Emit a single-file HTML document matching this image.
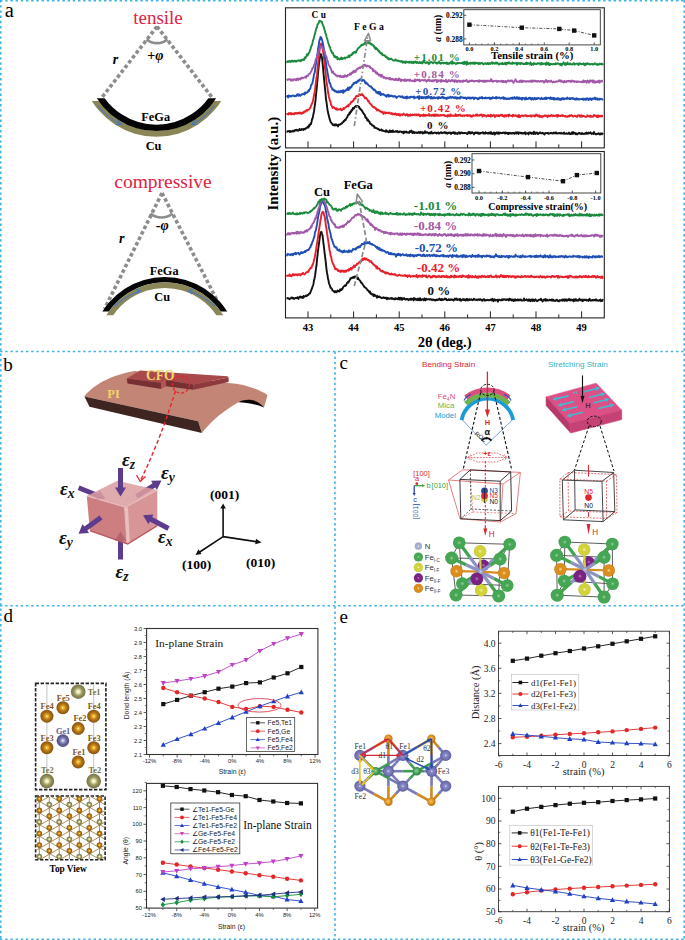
<!DOCTYPE html>
<html><head><meta charset="utf-8"><style>
html,body{margin:0;padding:0;background:#fff;}
svg{display:block;}
</style></head><body>
<svg width="685" height="940" viewBox="0 0 685 940">
<rect width="685" height="940" fill="#fff"/>
<line x1='0.8' y1='0' x2='0.8' y2='940' stroke='#3db4e6' stroke-width='1.6' stroke-dasharray='2.4 2.8'/>
<line x1='684.2' y1='0' x2='684.2' y2='940' stroke='#3db4e6' stroke-width='1.6' stroke-dasharray='2.4 2.8'/>
<line x1='0' y1='0.8' x2='685' y2='0.8' stroke='#3db4e6' stroke-width='1.6' stroke-dasharray='2.4 2.8'/>
<line x1='0' y1='939.2' x2='685' y2='939.2' stroke='#3db4e6' stroke-width='1.6' stroke-dasharray='2.4 2.8'/>
<line x1='0' y1='351.5' x2='685' y2='351.5' stroke='#3db4e6' stroke-width='1.6' stroke-dasharray='2.4 2.8'/>
<line x1='0' y1='605.8' x2='685' y2='605.8' stroke='#3db4e6' stroke-width='1.6' stroke-dasharray='2.4 2.8'/>
<line x1='335' y1='351.5' x2='335' y2='940' stroke='#3db4e6' stroke-width='1.6' stroke-dasharray='2.4 2.8'/>
<rect x='285.5' y='7.8' width='318.79999999999995' height='140.1' fill='none' stroke='#222' stroke-width='1.1'/>
<rect x='285.5' y='151.5' width='318.79999999999995' height='166.39999999999998' fill='none' stroke='#222' stroke-width='1.1'/>
<line x1='308.0' y1='147.9' x2='308.0' y2='141.4' stroke='#222' stroke-width='1'/>
<line x1='330.8' y1='147.9' x2='330.8' y2='144.4' stroke='#222' stroke-width='1'/>
<line x1='353.6' y1='147.9' x2='353.6' y2='141.4' stroke='#222' stroke-width='1'/>
<line x1='376.4' y1='147.9' x2='376.4' y2='144.4' stroke='#222' stroke-width='1'/>
<line x1='399.2' y1='147.9' x2='399.2' y2='141.4' stroke='#222' stroke-width='1'/>
<line x1='422.0' y1='147.9' x2='422.0' y2='144.4' stroke='#222' stroke-width='1'/>
<line x1='444.8' y1='147.9' x2='444.8' y2='141.4' stroke='#222' stroke-width='1'/>
<line x1='467.6' y1='147.9' x2='467.6' y2='144.4' stroke='#222' stroke-width='1'/>
<line x1='490.4' y1='147.9' x2='490.4' y2='141.4' stroke='#222' stroke-width='1'/>
<line x1='513.2' y1='147.9' x2='513.2' y2='144.4' stroke='#222' stroke-width='1'/>
<line x1='536.0' y1='147.9' x2='536.0' y2='141.4' stroke='#222' stroke-width='1'/>
<line x1='558.8' y1='147.9' x2='558.8' y2='144.4' stroke='#222' stroke-width='1'/>
<line x1='581.6' y1='147.9' x2='581.6' y2='141.4' stroke='#222' stroke-width='1'/>
<line x1='308.0' y1='317.9' x2='308.0' y2='311.4' stroke='#222' stroke-width='1'/>
<line x1='330.8' y1='317.9' x2='330.8' y2='314.4' stroke='#222' stroke-width='1'/>
<line x1='353.6' y1='317.9' x2='353.6' y2='311.4' stroke='#222' stroke-width='1'/>
<line x1='376.4' y1='317.9' x2='376.4' y2='314.4' stroke='#222' stroke-width='1'/>
<line x1='399.2' y1='317.9' x2='399.2' y2='311.4' stroke='#222' stroke-width='1'/>
<line x1='422.0' y1='317.9' x2='422.0' y2='314.4' stroke='#222' stroke-width='1'/>
<line x1='444.8' y1='317.9' x2='444.8' y2='311.4' stroke='#222' stroke-width='1'/>
<line x1='467.6' y1='317.9' x2='467.6' y2='314.4' stroke='#222' stroke-width='1'/>
<line x1='490.4' y1='317.9' x2='490.4' y2='311.4' stroke='#222' stroke-width='1'/>
<line x1='513.2' y1='317.9' x2='513.2' y2='314.4' stroke='#222' stroke-width='1'/>
<line x1='536.0' y1='317.9' x2='536.0' y2='311.4' stroke='#222' stroke-width='1'/>
<line x1='558.8' y1='317.9' x2='558.8' y2='314.4' stroke='#222' stroke-width='1'/>
<line x1='581.6' y1='317.9' x2='581.6' y2='311.4' stroke='#222' stroke-width='1'/>
<text x='308.0' y='330.5' font-family='Liberation Serif' font-size='10.5' fill='#000' font-weight='bold' text-anchor='middle' >43</text>
<text x='353.6' y='330.5' font-family='Liberation Serif' font-size='10.5' fill='#000' font-weight='bold' text-anchor='middle' >44</text>
<text x='399.2' y='330.5' font-family='Liberation Serif' font-size='10.5' fill='#000' font-weight='bold' text-anchor='middle' >45</text>
<text x='444.8' y='330.5' font-family='Liberation Serif' font-size='10.5' fill='#000' font-weight='bold' text-anchor='middle' >46</text>
<text x='490.4' y='330.5' font-family='Liberation Serif' font-size='10.5' fill='#000' font-weight='bold' text-anchor='middle' >47</text>
<text x='536.0' y='330.5' font-family='Liberation Serif' font-size='10.5' fill='#000' font-weight='bold' text-anchor='middle' >48</text>
<text x='581.6' y='330.5' font-family='Liberation Serif' font-size='10.5' fill='#000' font-weight='bold' text-anchor='middle' >49</text>
<text x='444.7' y='347.2' font-family='Liberation Serif' font-size='14.6' fill='#000' font-weight='bold' text-anchor='middle' >2θ (deg.)</text>
<text transform='translate(278.4,163.7) rotate(-90)' font-family='Liberation Serif' font-size='15' font-weight='bold' text-anchor='middle'>Intensity (a.u.)</text>
<polyline points='286.5,131.6 287.0,131.8 287.5,131.4 288.0,131.0 288.5,131.3 289.0,130.9 289.5,131.5 290.0,132.1 290.5,131.1 291.0,131.0 291.5,131.6 292.0,131.5 292.5,131.3 293.0,130.7 293.5,131.1 294.0,131.5 294.5,130.3 295.0,130.7 295.5,129.9 296.0,130.2 296.5,129.8 297.0,130.6 297.5,130.0 298.0,130.7 298.5,130.6 299.0,130.3 299.5,129.0 300.0,130.0 300.5,130.1 301.0,130.1 301.5,129.1 302.0,129.5 302.5,129.1 303.0,129.1 303.5,130.0 304.0,128.8 304.5,129.0 305.0,129.3 305.5,128.3 306.0,128.3 306.5,128.2 307.0,127.8 307.5,126.8 308.0,127.1 308.5,127.4 309.0,125.2 309.5,126.0 310.0,124.8 310.5,123.5 311.0,124.0 311.5,122.0 312.0,119.5 312.5,118.4 313.0,116.6 313.5,113.7 314.0,111.4 314.5,107.7 315.0,104.4 315.5,100.6 316.0,94.9 316.5,90.4 317.0,84.8 317.5,79.6 318.0,73.4 318.5,68.4 319.0,63.7 319.5,60.1 320.0,57.2 320.5,54.1 321.0,54.2 321.5,56.4 322.0,57.7 322.5,62.4 323.0,67.3 323.5,73.3 324.0,78.4 324.5,83.3 325.0,88.5 325.5,93.5 326.0,99.1 326.5,102.2 327.0,106.0 327.5,109.7 328.0,112.2 328.5,114.6 329.0,116.2 329.5,118.6 330.0,119.8 330.5,121.8 331.0,122.5 331.5,122.9 332.0,123.9 332.5,123.9 333.0,125.0 333.5,124.8 334.0,125.3 334.5,124.5 335.0,125.5 335.5,124.5 336.0,124.3 336.5,125.2 337.0,124.9 337.5,125.4 338.0,126.4 338.5,124.6 339.0,124.5 339.5,124.8 340.0,124.7 340.5,124.0 341.0,123.7 341.5,123.9 342.0,123.4 342.5,122.1 343.0,122.2 343.5,121.8 344.0,120.7 344.5,120.9 345.0,119.7 345.5,120.1 346.0,119.0 346.5,118.3 347.0,117.3 347.5,116.8 348.0,115.0 348.5,114.8 349.0,114.8 349.5,112.7 350.0,113.6 350.5,111.4 351.0,112.0 351.5,110.3 352.0,110.5 352.5,109.5 353.0,107.9 353.5,108.8 354.0,108.4 354.5,107.1 355.0,106.6 355.5,106.4 356.0,105.8 356.5,106.8 357.0,105.9 357.5,106.3 358.0,106.1 358.5,106.5 359.0,106.6 359.5,108.4 360.0,108.2 360.5,109.5 361.0,109.6 361.5,109.9 362.0,110.9 362.5,111.6 363.0,112.7 363.5,113.3 364.0,114.2 364.5,114.4 365.0,115.5 365.5,117.7 366.0,117.2 366.5,117.7 367.0,119.3 367.5,120.6 368.0,119.7 368.5,121.1 369.0,121.5 369.5,121.5 370.0,123.5 370.5,123.6 371.0,124.2 371.5,124.2 372.0,125.4 372.5,125.3 373.0,125.9 373.5,125.8 374.0,126.1 374.5,127.9 375.0,127.2 375.5,127.9 376.0,128.0 376.5,128.1 377.0,128.3 377.5,129.1 378.0,128.8 378.5,129.1 379.0,129.4 379.5,130.2 380.0,130.1 380.5,130.1 381.0,129.7 381.5,129.4 382.0,130.8 382.5,130.9 383.0,130.4 383.5,130.8 384.0,131.1 384.5,131.2 385.0,131.3 385.5,130.6 386.0,131.8 386.5,130.3 387.0,131.5 387.5,131.4 388.0,131.7 388.5,132.3 389.0,132.1 389.5,130.7 390.0,130.5 390.5,131.9 391.0,130.9 391.5,131.5 392.0,132.0 392.5,130.7 393.0,130.5 393.5,131.8 394.0,131.7 394.5,131.6 395.0,131.8 395.5,131.3 396.0,131.0 396.5,131.7 397.0,131.3 397.5,131.0 398.0,132.2 398.5,131.9 399.0,132.2 399.5,131.4 400.0,131.6 400.5,131.5 401.0,131.6 401.5,132.2 402.0,131.7 402.5,132.3 403.0,132.3 403.5,133.3 404.0,131.4 404.5,132.7 405.0,132.2 405.5,132.2 406.0,131.4 406.5,132.0 407.0,132.7 407.5,132.2 408.0,132.3 408.5,132.2 409.0,133.0 409.5,132.3 410.0,131.1 410.5,132.0 411.0,131.3 411.5,130.6 412.0,132.1 412.5,133.1 413.0,132.5 413.5,131.8 414.0,131.9 414.5,133.1 415.0,132.6 415.5,132.5 416.0,132.5 416.5,132.5 417.0,133.0 417.5,132.8 418.0,132.7 418.5,132.0 419.0,132.8 419.5,132.2 420.0,133.2 420.5,131.9 421.0,132.5 421.5,132.6 422.0,131.9 422.5,133.6 423.0,133.4 423.5,132.4 424.0,133.1 424.5,132.9 425.0,131.2 425.5,132.8 426.0,132.6 426.5,132.7 427.0,132.1 427.5,132.5 428.0,132.6 428.5,133.4 429.0,132.9 429.5,132.7 430.0,133.6 430.5,132.4 431.0,132.5 431.5,131.7 432.0,133.6 432.5,133.3 433.0,133.3 433.5,133.1 434.0,132.8 434.5,132.9 435.0,132.6 435.5,132.7 436.0,132.8 436.5,133.6 437.0,133.1 437.5,132.8 438.0,132.5 438.5,132.5 439.0,133.7 439.5,133.1 440.0,132.9 440.5,132.6 441.0,132.2 441.5,132.8 442.0,133.3 442.5,132.6 443.0,132.7 443.5,132.7 444.0,132.9 444.5,132.0 445.0,132.7 445.5,132.4 446.0,133.4 446.5,132.5 447.0,133.2 447.5,133.7 448.0,132.7 448.5,132.6 449.0,133.0 449.5,132.9 450.0,132.4 450.5,133.2 451.0,134.0 451.5,132.8 452.0,132.8 452.5,132.4 453.0,133.1 453.5,132.3 454.0,132.3 454.5,133.7 455.0,132.5 455.5,133.6 456.0,133.8 456.5,133.1 457.0,133.3 457.5,134.0 458.0,132.9 458.5,132.7 459.0,132.2 459.5,133.0 460.0,133.8 460.5,133.5 461.0,132.5 461.5,132.5 462.0,132.7 462.5,133.2 463.0,132.9 463.5,133.1 464.0,133.2 464.5,132.9 465.0,133.0 465.5,133.1 466.0,133.0 466.5,133.3 467.0,134.1 467.5,133.4 468.0,133.1 468.5,132.1 469.0,133.3 469.5,132.0 470.0,132.3 470.5,133.5 471.0,133.4 471.5,133.0 472.0,132.1 472.5,132.9 473.0,132.7 473.5,133.4 474.0,134.3 474.5,133.2 475.0,132.6 475.5,132.4 476.0,133.1 476.5,133.0 477.0,132.5 477.5,133.2 478.0,132.5 478.5,133.7 479.0,133.7 479.5,133.7 480.0,132.8 480.5,133.4 481.0,133.0 481.5,132.9 482.0,132.9 482.5,132.4 483.0,132.3 483.5,133.6 484.0,133.0 484.5,133.2 485.0,133.7 485.5,132.2 486.0,132.7 486.5,133.2 487.0,133.4 487.5,132.9 488.0,133.7 488.5,133.3 489.0,132.5 489.5,132.6 490.0,133.6 490.5,133.4 491.0,132.1 491.5,133.9 492.0,133.5 492.5,133.9 493.0,133.0 493.5,133.0 494.0,132.5 494.5,134.6 495.0,133.1 495.5,134.0 496.0,132.8 496.5,133.3 497.0,132.3 497.5,133.0 498.0,133.7 498.5,132.5 499.0,133.8 499.5,133.4 500.0,132.6 500.5,132.9 501.0,132.9 501.5,133.2 502.0,132.9 502.5,132.8 503.0,133.0 503.5,132.6 504.0,132.5 504.5,133.2 505.0,133.7 505.5,132.4 506.0,133.2 506.5,132.9 507.0,132.7 507.5,133.7 508.0,132.9 508.5,134.1 509.0,132.8 509.5,133.4 510.0,133.1 510.5,132.8 511.0,133.6 511.5,133.2 512.0,133.6 512.5,133.2 513.0,132.7 513.5,133.2 514.0,133.3 514.5,133.8 515.0,132.8 515.5,133.2 516.0,132.3 516.5,133.6 517.0,132.7 517.5,132.3 518.0,133.2 518.5,133.9 519.0,132.4 519.5,132.7 520.0,132.9 520.5,132.7 521.0,133.5 521.5,132.8 522.0,132.9 522.5,133.6 523.0,132.9 523.5,133.5 524.0,132.8 524.5,132.6 525.0,132.3 525.5,134.3 526.0,133.1 526.5,133.4 527.0,133.3 527.5,133.4 528.0,133.3 528.5,134.4 529.0,132.7 529.5,132.5 530.0,132.8 530.5,132.6 531.0,133.7 531.5,133.8 532.0,132.8 532.5,132.6 533.0,133.1 533.5,134.1 534.0,131.8 534.5,133.6 535.0,132.7 535.5,133.9 536.0,132.7 536.5,133.2 537.0,132.5 537.5,132.8 538.0,134.1 538.5,133.8 539.0,133.1 539.5,132.9 540.0,132.3 540.5,133.1 541.0,133.3 541.5,133.3 542.0,133.3 542.5,132.7 543.0,133.3 543.5,133.3 544.0,134.1 544.5,134.4 545.0,133.3 545.5,132.9 546.0,133.3 546.5,133.0 547.0,133.0 547.5,133.3 548.0,132.8 548.5,133.7 549.0,133.3 549.5,133.5 550.0,133.3 550.5,133.0 551.0,132.9 551.5,133.3 552.0,133.1 552.5,133.5 553.0,133.4 553.5,132.6 554.0,133.4 554.5,132.7 555.0,133.1 555.5,133.2 556.0,132.3 556.5,133.5 557.0,133.5 557.5,133.3 558.0,133.2 558.5,133.2 559.0,132.9 559.5,133.3 560.0,133.1 560.5,133.5 561.0,132.8 561.5,133.6 562.0,133.5 562.5,133.4 563.0,133.2 563.5,133.7 564.0,132.5 564.5,133.7 565.0,133.6 565.5,133.6 566.0,133.7 566.5,133.1 567.0,133.3 567.5,133.8 568.0,133.7 568.5,133.6 569.0,132.6 569.5,133.7 570.0,134.1 570.5,134.0 571.0,133.6 571.5,132.6 572.0,134.0 572.5,133.4 573.0,132.1 573.5,133.7 574.0,132.6 574.5,132.8 575.0,133.1 575.5,134.2 576.0,133.3 576.5,133.6 577.0,134.4 577.5,134.4 578.0,133.4 578.5,133.3 579.0,132.8 579.5,133.1 580.0,133.7 580.5,133.7 581.0,133.5 581.5,134.0 582.0,133.1 582.5,133.5 583.0,133.9 583.5,133.8 584.0,134.1 584.5,133.7 585.0,133.3 585.5,133.7 586.0,133.0 586.5,132.6 587.0,133.8 587.5,133.5 588.0,133.7 588.5,132.6 589.0,133.3 589.5,133.2 590.0,133.0 590.5,132.3 591.0,133.3 591.5,134.0 592.0,133.7 592.5,133.2 593.0,133.5 593.5,133.9 594.0,132.0 594.5,133.5 595.0,133.8 595.5,133.9 596.0,134.5 596.5,134.2 597.0,133.7 597.5,133.7 598.0,134.0 598.5,133.2 599.0,133.5 599.5,134.0 600.0,134.6 600.5,133.5 601.0,133.5 601.5,133.7 602.0,134.3 602.5,133.5 603.0,134.4' fill='none' stroke='#111111' stroke-width='1.9' stroke-linejoin='round'/>
<polyline points='286.5,113.5 287.0,113.9 287.5,113.9 288.0,114.4 288.5,114.5 289.0,113.1 289.5,113.4 290.0,114.1 290.5,113.5 291.0,113.0 291.5,114.4 292.0,114.0 292.5,114.0 293.0,113.4 293.5,114.2 294.0,113.5 294.5,114.2 295.0,113.0 295.5,113.0 296.0,113.5 296.5,113.0 297.0,113.7 297.5,113.4 298.0,112.7 298.5,113.2 299.0,112.8 299.5,113.5 300.0,112.5 300.5,112.6 301.0,113.4 301.5,113.8 302.0,113.6 302.5,112.4 303.0,112.4 303.5,113.0 304.0,111.9 304.5,111.3 305.0,111.7 305.5,111.7 306.0,110.8 306.5,110.1 307.0,110.0 307.5,110.8 308.0,109.7 308.5,109.6 309.0,109.4 309.5,109.0 310.0,107.9 310.5,107.5 311.0,105.8 311.5,105.0 312.0,103.3 312.5,102.9 313.0,100.4 313.5,97.9 314.0,95.6 314.5,92.9 315.0,90.2 315.5,85.3 316.0,81.7 316.5,77.8 317.0,74.9 317.5,69.3 318.0,64.0 318.5,59.7 319.0,55.9 319.5,50.6 320.0,47.1 320.5,45.5 321.0,43.8 321.5,43.7 322.0,44.2 322.5,47.7 323.0,50.8 323.5,54.1 324.0,58.5 324.5,61.7 325.0,67.9 325.5,72.2 326.0,77.0 326.5,81.4 327.0,84.8 327.5,87.7 328.0,92.0 328.5,94.3 329.0,97.0 329.5,99.0 330.0,101.0 330.5,101.5 331.0,104.8 331.5,105.3 332.0,106.7 332.5,107.9 333.0,107.4 333.5,106.9 334.0,107.8 334.5,108.0 335.0,108.6 335.5,109.2 336.0,108.2 336.5,109.6 337.0,108.7 337.5,109.7 338.0,109.6 338.5,109.5 339.0,109.6 339.5,109.3 340.0,109.2 340.5,108.5 341.0,109.3 341.5,110.2 342.0,110.2 342.5,109.6 343.0,109.1 343.5,108.1 344.0,109.1 344.5,108.0 345.0,107.7 345.5,107.3 346.0,107.1 346.5,106.5 347.0,106.3 347.5,105.4 348.0,105.4 348.5,106.4 349.0,104.6 349.5,104.1 350.0,104.0 350.5,103.6 351.0,102.0 351.5,102.0 352.0,102.1 352.5,101.2 353.0,100.5 353.5,100.7 354.0,98.9 354.5,98.8 355.0,97.9 355.5,98.5 356.0,96.1 356.5,96.3 357.0,96.0 357.5,96.2 358.0,95.9 358.5,96.0 359.0,94.1 359.5,95.3 360.0,94.6 360.5,94.4 361.0,95.1 361.5,94.4 362.0,94.0 362.5,95.2 363.0,94.9 363.5,95.7 364.0,96.7 364.5,97.1 365.0,98.3 365.5,97.9 366.0,97.7 366.5,98.7 367.0,99.2 367.5,99.7 368.0,101.2 368.5,101.2 369.0,101.1 369.5,103.1 370.0,103.3 370.5,104.1 371.0,104.5 371.5,105.3 372.0,105.5 372.5,106.7 373.0,106.7 373.5,107.2 374.0,107.6 374.5,107.1 375.0,108.2 375.5,108.5 376.0,109.1 376.5,108.6 377.0,110.6 377.5,110.1 378.0,109.6 378.5,109.6 379.0,110.7 379.5,111.0 380.0,110.9 380.5,111.6 381.0,111.4 381.5,112.2 382.0,111.7 382.5,112.2 383.0,112.9 383.5,113.9 384.0,112.1 384.5,112.5 385.0,112.4 385.5,113.4 386.0,112.5 386.5,112.9 387.0,113.3 387.5,112.8 388.0,112.9 388.5,113.2 389.0,112.4 389.5,112.8 390.0,113.5 390.5,113.8 391.0,113.7 391.5,112.9 392.0,113.6 392.5,114.4 393.0,114.3 393.5,114.0 394.0,113.6 394.5,114.5 395.0,113.8 395.5,113.5 396.0,113.8 396.5,115.0 397.0,114.4 397.5,114.9 398.0,114.1 398.5,114.9 399.0,114.0 399.5,114.3 400.0,115.8 400.5,114.9 401.0,114.2 401.5,114.5 402.0,114.7 402.5,115.2 403.0,114.3 403.5,113.6 404.0,114.4 404.5,114.6 405.0,114.7 405.5,115.4 406.0,114.8 406.5,115.1 407.0,114.1 407.5,115.2 408.0,115.9 408.5,115.2 409.0,114.9 409.5,114.9 410.0,115.8 410.5,114.3 411.0,114.8 411.5,115.1 412.0,115.3 412.5,114.6 413.0,115.0 413.5,114.7 414.0,115.0 414.5,114.8 415.0,114.3 415.5,114.9 416.0,115.4 416.5,114.4 417.0,114.8 417.5,115.3 418.0,114.4 418.5,115.1 419.0,114.4 419.5,115.6 420.0,116.3 420.5,116.1 421.0,114.9 421.5,115.5 422.0,115.1 422.5,115.1 423.0,115.9 423.5,114.4 424.0,115.7 424.5,115.1 425.0,115.9 425.5,115.2 426.0,114.8 426.5,115.3 427.0,115.5 427.5,115.2 428.0,115.4 428.5,114.9 429.0,114.0 429.5,115.7 430.0,115.6 430.5,115.3 431.0,115.2 431.5,115.8 432.0,115.0 432.5,114.8 433.0,115.1 433.5,115.9 434.0,114.5 434.5,115.9 435.0,114.9 435.5,114.6 436.0,115.9 436.5,115.2 437.0,114.5 437.5,115.1 438.0,115.8 438.5,115.9 439.0,115.1 439.5,115.5 440.0,115.7 440.5,114.9 441.0,115.5 441.5,115.3 442.0,115.0 442.5,115.1 443.0,115.4 443.5,115.3 444.0,115.0 444.5,115.1 445.0,116.0 445.5,115.5 446.0,115.8 446.5,116.0 447.0,115.7 447.5,116.6 448.0,114.9 448.5,115.8 449.0,115.2 449.5,116.4 450.0,116.3 450.5,114.3 451.0,114.9 451.5,115.8 452.0,115.8 452.5,115.8 453.0,115.4 453.5,115.7 454.0,115.8 454.5,115.4 455.0,116.0 455.5,114.2 456.0,115.8 456.5,114.9 457.0,116.0 457.5,115.3 458.0,115.0 458.5,115.7 459.0,115.0 459.5,115.0 460.0,114.6 460.5,115.5 461.0,115.7 461.5,116.0 462.0,115.4 462.5,116.1 463.0,115.5 463.5,115.4 464.0,115.8 464.5,116.1 465.0,115.3 465.5,115.4 466.0,115.4 466.5,115.6 467.0,115.0 467.5,116.1 468.0,115.3 468.5,115.8 469.0,115.1 469.5,115.7 470.0,115.8 470.5,115.3 471.0,116.7 471.5,115.8 472.0,116.5 472.5,116.1 473.0,115.2 473.5,115.3 474.0,115.8 474.5,115.6 475.0,115.6 475.5,115.4 476.0,114.6 476.5,115.5 477.0,114.4 477.5,115.8 478.0,115.2 478.5,115.2 479.0,115.5 479.5,115.7 480.0,114.8 480.5,114.6 481.0,115.0 481.5,114.5 482.0,115.1 482.5,116.5 483.0,115.0 483.5,116.0 484.0,114.9 484.5,115.8 485.0,115.5 485.5,115.6 486.0,115.9 486.5,116.6 487.0,115.7 487.5,115.7 488.0,115.1 488.5,116.0 489.0,115.5 489.5,116.1 490.0,115.6 490.5,116.6 491.0,114.6 491.5,115.5 492.0,116.2 492.5,115.5 493.0,115.2 493.5,115.5 494.0,114.9 494.5,115.7 495.0,117.0 495.5,116.3 496.0,115.1 496.5,115.2 497.0,115.5 497.5,116.2 498.0,115.2 498.5,115.3 499.0,116.2 499.5,116.2 500.0,115.5 500.5,115.1 501.0,114.9 501.5,115.3 502.0,114.5 502.5,116.1 503.0,115.4 503.5,116.0 504.0,116.8 504.5,116.4 505.0,115.1 505.5,116.2 506.0,116.4 506.5,115.3 507.0,115.2 507.5,115.7 508.0,114.9 508.5,116.6 509.0,114.4 509.5,115.1 510.0,115.6 510.5,115.6 511.0,115.9 511.5,115.9 512.0,115.7 512.5,116.4 513.0,114.6 513.5,115.8 514.0,115.4 514.5,115.9 515.0,115.9 515.5,115.3 516.0,115.4 516.5,116.2 517.0,116.0 517.5,115.4 518.0,116.9 518.5,117.1 519.0,115.0 519.5,116.0 520.0,117.2 520.5,116.2 521.0,115.9 521.5,115.7 522.0,115.5 522.5,115.7 523.0,115.5 523.5,116.2 524.0,115.6 524.5,115.6 525.0,115.2 525.5,115.8 526.0,115.3 526.5,115.7 527.0,116.4 527.5,116.0 528.0,116.1 528.5,116.0 529.0,115.9 529.5,115.8 530.0,115.7 530.5,116.3 531.0,115.3 531.5,116.6 532.0,115.9 532.5,115.5 533.0,115.6 533.5,115.5 534.0,116.0 534.5,115.5 535.0,116.5 535.5,115.4 536.0,114.6 536.5,115.5 537.0,114.8 537.5,115.9 538.0,116.5 538.5,116.2 539.0,115.2 539.5,115.5 540.0,116.9 540.5,116.1 541.0,115.9 541.5,116.5 542.0,117.3 542.5,116.6 543.0,116.0 543.5,116.1 544.0,116.3 544.5,115.6 545.0,115.3 545.5,116.0 546.0,115.4 546.5,115.9 547.0,116.0 547.5,117.2 548.0,115.5 548.5,115.9 549.0,115.8 549.5,116.2 550.0,116.5 550.5,115.7 551.0,115.5 551.5,115.0 552.0,115.4 552.5,116.2 553.0,116.0 553.5,115.4 554.0,115.8 554.5,116.0 555.0,116.2 555.5,115.6 556.0,115.8 556.5,115.0 557.0,115.3 557.5,116.9 558.0,114.8 558.5,115.8 559.0,116.1 559.5,115.8 560.0,115.5 560.5,116.0 561.0,116.0 561.5,115.9 562.0,115.0 562.5,115.9 563.0,115.5 563.5,115.7 564.0,116.1 564.5,116.4 565.0,116.5 565.5,115.7 566.0,116.5 566.5,116.7 567.0,116.6 567.5,116.8 568.0,115.9 568.5,115.9 569.0,116.5 569.5,115.3 570.0,116.1 570.5,115.7 571.0,115.8 571.5,115.1 572.0,115.5 572.5,116.0 573.0,116.5 573.5,116.6 574.0,116.0 574.5,115.9 575.0,115.6 575.5,116.3 576.0,115.9 576.5,116.4 577.0,117.0 577.5,116.0 578.0,115.2 578.5,115.6 579.0,115.3 579.5,115.4 580.0,116.8 580.5,116.2 581.0,115.2 581.5,116.4 582.0,116.8 582.5,115.9 583.0,115.7 583.5,115.9 584.0,116.2 584.5,116.4 585.0,116.7 585.5,116.8 586.0,116.7 586.5,116.8 587.0,116.5 587.5,115.3 588.0,116.0 588.5,116.3 589.0,115.9 589.5,116.6 590.0,115.9 590.5,115.6 591.0,116.9 591.5,116.5 592.0,116.2 592.5,116.6 593.0,116.7 593.5,116.3 594.0,114.8 594.5,115.8 595.0,115.9 595.5,115.6 596.0,116.2 596.5,116.8 597.0,115.9 597.5,115.5 598.0,117.3 598.5,115.9 599.0,115.5 599.5,116.3 600.0,116.4 600.5,115.8 601.0,116.6 601.5,115.9 602.0,115.7 602.5,116.3 603.0,116.6' fill='none' stroke='#e8202a' stroke-width='1.9' stroke-linejoin='round'/>
<polyline points='286.5,95.7 287.0,96.2 287.5,95.9 288.0,97.5 288.5,95.5 289.0,96.7 289.5,95.9 290.0,95.8 290.5,96.2 291.0,96.3 291.5,96.5 292.0,95.9 292.5,95.4 293.0,95.4 293.5,95.9 294.0,95.9 294.5,96.3 295.0,95.7 295.5,96.0 296.0,96.2 296.5,95.4 297.0,94.4 297.5,94.6 298.0,94.3 298.5,95.9 299.0,94.5 299.5,95.6 300.0,95.1 300.5,95.7 301.0,95.2 301.5,94.5 302.0,94.3 302.5,94.3 303.0,94.3 303.5,93.7 304.0,93.8 304.5,94.5 305.0,92.5 305.5,93.4 306.0,92.5 306.5,92.8 307.0,92.8 307.5,91.9 308.0,91.9 308.5,90.1 309.0,90.9 309.5,89.3 310.0,89.1 310.5,87.8 311.0,85.1 311.5,84.8 312.0,83.8 312.5,82.8 313.0,80.1 313.5,77.8 314.0,74.4 314.5,73.3 315.0,70.6 315.5,66.4 316.0,63.0 316.5,58.7 317.0,56.6 317.5,54.0 318.0,49.5 318.5,46.6 319.0,43.3 319.5,40.0 320.0,39.5 320.5,37.0 321.0,37.3 321.5,38.2 322.0,39.8 322.5,41.6 323.0,44.2 323.5,46.6 324.0,49.6 324.5,53.8 325.0,56.9 325.5,60.0 326.0,63.4 326.5,67.1 327.0,69.4 327.5,72.5 328.0,74.9 328.5,78.2 329.0,80.4 329.5,83.2 330.0,82.9 330.5,84.7 331.0,86.8 331.5,87.2 332.0,88.1 332.5,89.9 333.0,89.4 333.5,89.5 334.0,89.9 334.5,91.1 335.0,91.4 335.5,90.7 336.0,91.1 336.5,92.1 337.0,92.2 337.5,91.6 338.0,92.4 338.5,92.4 339.0,91.1 339.5,91.9 340.0,92.3 340.5,91.7 341.0,90.7 341.5,91.7 342.0,92.1 342.5,92.5 343.0,90.2 343.5,92.7 344.0,90.5 344.5,91.4 345.0,91.3 345.5,91.0 346.0,90.2 346.5,89.2 347.0,89.9 347.5,88.9 348.0,87.6 348.5,90.1 349.0,88.6 349.5,88.8 350.0,86.9 350.5,87.8 351.0,87.5 351.5,87.0 352.0,85.7 352.5,84.6 353.0,84.7 353.5,83.2 354.0,83.0 354.5,83.5 355.0,82.5 355.5,82.5 356.0,82.1 356.5,82.9 357.0,82.1 357.5,81.1 358.0,81.4 358.5,80.1 359.0,80.1 359.5,80.6 360.0,79.3 360.5,79.8 361.0,79.2 361.5,80.0 362.0,81.0 362.5,79.8 363.0,80.6 363.5,80.2 364.0,80.3 364.5,80.6 365.0,82.5 365.5,83.4 366.0,82.8 366.5,82.6 367.0,83.8 367.5,83.7 368.0,84.9 368.5,85.1 369.0,85.6 369.5,86.2 370.0,86.1 370.5,86.6 371.0,86.4 371.5,87.6 372.0,87.5 372.5,88.6 373.0,88.6 373.5,89.6 374.0,90.2 374.5,89.6 375.0,90.3 375.5,90.5 376.0,91.8 376.5,92.7 377.0,92.5 377.5,92.1 378.0,93.4 378.5,92.0 379.0,93.9 379.5,93.0 380.0,92.0 380.5,95.2 381.0,94.8 381.5,93.6 382.0,94.4 382.5,94.4 383.0,94.7 383.5,94.0 384.0,94.6 384.5,95.3 385.0,95.3 385.5,95.9 386.0,95.4 386.5,96.8 387.0,95.2 387.5,95.8 388.0,94.7 388.5,95.1 389.0,96.6 389.5,95.4 390.0,96.3 390.5,96.0 391.0,95.5 391.5,96.0 392.0,95.9 392.5,96.0 393.0,96.7 393.5,96.7 394.0,96.1 394.5,95.9 395.0,96.6 395.5,96.4 396.0,97.1 396.5,98.0 397.0,97.1 397.5,96.6 398.0,96.6 398.5,96.2 399.0,96.2 399.5,96.2 400.0,96.5 400.5,96.5 401.0,97.2 401.5,96.6 402.0,96.7 402.5,96.2 403.0,97.8 403.5,97.2 404.0,97.9 404.5,97.4 405.0,97.8 405.5,96.9 406.0,97.4 406.5,98.5 407.0,96.4 407.5,97.7 408.0,98.0 408.5,97.3 409.0,97.5 409.5,97.8 410.0,96.8 410.5,97.4 411.0,96.7 411.5,96.8 412.0,96.8 412.5,97.1 413.0,97.3 413.5,97.5 414.0,96.4 414.5,98.4 415.0,97.9 415.5,97.7 416.0,97.1 416.5,97.3 417.0,97.6 417.5,97.6 418.0,96.4 418.5,97.8 419.0,99.0 419.5,96.3 420.0,97.9 420.5,97.6 421.0,97.3 421.5,98.2 422.0,96.8 422.5,97.5 423.0,98.3 423.5,97.3 424.0,97.2 424.5,97.5 425.0,97.2 425.5,98.4 426.0,97.0 426.5,98.0 427.0,96.8 427.5,97.9 428.0,97.5 428.5,96.1 429.0,97.5 429.5,96.9 430.0,97.3 430.5,98.4 431.0,96.9 431.5,97.0 432.0,98.4 432.5,97.7 433.0,98.5 433.5,97.8 434.0,97.1 434.5,97.6 435.0,98.3 435.5,98.2 436.0,97.6 436.5,97.7 437.0,97.6 437.5,97.3 438.0,98.8 438.5,97.7 439.0,97.0 439.5,97.4 440.0,98.1 440.5,98.1 441.0,97.6 441.5,97.3 442.0,97.7 442.5,96.8 443.0,97.0 443.5,98.2 444.0,97.5 444.5,98.0 445.0,98.4 445.5,98.1 446.0,97.8 446.5,99.0 447.0,98.2 447.5,97.6 448.0,98.2 448.5,98.0 449.0,97.3 449.5,97.8 450.0,97.7 450.5,96.7 451.0,97.7 451.5,97.7 452.0,97.6 452.5,96.9 453.0,97.6 453.5,97.8 454.0,97.9 454.5,97.2 455.0,98.2 455.5,97.2 456.0,97.7 456.5,98.6 457.0,97.5 457.5,97.6 458.0,98.5 458.5,97.7 459.0,97.7 459.5,98.0 460.0,98.5 460.5,96.7 461.0,97.5 461.5,97.4 462.0,97.3 462.5,97.5 463.0,97.5 463.5,98.1 464.0,97.4 464.5,98.0 465.0,98.2 465.5,97.6 466.0,98.0 466.5,98.9 467.0,98.2 467.5,97.6 468.0,98.0 468.5,97.5 469.0,98.1 469.5,98.5 470.0,97.5 470.5,97.9 471.0,98.6 471.5,97.7 472.0,98.1 472.5,97.5 473.0,97.6 473.5,97.7 474.0,99.2 474.5,97.8 475.0,97.8 475.5,97.7 476.0,98.0 476.5,98.4 477.0,98.2 477.5,99.2 478.0,98.2 478.5,98.9 479.0,98.2 479.5,98.4 480.0,97.3 480.5,98.0 481.0,98.1 481.5,98.0 482.0,96.9 482.5,98.6 483.0,97.9 483.5,97.9 484.0,98.0 484.5,98.0 485.0,98.4 485.5,97.4 486.0,97.6 486.5,98.3 487.0,98.2 487.5,97.9 488.0,97.8 488.5,97.7 489.0,98.1 489.5,98.8 490.0,97.6 490.5,99.0 491.0,98.6 491.5,97.9 492.0,98.6 492.5,97.4 493.0,97.2 493.5,97.5 494.0,98.0 494.5,98.0 495.0,97.9 495.5,98.3 496.0,97.0 496.5,98.5 497.0,97.4 497.5,97.9 498.0,98.0 498.5,97.6 499.0,97.5 499.5,97.7 500.0,98.2 500.5,98.6 501.0,98.6 501.5,97.7 502.0,97.8 502.5,97.8 503.0,98.5 503.5,97.2 504.0,99.0 504.5,98.0 505.0,97.9 505.5,98.5 506.0,98.9 506.5,98.5 507.0,98.9 507.5,98.4 508.0,99.0 508.5,99.0 509.0,98.3 509.5,99.1 510.0,98.4 510.5,98.4 511.0,97.8 511.5,98.2 512.0,98.8 512.5,97.6 513.0,98.7 513.5,98.5 514.0,98.5 514.5,97.1 515.0,98.3 515.5,98.7 516.0,97.9 516.5,98.4 517.0,97.1 517.5,98.7 518.0,98.0 518.5,98.9 519.0,97.4 519.5,98.8 520.0,98.3 520.5,98.8 521.0,97.9 521.5,98.1 522.0,99.6 522.5,98.0 523.0,98.0 523.5,98.3 524.0,97.9 524.5,99.1 525.0,99.4 525.5,98.1 526.0,97.5 526.5,99.1 527.0,99.1 527.5,98.9 528.0,99.1 528.5,98.0 529.0,98.4 529.5,97.7 530.0,97.7 530.5,99.0 531.0,98.1 531.5,99.7 532.0,98.5 532.5,98.1 533.0,98.9 533.5,99.5 534.0,98.8 534.5,97.8 535.0,98.7 535.5,99.3 536.0,98.2 536.5,98.1 537.0,99.1 537.5,98.6 538.0,97.9 538.5,98.3 539.0,98.1 539.5,98.7 540.0,98.6 540.5,99.2 541.0,98.9 541.5,97.7 542.0,98.8 542.5,99.1 543.0,98.8 543.5,99.1 544.0,98.3 544.5,98.0 545.0,99.1 545.5,98.0 546.0,97.4 546.5,99.1 547.0,98.2 547.5,98.4 548.0,97.8 548.5,97.9 549.0,98.0 549.5,98.4 550.0,98.8 550.5,97.3 551.0,99.0 551.5,98.0 552.0,98.0 552.5,99.0 553.0,98.6 553.5,97.8 554.0,99.7 554.5,98.2 555.0,98.8 555.5,98.8 556.0,99.4 556.5,98.4 557.0,99.2 557.5,98.3 558.0,99.3 558.5,98.2 559.0,98.5 559.5,99.7 560.0,98.9 560.5,98.7 561.0,99.9 561.5,98.9 562.0,98.2 562.5,99.1 563.0,98.0 563.5,99.3 564.0,99.4 564.5,98.4 565.0,98.4 565.5,98.8 566.0,98.7 566.5,98.2 567.0,99.0 567.5,97.6 568.0,98.5 568.5,98.5 569.0,98.6 569.5,98.9 570.0,98.1 570.5,99.1 571.0,98.7 571.5,98.4 572.0,98.0 572.5,98.1 573.0,99.0 573.5,98.2 574.0,98.8 574.5,99.4 575.0,99.3 575.5,99.6 576.0,98.6 576.5,98.2 577.0,99.4 577.5,99.0 578.0,99.4 578.5,98.8 579.0,99.5 579.5,99.3 580.0,99.2 580.5,99.1 581.0,99.0 581.5,98.9 582.0,98.9 582.5,99.4 583.0,98.5 583.5,99.8 584.0,98.8 584.5,99.4 585.0,98.8 585.5,98.7 586.0,100.0 586.5,98.7 587.0,98.2 587.5,98.5 588.0,98.7 588.5,100.1 589.0,99.0 589.5,99.4 590.0,98.3 590.5,99.1 591.0,99.3 591.5,99.9 592.0,98.5 592.5,99.2 593.0,99.1 593.5,98.3 594.0,98.9 594.5,98.8 595.0,97.6 595.5,99.2 596.0,99.2 596.5,98.7 597.0,98.2 597.5,99.7 598.0,99.1 598.5,99.5 599.0,99.7 599.5,98.7 600.0,99.4 600.5,98.8 601.0,98.9 601.5,98.9 602.0,99.0 602.5,99.6 603.0,99.0' fill='none' stroke='#1f4fb5' stroke-width='1.9' stroke-linejoin='round'/>
<polyline points='286.5,79.7 287.0,79.6 287.5,79.9 288.0,79.2 288.5,79.4 289.0,79.6 289.5,79.3 290.0,79.5 290.5,79.2 291.0,80.7 291.5,80.3 292.0,79.7 292.5,79.4 293.0,80.6 293.5,79.6 294.0,79.3 294.5,79.5 295.0,79.5 295.5,80.0 296.0,79.2 296.5,80.3 297.0,78.6 297.5,79.4 298.0,78.5 298.5,79.9 299.0,78.7 299.5,78.8 300.0,79.2 300.5,79.4 301.0,78.0 301.5,78.3 302.0,77.6 302.5,78.3 303.0,78.1 303.5,77.8 304.0,77.5 304.5,77.4 305.0,77.0 305.5,77.5 306.0,77.8 306.5,75.6 307.0,76.3 307.5,75.7 308.0,75.8 308.5,74.5 309.0,74.4 309.5,73.4 310.0,73.6 310.5,72.6 311.0,71.6 311.5,71.0 312.0,69.7 312.5,67.9 313.0,68.0 313.5,66.6 314.0,65.0 314.5,64.2 315.0,62.9 315.5,60.2 316.0,58.8 316.5,58.5 317.0,56.9 317.5,54.2 318.0,52.4 318.5,51.3 319.0,50.1 319.5,48.4 320.0,48.4 320.5,47.0 321.0,46.6 321.5,47.6 322.0,46.8 322.5,47.6 323.0,48.6 323.5,49.6 324.0,50.1 324.5,51.5 325.0,52.4 325.5,55.3 326.0,56.2 326.5,56.8 327.0,59.0 327.5,60.9 328.0,62.2 328.5,64.4 329.0,65.4 329.5,65.7 330.0,67.1 330.5,67.6 331.0,69.4 331.5,70.3 332.0,72.6 332.5,71.9 333.0,71.4 333.5,72.8 334.0,73.8 334.5,73.6 335.0,74.2 335.5,74.9 336.0,75.6 336.5,75.6 337.0,75.4 337.5,76.5 338.0,75.9 338.5,76.1 339.0,75.7 339.5,76.1 340.0,76.9 340.5,75.7 341.0,76.6 341.5,77.0 342.0,76.4 342.5,76.7 343.0,75.9 343.5,77.2 344.0,77.0 344.5,76.4 345.0,75.2 345.5,75.5 346.0,76.5 346.5,76.7 347.0,75.8 347.5,76.1 348.0,74.9 348.5,74.9 349.0,74.8 349.5,74.8 350.0,73.5 350.5,74.6 351.0,74.5 351.5,72.9 352.0,72.4 352.5,73.1 353.0,72.2 353.5,70.9 354.0,72.3 354.5,71.6 355.0,70.8 355.5,71.9 356.0,70.4 356.5,69.5 357.0,69.6 357.5,68.6 358.0,68.4 358.5,68.6 359.0,67.7 359.5,67.4 360.0,68.2 360.5,67.5 361.0,67.1 361.5,66.7 362.0,66.4 362.5,66.7 363.0,65.7 363.5,66.6 364.0,65.0 364.5,65.3 365.0,64.7 365.5,65.3 366.0,65.8 366.5,66.5 367.0,65.5 367.5,66.0 368.0,66.1 368.5,66.1 369.0,66.2 369.5,67.2 370.0,66.6 370.5,68.0 371.0,68.3 371.5,68.3 372.0,68.5 372.5,68.8 373.0,71.0 373.5,69.6 374.0,71.6 374.5,71.5 375.0,71.4 375.5,71.3 376.0,72.9 376.5,73.7 377.0,72.6 377.5,73.3 378.0,74.4 378.5,74.4 379.0,75.6 379.5,74.5 380.0,75.4 380.5,74.7 381.0,76.8 381.5,75.5 382.0,75.0 382.5,76.4 383.0,76.6 383.5,77.9 384.0,76.9 384.5,77.3 385.0,77.8 385.5,78.5 386.0,77.8 386.5,78.5 387.0,78.4 387.5,78.1 388.0,78.4 388.5,78.5 389.0,78.1 389.5,79.3 390.0,78.0 390.5,79.5 391.0,79.5 391.5,79.0 392.0,78.7 392.5,79.1 393.0,79.5 393.5,79.7 394.0,79.5 394.5,80.0 395.0,79.2 395.5,79.7 396.0,78.7 396.5,80.0 397.0,79.7 397.5,79.5 398.0,80.4 398.5,80.1 399.0,78.3 399.5,79.9 400.0,79.1 400.5,80.5 401.0,81.3 401.5,79.7 402.0,80.0 402.5,79.9 403.0,80.2 403.5,80.4 404.0,80.8 404.5,79.5 405.0,81.0 405.5,79.6 406.0,80.3 406.5,80.8 407.0,80.6 407.5,79.7 408.0,79.8 408.5,80.0 409.0,80.2 409.5,80.9 410.0,79.6 410.5,80.6 411.0,80.7 411.5,80.6 412.0,80.6 412.5,81.2 413.0,80.6 413.5,80.9 414.0,80.7 414.5,81.4 415.0,79.4 415.5,81.1 416.0,80.3 416.5,80.3 417.0,79.9 417.5,79.5 418.0,80.3 418.5,80.1 419.0,80.8 419.5,79.7 420.0,81.3 420.5,80.7 421.0,80.4 421.5,80.2 422.0,80.1 422.5,80.0 423.0,80.3 423.5,80.6 424.0,80.5 424.5,79.8 425.0,80.5 425.5,80.1 426.0,80.7 426.5,81.7 427.0,81.0 427.5,80.5 428.0,79.8 428.5,79.9 429.0,79.7 429.5,81.1 430.0,80.3 430.5,80.7 431.0,80.4 431.5,80.8 432.0,81.5 432.5,80.3 433.0,80.5 433.5,80.3 434.0,81.2 434.5,80.2 435.0,80.1 435.5,80.0 436.0,80.0 436.5,81.0 437.0,82.2 437.5,80.2 438.0,81.3 438.5,80.9 439.0,80.2 439.5,80.6 440.0,80.7 440.5,80.4 441.0,81.9 441.5,79.8 442.0,81.0 442.5,81.0 443.0,80.5 443.5,80.9 444.0,81.3 444.5,80.9 445.0,81.1 445.5,81.2 446.0,79.7 446.5,81.7 447.0,82.1 447.5,81.4 448.0,81.4 448.5,80.1 449.0,80.8 449.5,80.4 450.0,80.6 450.5,81.4 451.0,80.5 451.5,80.8 452.0,79.9 452.5,80.8 453.0,81.0 453.5,80.5 454.0,80.5 454.5,82.0 455.0,80.3 455.5,80.4 456.0,80.5 456.5,81.6 457.0,82.1 457.5,81.1 458.0,80.6 458.5,80.7 459.0,81.5 459.5,80.5 460.0,81.8 460.5,81.7 461.0,81.0 461.5,81.3 462.0,81.4 462.5,81.8 463.0,80.4 463.5,81.6 464.0,80.8 464.5,80.6 465.0,81.1 465.5,80.9 466.0,80.5 466.5,80.1 467.0,80.5 467.5,81.8 468.0,82.1 468.5,81.4 469.0,81.7 469.5,80.7 470.0,81.0 470.5,81.2 471.0,80.4 471.5,80.5 472.0,81.1 472.5,80.9 473.0,80.5 473.5,81.3 474.0,80.9 474.5,81.6 475.0,81.1 475.5,80.9 476.0,81.1 476.5,81.0 477.0,80.7 477.5,80.8 478.0,81.5 478.5,81.4 479.0,81.8 479.5,80.1 480.0,80.9 480.5,80.9 481.0,81.2 481.5,80.8 482.0,80.8 482.5,81.5 483.0,81.2 483.5,80.5 484.0,81.8 484.5,81.7 485.0,80.8 485.5,81.6 486.0,80.7 486.5,81.7 487.0,81.0 487.5,80.7 488.0,80.9 488.5,80.7 489.0,81.2 489.5,81.2 490.0,81.2 490.5,80.8 491.0,79.1 491.5,81.2 492.0,80.1 492.5,81.3 493.0,81.8 493.5,81.3 494.0,80.9 494.5,81.1 495.0,81.1 495.5,80.9 496.0,80.8 496.5,80.7 497.0,81.8 497.5,81.2 498.0,81.7 498.5,81.0 499.0,81.2 499.5,81.1 500.0,81.4 500.5,81.6 501.0,81.3 501.5,80.8 502.0,80.8 502.5,82.1 503.0,81.0 503.5,81.0 504.0,82.0 504.5,81.8 505.0,81.5 505.5,81.0 506.0,82.5 506.5,81.4 507.0,81.5 507.5,81.1 508.0,80.4 508.5,80.5 509.0,81.4 509.5,81.4 510.0,81.1 510.5,80.6 511.0,80.4 511.5,81.0 512.0,80.4 512.5,81.7 513.0,81.9 513.5,82.8 514.0,81.7 514.5,80.9 515.0,80.8 515.5,79.3 516.0,80.9 516.5,81.2 517.0,81.8 517.5,81.6 518.0,81.6 518.5,81.4 519.0,81.6 519.5,82.1 520.0,80.7 520.5,81.0 521.0,80.5 521.5,82.2 522.0,82.0 522.5,81.7 523.0,80.6 523.5,81.4 524.0,81.1 524.5,81.3 525.0,81.2 525.5,81.6 526.0,81.1 526.5,81.8 527.0,81.4 527.5,81.1 528.0,81.2 528.5,81.1 529.0,81.7 529.5,81.2 530.0,81.5 530.5,81.1 531.0,80.5 531.5,81.8 532.0,80.7 532.5,81.7 533.0,81.5 533.5,80.4 534.0,80.8 534.5,81.0 535.0,80.9 535.5,80.7 536.0,81.7 536.5,81.2 537.0,81.5 537.5,81.1 538.0,81.5 538.5,80.9 539.0,81.3 539.5,81.7 540.0,81.4 540.5,81.1 541.0,80.7 541.5,81.4 542.0,81.5 542.5,81.2 543.0,80.9 543.5,81.7 544.0,82.7 544.5,81.2 545.0,81.5 545.5,81.6 546.0,80.0 546.5,81.4 547.0,81.0 547.5,82.1 548.0,81.2 548.5,80.9 549.0,81.3 549.5,81.5 550.0,81.1 550.5,81.4 551.0,80.6 551.5,81.3 552.0,81.8 552.5,82.5 553.0,81.8 553.5,81.5 554.0,82.0 554.5,82.0 555.0,82.3 555.5,82.0 556.0,81.3 556.5,81.5 557.0,81.5 557.5,81.6 558.0,81.5 558.5,81.0 559.0,80.3 559.5,81.0 560.0,80.3 560.5,81.5 561.0,81.4 561.5,80.5 562.0,81.8 562.5,81.9 563.0,81.5 563.5,82.3 564.0,82.5 564.5,80.8 565.0,82.0 565.5,81.7 566.0,81.7 566.5,82.0 567.0,81.0 567.5,81.1 568.0,81.0 568.5,81.0 569.0,81.4 569.5,80.7 570.0,80.9 570.5,81.8 571.0,81.4 571.5,81.7 572.0,80.4 572.5,81.0 573.0,81.2 573.5,81.5 574.0,81.1 574.5,82.0 575.0,81.4 575.5,81.5 576.0,81.5 576.5,81.9 577.0,81.2 577.5,82.1 578.0,81.7 578.5,81.6 579.0,81.5 579.5,81.8 580.0,82.0 580.5,82.0 581.0,81.7 581.5,82.0 582.0,81.6 582.5,82.2 583.0,81.5 583.5,80.4 584.0,82.2 584.5,81.6 585.0,80.9 585.5,81.4 586.0,81.0 586.5,82.7 587.0,81.8 587.5,80.6 588.0,81.8 588.5,81.3 589.0,82.6 589.5,80.9 590.0,80.3 590.5,81.6 591.0,81.3 591.5,81.3 592.0,80.4 592.5,81.8 593.0,82.5 593.5,80.5 594.0,82.2 594.5,81.2 595.0,82.8 595.5,81.8 596.0,81.4 596.5,82.2 597.0,81.8 597.5,81.2 598.0,81.9 598.5,81.3 599.0,80.6 599.5,82.7 600.0,81.4 600.5,81.2 601.0,81.7 601.5,80.7 602.0,80.8 602.5,81.3 603.0,81.3' fill='none' stroke='#a258a8' stroke-width='1.9' stroke-linejoin='round'/>
<polyline points='286.5,61.7 287.0,62.2 287.5,61.3 288.0,61.9 288.5,61.9 289.0,60.9 289.5,61.6 290.0,61.0 290.5,62.0 291.0,61.7 291.5,61.4 292.0,60.6 292.5,61.4 293.0,60.9 293.5,61.6 294.0,61.2 294.5,60.7 295.0,61.6 295.5,61.5 296.0,60.7 296.5,61.6 297.0,60.7 297.5,60.7 298.0,60.8 298.5,60.3 299.0,60.4 299.5,60.4 300.0,61.2 300.5,61.1 301.0,60.0 301.5,60.8 302.0,59.7 302.5,59.8 303.0,59.8 303.5,59.2 304.0,60.1 304.5,58.5 305.0,57.3 305.5,58.2 306.0,56.8 306.5,56.2 307.0,54.1 307.5,55.6 308.0,54.6 308.5,53.7 309.0,52.8 309.5,52.1 310.0,50.0 310.5,49.2 311.0,46.9 311.5,45.7 312.0,44.9 312.5,42.9 313.0,40.2 313.5,39.4 314.0,37.3 314.5,35.1 315.0,33.9 315.5,31.6 316.0,29.2 316.5,27.7 317.0,27.7 317.5,24.4 318.0,24.1 318.5,23.2 319.0,22.3 319.5,20.7 320.0,20.9 320.5,21.1 321.0,21.7 321.5,21.4 322.0,21.9 322.5,24.2 323.0,25.4 323.5,26.5 324.0,27.5 324.5,29.7 325.0,31.3 325.5,33.5 326.0,34.2 326.5,36.7 327.0,38.4 327.5,39.6 328.0,42.0 328.5,43.5 329.0,44.8 329.5,46.7 330.0,47.1 330.5,49.1 331.0,50.5 331.5,51.5 332.0,52.9 332.5,52.6 333.0,53.2 333.5,54.9 334.0,55.6 334.5,57.1 335.0,56.7 335.5,56.3 336.0,57.6 336.5,57.0 337.0,56.9 337.5,59.3 338.0,58.2 338.5,58.6 339.0,58.6 339.5,59.4 340.0,58.6 340.5,59.1 341.0,57.9 341.5,57.6 342.0,59.1 342.5,59.1 343.0,58.5 343.5,58.3 344.0,58.1 344.5,57.5 345.0,58.6 345.5,58.0 346.0,57.7 346.5,57.5 347.0,57.6 347.5,57.1 348.0,57.0 348.5,55.7 349.0,56.4 349.5,57.1 350.0,55.3 350.5,55.2 351.0,55.4 351.5,55.1 352.0,54.6 352.5,53.0 353.0,53.8 353.5,52.4 354.0,52.2 354.5,52.6 355.0,51.7 355.5,51.8 356.0,52.7 356.5,50.9 357.0,50.4 357.5,49.0 358.0,48.7 358.5,47.9 359.0,47.7 359.5,46.9 360.0,46.7 360.5,46.5 361.0,45.6 361.5,44.9 362.0,44.5 362.5,45.1 363.0,44.5 363.5,44.6 364.0,44.3 364.5,43.3 365.0,43.6 365.5,42.2 366.0,44.1 366.5,43.4 367.0,42.5 367.5,42.0 368.0,42.9 368.5,41.7 369.0,42.5 369.5,43.5 370.0,43.3 370.5,43.3 371.0,44.4 371.5,43.7 372.0,44.8 372.5,44.7 373.0,45.0 373.5,46.2 374.0,45.8 374.5,47.9 375.0,47.0 375.5,49.0 376.0,47.8 376.5,49.2 377.0,48.7 377.5,49.2 378.0,50.5 378.5,51.3 379.0,50.7 379.5,52.5 380.0,51.9 380.5,52.9 381.0,53.5 381.5,54.0 382.0,53.2 382.5,55.4 383.0,55.3 383.5,55.1 384.0,55.1 384.5,55.1 385.0,55.7 385.5,57.0 386.0,56.9 386.5,56.7 387.0,57.3 387.5,58.8 388.0,58.0 388.5,58.1 389.0,59.4 389.5,59.1 390.0,59.1 390.5,58.9 391.0,58.6 391.5,59.0 392.0,59.5 392.5,59.8 393.0,60.3 393.5,60.5 394.0,60.4 394.5,60.6 395.0,60.0 395.5,59.5 396.0,60.5 396.5,60.3 397.0,60.6 397.5,60.9 398.0,60.4 398.5,60.6 399.0,61.2 399.5,61.4 400.0,61.0 400.5,61.7 401.0,61.4 401.5,61.0 402.0,61.6 402.5,62.7 403.0,61.3 403.5,62.4 404.0,62.5 404.5,62.6 405.0,61.4 405.5,63.0 406.0,62.0 406.5,61.8 407.0,61.8 407.5,62.3 408.0,62.1 408.5,62.0 409.0,62.8 409.5,61.7 410.0,61.6 410.5,62.6 411.0,62.6 411.5,62.8 412.0,61.6 412.5,62.8 413.0,62.5 413.5,63.3 414.0,61.6 414.5,62.5 415.0,62.2 415.5,61.5 416.0,62.0 416.5,63.0 417.0,62.2 417.5,62.0 418.0,62.9 418.5,63.0 419.0,63.0 419.5,62.1 420.0,62.5 420.5,63.1 421.0,62.2 421.5,62.1 422.0,63.0 422.5,63.4 423.0,62.0 423.5,61.2 424.0,61.8 424.5,62.1 425.0,62.6 425.5,63.0 426.0,62.6 426.5,62.3 427.0,62.8 427.5,62.2 428.0,62.7 428.5,62.4 429.0,64.2 429.5,63.2 430.0,62.3 430.5,62.2 431.0,62.5 431.5,61.9 432.0,62.4 432.5,62.4 433.0,63.3 433.5,62.6 434.0,62.4 434.5,62.1 435.0,62.2 435.5,62.8 436.0,62.7 436.5,63.5 437.0,62.5 437.5,63.5 438.0,63.0 438.5,62.9 439.0,61.8 439.5,62.2 440.0,63.3 440.5,63.7 441.0,63.1 441.5,63.4 442.0,62.7 442.5,62.8 443.0,62.6 443.5,63.5 444.0,63.2 444.5,62.9 445.0,62.8 445.5,63.3 446.0,63.2 446.5,62.6 447.0,64.0 447.5,63.2 448.0,63.0 448.5,63.9 449.0,63.6 449.5,63.0 450.0,63.4 450.5,62.5 451.0,62.7 451.5,61.8 452.0,63.8 452.5,62.0 453.0,63.5 453.5,62.6 454.0,62.6 454.5,63.0 455.0,63.3 455.5,63.5 456.0,64.1 456.5,63.3 457.0,63.6 457.5,62.8 458.0,63.5 458.5,63.2 459.0,62.9 459.5,63.1 460.0,63.1 460.5,63.3 461.0,63.4 461.5,62.9 462.0,62.8 462.5,63.6 463.0,62.3 463.5,62.9 464.0,64.1 464.5,61.7 465.0,62.8 465.5,63.6 466.0,62.3 466.5,64.7 467.0,61.8 467.5,64.0 468.0,64.1 468.5,63.7 469.0,63.1 469.5,63.5 470.0,62.8 470.5,63.7 471.0,62.7 471.5,63.1 472.0,63.8 472.5,62.7 473.0,63.1 473.5,63.4 474.0,62.6 474.5,63.9 475.0,63.5 475.5,62.5 476.0,63.3 476.5,62.9 477.0,63.0 477.5,63.4 478.0,62.9 478.5,63.9 479.0,62.9 479.5,63.9 480.0,63.3 480.5,63.8 481.0,63.0 481.5,63.1 482.0,62.7 482.5,63.7 483.0,63.9 483.5,64.5 484.0,64.1 484.5,63.5 485.0,63.3 485.5,63.6 486.0,63.4 486.5,64.2 487.0,63.9 487.5,62.9 488.0,63.0 488.5,64.2 489.0,63.6 489.5,63.3 490.0,64.1 490.5,63.2 491.0,63.3 491.5,63.2 492.0,62.3 492.5,63.9 493.0,62.8 493.5,63.1 494.0,63.0 494.5,63.8 495.0,63.4 495.5,63.5 496.0,62.5 496.5,63.4 497.0,62.6 497.5,63.6 498.0,63.7 498.5,63.5 499.0,64.6 499.5,63.8 500.0,63.8 500.5,63.6 501.0,63.4 501.5,64.0 502.0,64.1 502.5,62.8 503.0,64.1 503.5,63.8 504.0,64.0 504.5,63.8 505.0,62.8 505.5,62.9 506.0,64.5 506.5,63.7 507.0,62.7 507.5,63.7 508.0,63.3 508.5,62.5 509.0,62.3 509.5,62.7 510.0,63.7 510.5,63.5 511.0,63.4 511.5,63.7 512.0,63.9 512.5,62.4 513.0,63.4 513.5,63.1 514.0,62.9 514.5,63.3 515.0,63.5 515.5,63.4 516.0,62.8 516.5,63.3 517.0,64.7 517.5,63.0 518.0,62.7 518.5,63.7 519.0,63.9 519.5,63.9 520.0,63.0 520.5,64.2 521.0,63.2 521.5,63.0 522.0,63.3 522.5,63.6 523.0,64.0 523.5,64.0 524.0,63.6 524.5,64.1 525.0,63.7 525.5,64.1 526.0,62.9 526.5,62.8 527.0,64.1 527.5,62.9 528.0,63.5 528.5,63.6 529.0,63.4 529.5,63.4 530.0,64.4 530.5,62.3 531.0,64.2 531.5,64.9 532.0,63.7 532.5,63.7 533.0,64.1 533.5,64.7 534.0,63.0 534.5,63.7 535.0,63.6 535.5,64.0 536.0,63.8 536.5,64.1 537.0,63.5 537.5,63.7 538.0,63.3 538.5,63.3 539.0,63.6 539.5,63.6 540.0,63.1 540.5,64.6 541.0,63.7 541.5,63.0 542.0,64.3 542.5,63.3 543.0,64.0 543.5,63.7 544.0,63.9 544.5,63.8 545.0,63.4 545.5,63.8 546.0,64.9 546.5,62.5 547.0,63.8 547.5,64.0 548.0,63.2 548.5,63.0 549.0,65.0 549.5,63.6 550.0,64.9 550.5,64.1 551.0,63.8 551.5,64.0 552.0,64.1 552.5,64.4 553.0,64.0 553.5,63.9 554.0,63.9 554.5,64.5 555.0,64.3 555.5,63.3 556.0,63.5 556.5,64.0 557.0,63.5 557.5,63.6 558.0,63.3 558.5,63.7 559.0,64.1 559.5,64.4 560.0,63.8 560.5,65.0 561.0,63.8 561.5,65.6 562.0,64.4 562.5,64.1 563.0,63.6 563.5,62.3 564.0,63.8 564.5,64.0 565.0,64.9 565.5,63.1 566.0,64.9 566.5,63.7 567.0,64.3 567.5,62.5 568.0,64.0 568.5,63.7 569.0,64.3 569.5,63.9 570.0,63.3 570.5,64.4 571.0,64.3 571.5,64.2 572.0,64.4 572.5,64.5 573.0,63.9 573.5,63.2 574.0,63.1 574.5,64.7 575.0,64.3 575.5,64.0 576.0,63.7 576.5,63.9 577.0,63.9 577.5,63.7 578.0,63.5 578.5,65.1 579.0,64.1 579.5,63.6 580.0,63.2 580.5,63.5 581.0,64.3 581.5,64.4 582.0,63.8 582.5,64.0 583.0,63.8 583.5,63.3 584.0,64.7 584.5,64.2 585.0,65.3 585.5,63.5 586.0,63.9 586.5,64.5 587.0,63.8 587.5,63.2 588.0,63.5 588.5,64.0 589.0,64.2 589.5,63.9 590.0,64.5 590.5,64.5 591.0,64.2 591.5,64.0 592.0,63.9 592.5,64.3 593.0,64.5 593.5,64.0 594.0,64.3 594.5,63.8 595.0,63.2 595.5,63.5 596.0,64.4 596.5,64.3 597.0,64.9 597.5,64.1 598.0,64.5 598.5,64.8 599.0,64.6 599.5,63.7 600.0,63.9 600.5,64.1 601.0,63.5 601.5,64.3 602.0,64.6 602.5,63.8 603.0,65.1' fill='none' stroke='#1b8a3e' stroke-width='1.9' stroke-linejoin='round'/>
<polyline points='286.5,298.3 287.0,298.3 287.5,298.3 288.0,298.0 288.5,298.6 289.0,298.4 289.5,299.2 290.0,298.6 290.5,298.6 291.0,298.1 291.5,297.4 292.0,298.1 292.5,297.7 293.0,298.6 293.5,298.0 294.0,298.9 294.5,298.4 295.0,298.4 295.5,298.0 296.0,297.9 296.5,298.1 297.0,298.2 297.5,297.2 298.0,297.8 298.5,298.9 299.0,297.4 299.5,297.2 300.0,296.9 300.5,296.4 301.0,297.7 301.5,297.0 302.0,297.0 302.5,297.8 303.0,298.0 303.5,296.0 304.0,296.9 304.5,296.5 305.0,296.2 305.5,296.1 306.0,295.6 306.5,296.2 307.0,295.4 307.5,295.0 308.0,295.2 308.5,294.6 309.0,293.9 309.5,293.3 310.0,293.5 310.5,292.0 311.0,290.9 311.5,289.4 312.0,288.5 312.5,286.6 313.0,285.6 313.5,283.7 314.0,280.1 314.5,278.7 315.0,276.0 315.5,272.5 316.0,268.2 316.5,265.5 317.0,260.1 317.5,255.4 318.0,250.9 318.5,247.0 319.0,243.3 319.5,239.6 320.0,235.9 320.5,232.9 321.0,232.0 321.5,232.0 322.0,233.7 322.5,235.2 323.0,239.5 323.5,243.6 324.0,247.4 324.5,252.2 325.0,255.9 325.5,259.9 326.0,264.5 326.5,269.3 327.0,272.7 327.5,275.1 328.0,278.8 328.5,280.4 329.0,283.5 329.5,284.7 330.0,285.7 330.5,287.7 331.0,287.8 331.5,288.6 332.0,289.0 332.5,290.5 333.0,290.7 333.5,291.0 334.0,291.1 334.5,292.3 335.0,291.3 335.5,291.2 336.0,292.3 336.5,292.3 337.0,291.6 337.5,290.4 338.0,290.8 338.5,291.3 339.0,290.8 339.5,291.4 340.0,289.5 340.5,290.3 341.0,289.2 341.5,289.9 342.0,288.7 342.5,288.9 343.0,287.5 343.5,286.6 344.0,286.3 344.5,286.0 345.0,285.2 345.5,285.9 346.0,285.4 346.5,284.2 347.0,282.9 347.5,282.8 348.0,281.8 348.5,282.4 349.0,281.2 349.5,280.7 350.0,279.7 350.5,278.2 351.0,278.4 351.5,277.8 352.0,278.2 352.5,277.7 353.0,276.9 353.5,276.9 354.0,277.9 354.5,276.4 355.0,276.5 355.5,276.9 356.0,276.8 356.5,277.2 357.0,278.1 357.5,279.1 358.0,277.6 358.5,279.1 359.0,279.7 359.5,280.2 360.0,280.7 360.5,281.3 361.0,282.6 361.5,282.5 362.0,283.3 362.5,284.1 363.0,284.8 363.5,285.3 364.0,286.6 364.5,286.7 365.0,287.4 365.5,287.9 366.0,288.0 366.5,288.6 367.0,289.1 367.5,290.3 368.0,290.3 368.5,290.6 369.0,291.8 369.5,292.4 370.0,291.5 370.5,293.8 371.0,293.3 371.5,293.6 372.0,294.5 372.5,294.3 373.0,294.2 373.5,296.0 374.0,294.5 374.5,295.3 375.0,296.0 375.5,295.2 376.0,295.9 376.5,296.4 377.0,297.7 377.5,296.0 378.0,296.6 378.5,297.1 379.0,297.0 379.5,296.4 380.0,297.4 380.5,297.3 381.0,297.6 381.5,298.1 382.0,298.1 382.5,297.8 383.0,297.9 383.5,297.2 384.0,297.8 384.5,298.0 385.0,297.7 385.5,298.1 386.0,297.6 386.5,299.0 387.0,299.3 387.5,298.0 388.0,298.5 388.5,298.2 389.0,299.0 389.5,298.6 390.0,298.4 390.5,298.3 391.0,298.5 391.5,298.0 392.0,298.9 392.5,298.2 393.0,298.9 393.5,298.7 394.0,299.3 394.5,298.7 395.0,299.3 395.5,298.2 396.0,299.1 396.5,298.6 397.0,298.9 397.5,298.9 398.0,299.4 398.5,297.7 399.0,299.1 399.5,298.1 400.0,299.6 400.5,297.8 401.0,298.4 401.5,298.0 402.0,299.9 402.5,298.3 403.0,299.1 403.5,298.7 404.0,298.1 404.5,298.9 405.0,299.4 405.5,299.0 406.0,299.6 406.5,298.9 407.0,299.1 407.5,298.9 408.0,299.3 408.5,300.2 409.0,299.4 409.5,299.3 410.0,298.9 410.5,298.8 411.0,300.0 411.5,298.6 412.0,298.7 412.5,299.2 413.0,299.0 413.5,300.4 414.0,298.0 414.5,299.5 415.0,299.7 415.5,298.7 416.0,299.0 416.5,299.6 417.0,300.2 417.5,298.8 418.0,298.5 418.5,299.9 419.0,300.2 419.5,299.2 420.0,298.2 420.5,300.2 421.0,299.3 421.5,300.0 422.0,299.4 422.5,299.2 423.0,299.2 423.5,300.2 424.0,300.2 424.5,298.3 425.0,298.9 425.5,300.4 426.0,299.3 426.5,298.7 427.0,299.5 427.5,299.4 428.0,299.4 428.5,299.2 429.0,299.3 429.5,299.3 430.0,299.7 430.5,299.1 431.0,299.4 431.5,299.5 432.0,300.3 432.5,299.7 433.0,299.5 433.5,299.8 434.0,299.8 434.5,300.2 435.0,299.8 435.5,300.6 436.0,300.3 436.5,299.6 437.0,299.4 437.5,300.1 438.0,299.9 438.5,299.5 439.0,298.8 439.5,298.6 440.0,299.8 440.5,300.0 441.0,300.1 441.5,298.9 442.0,300.2 442.5,299.3 443.0,299.9 443.5,299.9 444.0,299.2 444.5,299.3 445.0,298.5 445.5,299.2 446.0,298.7 446.5,299.9 447.0,299.7 447.5,300.2 448.0,299.9 448.5,299.3 449.0,299.9 449.5,299.5 450.0,300.0 450.5,299.9 451.0,299.2 451.5,299.7 452.0,299.7 452.5,299.5 453.0,300.2 453.5,300.7 454.0,299.5 454.5,299.5 455.0,298.5 455.5,299.7 456.0,299.5 456.5,298.5 457.0,299.9 457.5,300.1 458.0,299.3 458.5,299.5 459.0,299.2 459.5,300.2 460.0,298.9 460.5,299.6 461.0,300.8 461.5,299.8 462.0,300.0 462.5,299.7 463.0,299.1 463.5,299.8 464.0,300.0 464.5,299.2 465.0,300.0 465.5,300.5 466.0,300.4 466.5,298.9 467.0,299.3 467.5,298.9 468.0,300.4 468.5,300.1 469.0,300.2 469.5,299.3 470.0,299.2 470.5,299.9 471.0,299.9 471.5,299.3 472.0,299.9 472.5,300.2 473.0,299.9 473.5,299.3 474.0,298.7 474.5,299.7 475.0,299.9 475.5,299.7 476.0,299.6 476.5,299.5 477.0,300.2 477.5,299.8 478.0,299.9 478.5,299.3 479.0,299.5 479.5,299.9 480.0,299.3 480.5,299.2 481.0,299.7 481.5,300.5 482.0,300.0 482.5,300.7 483.0,299.8 483.5,299.7 484.0,299.1 484.5,299.6 485.0,300.7 485.5,300.1 486.0,300.3 486.5,300.3 487.0,299.9 487.5,299.8 488.0,300.0 488.5,300.3 489.0,300.1 489.5,300.2 490.0,300.0 490.5,299.5 491.0,299.8 491.5,299.4 492.0,300.5 492.5,298.8 493.0,299.8 493.5,301.2 494.0,299.7 494.5,299.3 495.0,299.9 495.5,300.6 496.0,299.8 496.5,300.3 497.0,300.0 497.5,299.7 498.0,301.7 498.5,300.0 499.0,299.6 499.5,299.7 500.0,300.1 500.5,300.2 501.0,300.4 501.5,300.0 502.0,299.2 502.5,300.2 503.0,299.8 503.5,299.8 504.0,299.1 504.5,299.6 505.0,299.6 505.5,299.9 506.0,299.2 506.5,300.0 507.0,300.0 507.5,299.3 508.0,299.6 508.5,299.5 509.0,300.5 509.5,298.6 510.0,299.8 510.5,299.1 511.0,299.7 511.5,300.4 512.0,299.6 512.5,300.1 513.0,299.5 513.5,301.1 514.0,300.5 514.5,300.6 515.0,299.3 515.5,299.4 516.0,300.6 516.5,299.9 517.0,299.9 517.5,300.2 518.0,299.3 518.5,300.4 519.0,300.0 519.5,300.3 520.0,299.6 520.5,300.3 521.0,299.6 521.5,300.5 522.0,300.6 522.5,300.5 523.0,300.3 523.5,300.4 524.0,298.5 524.5,300.5 525.0,299.9 525.5,300.1 526.0,299.9 526.5,299.3 527.0,299.7 527.5,300.4 528.0,300.8 528.5,299.7 529.0,299.5 529.5,300.8 530.0,299.6 530.5,301.2 531.0,300.1 531.5,299.6 532.0,300.6 532.5,301.0 533.0,299.3 533.5,300.9 534.0,299.9 534.5,300.9 535.0,299.9 535.5,299.2 536.0,300.3 536.5,300.6 537.0,301.2 537.5,301.0 538.0,300.5 538.5,299.9 539.0,299.8 539.5,299.9 540.0,299.6 540.5,299.9 541.0,298.7 541.5,300.2 542.0,300.1 542.5,301.5 543.0,300.5 543.5,299.8 544.0,300.4 544.5,299.4 545.0,299.8 545.5,299.1 546.0,300.9 546.5,300.4 547.0,299.5 547.5,300.1 548.0,300.6 548.5,300.4 549.0,300.3 549.5,299.6 550.0,299.8 550.5,300.2 551.0,300.6 551.5,299.7 552.0,299.5 552.5,300.7 553.0,299.6 553.5,300.7 554.0,300.3 554.5,300.6 555.0,301.1 555.5,300.5 556.0,300.6 556.5,299.6 557.0,299.7 557.5,300.5 558.0,301.0 558.5,300.9 559.0,301.4 559.5,300.3 560.0,300.2 560.5,300.7 561.0,300.2 561.5,300.1 562.0,299.6 562.5,300.7 563.0,299.6 563.5,300.4 564.0,299.4 564.5,300.8 565.0,299.6 565.5,300.6 566.0,299.3 566.5,299.9 567.0,300.8 567.5,299.7 568.0,300.2 568.5,299.9 569.0,298.9 569.5,300.3 570.0,300.4 570.5,299.6 571.0,300.5 571.5,299.7 572.0,299.6 572.5,300.2 573.0,299.8 573.5,301.4 574.0,299.3 574.5,300.6 575.0,300.7 575.5,299.1 576.0,299.2 576.5,300.5 577.0,299.9 577.5,300.4 578.0,300.8 578.5,300.0 579.0,299.6 579.5,298.7 580.0,300.3 580.5,299.7 581.0,300.4 581.5,300.3 582.0,299.4 582.5,301.2 583.0,300.8 583.5,300.7 584.0,299.6 584.5,300.0 585.0,299.9 585.5,300.0 586.0,299.6 586.5,300.5 587.0,300.3 587.5,300.4 588.0,299.9 588.5,300.9 589.0,300.3 589.5,298.7 590.0,299.9 590.5,300.2 591.0,300.8 591.5,300.1 592.0,300.1 592.5,299.9 593.0,300.6 593.5,300.0 594.0,299.9 594.5,299.8 595.0,300.5 595.5,299.9 596.0,299.3 596.5,300.6 597.0,299.9 597.5,300.4 598.0,300.5 598.5,300.9 599.0,300.8 599.5,299.9 600.0,300.2 600.5,299.5 601.0,301.2 601.5,300.5 602.0,301.0 602.5,300.1 603.0,299.1' fill='none' stroke='#111111' stroke-width='1.9' stroke-linejoin='round'/>
<polyline points='286.5,276.4 287.0,275.6 287.5,275.6 288.0,275.5 288.5,275.8 289.0,275.7 289.5,274.5 290.0,276.0 290.5,275.1 291.0,275.1 291.5,276.2 292.0,275.8 292.5,275.0 293.0,274.1 293.5,275.2 294.0,275.4 294.5,275.0 295.0,274.3 295.5,274.5 296.0,274.2 296.5,274.9 297.0,275.2 297.5,275.3 298.0,274.2 298.5,274.7 299.0,274.8 299.5,274.1 300.0,274.3 300.5,275.4 301.0,274.3 301.5,274.5 302.0,273.7 302.5,273.9 303.0,272.8 303.5,273.6 304.0,274.1 304.5,274.4 305.0,273.8 305.5,273.3 306.0,272.7 306.5,272.2 307.0,272.1 307.5,272.3 308.0,271.2 308.5,271.7 309.0,270.2 309.5,269.2 310.0,269.1 310.5,268.0 311.0,267.4 311.5,267.8 312.0,266.0 312.5,264.9 313.0,264.0 313.5,262.5 314.0,259.6 314.5,258.6 315.0,255.8 315.5,253.0 316.0,250.5 316.5,246.5 317.0,243.6 317.5,240.6 318.0,237.5 318.5,233.3 319.0,229.8 319.5,226.8 320.0,223.6 320.5,220.0 321.0,217.5 321.5,214.3 322.0,212.8 322.5,212.2 323.0,211.8 323.5,212.4 324.0,215.0 324.5,216.1 325.0,218.3 325.5,222.2 326.0,226.3 326.5,228.9 327.0,233.2 327.5,235.9 328.0,239.3 328.5,242.6 329.0,246.1 329.5,250.2 330.0,251.4 330.5,255.4 331.0,256.3 331.5,258.8 332.0,261.2 332.5,262.7 333.0,264.0 333.5,264.1 334.0,266.3 334.5,266.5 335.0,269.2 335.5,268.4 336.0,269.1 336.5,268.9 337.0,269.6 337.5,269.5 338.0,271.0 338.5,270.6 339.0,271.2 339.5,270.7 340.0,270.9 340.5,272.0 341.0,270.8 341.5,270.4 342.0,271.6 342.5,270.7 343.0,271.1 343.5,271.8 344.0,270.8 344.5,271.7 345.0,270.7 345.5,271.8 346.0,271.6 346.5,270.5 347.0,270.5 347.5,270.0 348.0,270.3 348.5,270.7 349.0,269.0 349.5,270.1 350.0,268.6 350.5,268.6 351.0,267.8 351.5,269.6 352.0,268.1 352.5,267.9 353.0,267.1 353.5,267.6 354.0,265.5 354.5,266.3 355.0,267.1 355.5,265.3 356.0,265.1 356.5,265.0 357.0,263.7 357.5,263.8 358.0,263.8 358.5,263.0 359.0,262.6 359.5,261.8 360.0,261.8 360.5,261.2 361.0,261.6 361.5,260.9 362.0,260.0 362.5,258.5 363.0,260.0 363.5,259.9 364.0,258.8 364.5,258.1 365.0,258.5 365.5,259.6 366.0,258.5 366.5,259.0 367.0,259.5 367.5,260.2 368.0,259.8 368.5,260.0 369.0,260.1 369.5,261.6 370.0,261.7 370.5,261.4 371.0,261.1 371.5,261.9 372.0,263.1 372.5,262.9 373.0,264.2 373.5,264.4 374.0,264.8 374.5,265.5 375.0,265.9 375.5,265.6 376.0,266.4 376.5,268.3 377.0,266.7 377.5,267.6 378.0,268.8 378.5,268.5 379.0,268.6 379.5,268.7 380.0,270.0 380.5,270.6 381.0,271.2 381.5,270.8 382.0,271.6 382.5,270.7 383.0,271.7 383.5,271.5 384.0,272.2 384.5,272.7 385.0,273.1 385.5,272.2 386.0,273.6 386.5,272.8 387.0,272.7 387.5,273.3 388.0,272.8 388.5,273.7 389.0,274.0 389.5,273.9 390.0,274.4 390.5,274.0 391.0,274.3 391.5,273.6 392.0,274.5 392.5,274.1 393.0,274.4 393.5,274.7 394.0,274.9 394.5,274.0 395.0,274.1 395.5,274.8 396.0,275.3 396.5,275.3 397.0,275.7 397.5,275.9 398.0,275.5 398.5,275.3 399.0,274.8 399.5,274.8 400.0,275.1 400.5,275.6 401.0,275.6 401.5,275.5 402.0,275.4 402.5,275.9 403.0,275.7 403.5,275.8 404.0,275.8 404.5,275.4 405.0,275.1 405.5,276.0 406.0,276.0 406.5,275.6 407.0,275.5 407.5,277.0 408.0,275.4 408.5,275.7 409.0,276.0 409.5,275.2 410.0,275.9 410.5,276.9 411.0,276.4 411.5,276.3 412.0,276.3 412.5,276.0 413.0,276.5 413.5,275.9 414.0,275.8 414.5,276.1 415.0,276.5 415.5,276.2 416.0,276.4 416.5,275.0 417.0,276.7 417.5,277.4 418.0,276.8 418.5,275.9 419.0,275.7 419.5,276.3 420.0,275.6 420.5,276.6 421.0,275.9 421.5,276.7 422.0,276.9 422.5,275.1 423.0,276.4 423.5,275.8 424.0,275.4 424.5,275.9 425.0,276.1 425.5,276.8 426.0,275.4 426.5,276.8 427.0,277.4 427.5,276.6 428.0,276.6 428.5,276.3 429.0,275.6 429.5,276.6 430.0,276.5 430.5,276.7 431.0,277.7 431.5,276.7 432.0,276.6 432.5,277.2 433.0,275.6 433.5,275.7 434.0,276.1 434.5,276.0 435.0,276.7 435.5,276.2 436.0,277.3 436.5,277.2 437.0,276.8 437.5,276.2 438.0,276.7 438.5,276.8 439.0,275.8 439.5,276.6 440.0,276.8 440.5,276.5 441.0,277.3 441.5,277.1 442.0,276.0 442.5,276.5 443.0,276.0 443.5,276.8 444.0,276.0 444.5,277.0 445.0,276.7 445.5,277.0 446.0,276.4 446.5,275.7 447.0,277.4 447.5,276.4 448.0,277.2 448.5,276.7 449.0,276.9 449.5,277.5 450.0,276.7 450.5,277.3 451.0,275.7 451.5,277.0 452.0,276.4 452.5,276.4 453.0,276.5 453.5,276.7 454.0,277.4 454.5,275.5 455.0,276.5 455.5,276.1 456.0,277.2 456.5,276.3 457.0,276.8 457.5,276.3 458.0,276.9 458.5,277.1 459.0,276.3 459.5,276.6 460.0,275.8 460.5,276.7 461.0,277.0 461.5,276.2 462.0,277.2 462.5,275.4 463.0,275.5 463.5,275.8 464.0,276.3 464.5,276.6 465.0,276.5 465.5,276.5 466.0,277.0 466.5,276.3 467.0,275.9 467.5,275.9 468.0,277.7 468.5,275.3 469.0,276.5 469.5,277.4 470.0,276.9 470.5,276.1 471.0,276.6 471.5,277.1 472.0,277.3 472.5,276.1 473.0,277.0 473.5,276.7 474.0,277.2 474.5,277.4 475.0,276.4 475.5,275.8 476.0,276.8 476.5,277.6 477.0,277.0 477.5,276.7 478.0,277.9 478.5,276.1 479.0,277.1 479.5,276.3 480.0,276.7 480.5,276.7 481.0,277.5 481.5,276.1 482.0,276.3 482.5,275.8 483.0,276.9 483.5,276.4 484.0,276.9 484.5,276.1 485.0,276.4 485.5,277.2 486.0,276.6 486.5,277.0 487.0,276.9 487.5,276.5 488.0,275.8 488.5,277.2 489.0,276.8 489.5,277.2 490.0,275.6 490.5,275.8 491.0,275.5 491.5,276.2 492.0,277.2 492.5,277.0 493.0,276.7 493.5,276.7 494.0,277.1 494.5,276.5 495.0,276.9 495.5,276.8 496.0,275.5 496.5,276.5 497.0,277.4 497.5,276.5 498.0,276.6 498.5,276.3 499.0,276.4 499.5,277.3 500.0,276.5 500.5,276.1 501.0,275.0 501.5,276.4 502.0,275.6 502.5,275.7 503.0,277.1 503.5,277.1 504.0,275.6 504.5,277.2 505.0,277.0 505.5,276.3 506.0,277.1 506.5,275.8 507.0,276.0 507.5,275.9 508.0,276.1 508.5,277.2 509.0,276.0 509.5,276.1 510.0,276.2 510.5,276.8 511.0,276.5 511.5,277.2 512.0,276.3 512.5,276.0 513.0,276.4 513.5,276.7 514.0,276.2 514.5,276.9 515.0,277.7 515.5,276.4 516.0,276.7 516.5,277.5 517.0,276.4 517.5,276.3 518.0,276.1 518.5,276.9 519.0,277.0 519.5,276.6 520.0,276.7 520.5,277.4 521.0,277.2 521.5,276.0 522.0,276.7 522.5,276.8 523.0,277.1 523.5,276.6 524.0,276.4 524.5,276.5 525.0,275.8 525.5,276.7 526.0,276.4 526.5,277.0 527.0,276.2 527.5,276.5 528.0,276.2 528.5,276.1 529.0,277.1 529.5,276.5 530.0,277.0 530.5,276.1 531.0,276.8 531.5,275.8 532.0,276.5 532.5,276.5 533.0,277.1 533.5,276.8 534.0,276.6 534.5,277.2 535.0,276.8 535.5,277.0 536.0,277.2 536.5,276.7 537.0,276.6 537.5,276.9 538.0,276.5 538.5,277.0 539.0,277.4 539.5,277.2 540.0,276.5 540.5,276.0 541.0,276.7 541.5,276.7 542.0,277.4 542.5,276.5 543.0,276.6 543.5,277.2 544.0,276.5 544.5,276.7 545.0,277.7 545.5,277.6 546.0,277.1 546.5,276.9 547.0,276.2 547.5,277.1 548.0,276.8 548.5,276.9 549.0,276.5 549.5,276.8 550.0,276.7 550.5,276.9 551.0,277.5 551.5,277.0 552.0,275.9 552.5,276.2 553.0,275.9 553.5,276.3 554.0,277.1 554.5,277.0 555.0,276.4 555.5,276.9 556.0,276.4 556.5,276.0 557.0,276.0 557.5,276.3 558.0,277.6 558.5,276.0 559.0,277.5 559.5,277.5 560.0,276.7 560.5,276.7 561.0,276.4 561.5,276.8 562.0,277.1 562.5,276.8 563.0,277.3 563.5,277.4 564.0,277.0 564.5,277.0 565.0,276.7 565.5,277.0 566.0,276.2 566.5,277.0 567.0,276.9 567.5,276.3 568.0,278.0 568.5,276.3 569.0,276.3 569.5,276.9 570.0,275.7 570.5,276.4 571.0,276.0 571.5,276.3 572.0,276.7 572.5,277.0 573.0,277.4 573.5,277.2 574.0,277.4 574.5,277.1 575.0,276.5 575.5,277.4 576.0,276.5 576.5,276.5 577.0,277.6 577.5,277.2 578.0,276.9 578.5,277.2 579.0,277.3 579.5,276.1 580.0,276.7 580.5,276.2 581.0,276.9 581.5,276.4 582.0,277.5 582.5,277.1 583.0,276.4 583.5,276.8 584.0,276.1 584.5,276.8 585.0,277.1 585.5,277.0 586.0,275.7 586.5,276.6 587.0,277.1 587.5,277.0 588.0,277.4 588.5,276.1 589.0,277.1 589.5,276.5 590.0,276.9 590.5,277.0 591.0,277.2 591.5,276.5 592.0,276.9 592.5,276.2 593.0,276.0 593.5,277.1 594.0,276.8 594.5,275.9 595.0,276.4 595.5,276.8 596.0,277.7 596.5,277.4 597.0,277.3 597.5,275.8 598.0,276.8 598.5,277.1 599.0,277.0 599.5,277.1 600.0,276.7 600.5,277.8 601.0,277.6 601.5,276.8 602.0,276.3 602.5,278.0 603.0,276.5' fill='none' stroke='#e8202a' stroke-width='1.9' stroke-linejoin='round'/>
<polyline points='286.5,255.1 287.0,255.5 287.5,253.9 288.0,254.5 288.5,254.2 289.0,254.6 289.5,254.5 290.0,255.3 290.5,254.6 291.0,254.2 291.5,254.8 292.0,254.0 292.5,253.9 293.0,255.3 293.5,253.6 294.0,253.7 294.5,254.0 295.0,253.3 295.5,252.7 296.0,254.4 296.5,253.3 297.0,253.4 297.5,253.4 298.0,253.0 298.5,252.9 299.0,253.5 299.5,254.6 300.0,253.6 300.5,253.5 301.0,252.2 301.5,252.9 302.0,252.2 302.5,253.1 303.0,252.4 303.5,252.4 304.0,252.2 304.5,251.8 305.0,251.0 305.5,252.0 306.0,250.6 306.5,250.5 307.0,250.6 307.5,250.0 308.0,250.1 308.5,250.1 309.0,249.1 309.5,248.4 310.0,247.6 310.5,247.2 311.0,244.8 311.5,245.0 312.0,243.1 312.5,241.6 313.0,240.8 313.5,239.0 314.0,237.7 314.5,236.1 315.0,232.1 315.5,231.1 316.0,229.8 316.5,226.7 317.0,224.4 317.5,220.9 318.0,217.3 318.5,214.8 319.0,213.1 319.5,210.6 320.0,207.3 320.5,205.4 321.0,203.9 321.5,201.5 322.0,201.3 322.5,202.0 323.0,202.5 323.5,201.9 324.0,204.2 324.5,204.5 325.0,206.3 325.5,207.8 326.0,212.1 326.5,214.0 327.0,218.2 327.5,219.8 328.0,222.4 328.5,224.0 329.0,228.3 329.5,229.7 330.0,232.1 330.5,233.1 331.0,236.8 331.5,238.7 332.0,239.5 332.5,241.4 333.0,242.9 333.5,244.4 334.0,245.0 334.5,246.9 335.0,246.6 335.5,247.2 336.0,247.9 336.5,247.3 337.0,248.7 337.5,250.1 338.0,250.1 338.5,249.8 339.0,250.7 339.5,249.6 340.0,250.8 340.5,251.4 341.0,251.6 341.5,250.9 342.0,251.9 342.5,252.5 343.0,251.3 343.5,252.0 344.0,250.7 344.5,250.5 345.0,251.9 345.5,251.6 346.0,251.7 346.5,251.2 347.0,251.3 347.5,251.9 348.0,252.3 348.5,251.1 349.0,250.3 349.5,251.8 350.0,251.3 350.5,251.2 351.0,250.8 351.5,251.8 352.0,250.4 352.5,250.4 353.0,248.9 353.5,249.4 354.0,249.1 354.5,249.3 355.0,249.2 355.5,248.4 356.0,249.5 356.5,247.7 357.0,247.7 357.5,247.8 358.0,246.7 358.5,247.4 359.0,247.1 359.5,246.3 360.0,247.2 360.5,245.8 361.0,245.6 361.5,244.6 362.0,243.9 362.5,244.2 363.0,244.1 363.5,243.8 364.0,244.2 364.5,242.2 365.0,242.7 365.5,242.1 366.0,243.7 366.5,242.6 367.0,242.5 367.5,242.2 368.0,243.3 368.5,242.6 369.0,243.0 369.5,241.9 370.0,243.8 370.5,243.5 371.0,243.8 371.5,244.4 372.0,243.9 372.5,244.2 373.0,245.0 373.5,245.1 374.0,245.1 374.5,245.6 375.0,245.6 375.5,246.6 376.0,247.1 376.5,246.9 377.0,248.3 377.5,246.8 378.0,247.8 378.5,249.2 379.0,248.4 379.5,248.1 380.0,250.0 380.5,249.9 381.0,249.2 381.5,250.6 382.0,249.9 382.5,249.9 383.0,250.9 383.5,250.9 384.0,250.8 384.5,251.4 385.0,251.3 385.5,252.1 386.0,252.2 386.5,252.8 387.0,252.3 387.5,252.0 388.0,252.2 388.5,252.9 389.0,254.0 389.5,253.8 390.0,253.1 390.5,254.1 391.0,253.0 391.5,254.3 392.0,253.6 392.5,254.4 393.0,254.4 393.5,254.0 394.0,254.4 394.5,253.7 395.0,254.3 395.5,255.0 396.0,256.7 396.5,254.9 397.0,254.6 397.5,254.0 398.0,255.2 398.5,253.8 399.0,254.3 399.5,255.0 400.0,254.1 400.5,255.7 401.0,255.5 401.5,254.6 402.0,254.6 402.5,254.2 403.0,254.2 403.5,255.2 404.0,255.4 404.5,255.2 405.0,255.2 405.5,254.8 406.0,255.3 406.5,254.3 407.0,255.2 407.5,256.0 408.0,255.9 408.5,255.0 409.0,255.0 409.5,256.0 410.0,256.3 410.5,254.5 411.0,255.1 411.5,255.4 412.0,256.0 412.5,254.9 413.0,255.7 413.5,255.2 414.0,256.7 414.5,255.6 415.0,255.3 415.5,255.2 416.0,256.0 416.5,255.8 417.0,254.9 417.5,255.6 418.0,254.7 418.5,255.1 419.0,254.8 419.5,254.8 420.0,255.1 420.5,255.0 421.0,255.8 421.5,256.0 422.0,255.4 422.5,255.0 423.0,256.0 423.5,254.5 424.0,254.5 424.5,256.0 425.0,256.0 425.5,256.2 426.0,255.5 426.5,254.9 427.0,255.4 427.5,256.0 428.0,255.2 428.5,255.3 429.0,254.9 429.5,255.0 430.0,256.2 430.5,256.0 431.0,255.1 431.5,255.1 432.0,255.4 432.5,256.0 433.0,255.1 433.5,255.6 434.0,254.6 434.5,255.1 435.0,256.0 435.5,256.3 436.0,255.1 436.5,255.4 437.0,256.2 437.5,255.6 438.0,255.5 438.5,256.1 439.0,255.9 439.5,256.4 440.0,256.3 440.5,255.5 441.0,255.8 441.5,255.8 442.0,255.1 442.5,255.3 443.0,256.4 443.5,255.0 444.0,256.4 444.5,256.0 445.0,255.8 445.5,256.2 446.0,256.1 446.5,256.6 447.0,255.7 447.5,255.8 448.0,255.8 448.5,256.9 449.0,256.4 449.5,255.4 450.0,255.7 450.5,255.5 451.0,255.9 451.5,256.1 452.0,257.2 452.5,254.9 453.0,256.5 453.5,256.2 454.0,255.6 454.5,255.9 455.0,255.7 455.5,256.0 456.0,256.5 456.5,255.1 457.0,256.7 457.5,255.8 458.0,256.8 458.5,256.2 459.0,256.7 459.5,256.3 460.0,256.6 460.5,256.0 461.0,255.6 461.5,256.4 462.0,256.4 462.5,257.2 463.0,254.9 463.5,255.9 464.0,256.6 464.5,255.3 465.0,255.9 465.5,257.2 466.0,256.8 466.5,255.6 467.0,256.8 467.5,256.7 468.0,256.5 468.5,256.3 469.0,256.2 469.5,255.6 470.0,255.8 470.5,256.5 471.0,256.2 471.5,257.1 472.0,255.9 472.5,254.8 473.0,255.9 473.5,256.3 474.0,256.3 474.5,256.1 475.0,255.7 475.5,256.9 476.0,255.8 476.5,256.5 477.0,256.0 477.5,255.5 478.0,256.9 478.5,254.8 479.0,255.7 479.5,256.4 480.0,256.0 480.5,256.6 481.0,256.1 481.5,255.9 482.0,257.4 482.5,256.0 483.0,256.1 483.5,255.6 484.0,255.8 484.5,256.5 485.0,256.5 485.5,256.2 486.0,255.8 486.5,256.6 487.0,255.3 487.5,256.0 488.0,256.1 488.5,255.7 489.0,256.3 489.5,255.8 490.0,255.8 490.5,257.2 491.0,256.6 491.5,256.9 492.0,256.3 492.5,256.8 493.0,256.7 493.5,256.9 494.0,257.5 494.5,256.1 495.0,256.4 495.5,256.2 496.0,254.3 496.5,255.5 497.0,256.3 497.5,256.6 498.0,255.9 498.5,256.9 499.0,257.0 499.5,256.0 500.0,257.1 500.5,257.2 501.0,256.5 501.5,255.7 502.0,257.1 502.5,256.2 503.0,256.1 503.5,256.4 504.0,256.0 504.5,256.9 505.0,256.7 505.5,257.0 506.0,256.6 506.5,255.9 507.0,256.2 507.5,256.8 508.0,256.1 508.5,257.9 509.0,256.2 509.5,256.0 510.0,257.0 510.5,256.7 511.0,256.3 511.5,256.2 512.0,256.6 512.5,256.8 513.0,256.8 513.5,256.2 514.0,256.6 514.5,256.8 515.0,256.8 515.5,254.7 516.0,255.9 516.5,255.9 517.0,256.2 517.5,256.5 518.0,256.9 518.5,256.7 519.0,256.3 519.5,256.4 520.0,257.3 520.5,256.0 521.0,256.6 521.5,257.3 522.0,256.6 522.5,255.3 523.0,256.6 523.5,256.2 524.0,256.3 524.5,257.0 525.0,256.7 525.5,256.3 526.0,256.9 526.5,256.7 527.0,256.5 527.5,256.6 528.0,256.6 528.5,256.2 529.0,256.2 529.5,256.4 530.0,255.9 530.5,255.7 531.0,257.2 531.5,256.3 532.0,256.4 532.5,256.4 533.0,256.5 533.5,256.5 534.0,256.5 534.5,256.0 535.0,257.0 535.5,256.1 536.0,257.0 536.5,255.4 537.0,255.9 537.5,257.0 538.0,256.4 538.5,256.1 539.0,256.7 539.5,255.9 540.0,256.5 540.5,255.3 541.0,256.2 541.5,256.1 542.0,256.8 542.5,257.0 543.0,256.0 543.5,257.4 544.0,256.2 544.5,255.4 545.0,255.2 545.5,257.4 546.0,256.5 546.5,256.2 547.0,256.1 547.5,255.9 548.0,257.3 548.5,256.5 549.0,257.5 549.5,256.4 550.0,255.2 550.5,257.0 551.0,256.3 551.5,256.4 552.0,257.4 552.5,256.4 553.0,257.2 553.5,256.5 554.0,256.1 554.5,256.8 555.0,256.2 555.5,257.2 556.0,257.1 556.5,256.6 557.0,256.9 557.5,256.9 558.0,256.4 558.5,257.1 559.0,256.4 559.5,256.9 560.0,256.1 560.5,256.6 561.0,256.8 561.5,256.1 562.0,256.4 562.5,256.3 563.0,257.0 563.5,256.2 564.0,256.8 564.5,257.4 565.0,256.8 565.5,255.7 566.0,256.7 566.5,257.2 567.0,256.5 567.5,257.2 568.0,257.0 568.5,256.8 569.0,256.5 569.5,256.3 570.0,256.5 570.5,256.7 571.0,256.9 571.5,256.9 572.0,256.5 572.5,256.7 573.0,256.9 573.5,255.7 574.0,256.2 574.5,256.2 575.0,256.5 575.5,256.5 576.0,256.5 576.5,256.2 577.0,257.0 577.5,256.8 578.0,255.8 578.5,256.7 579.0,256.0 579.5,257.6 580.0,256.4 580.5,256.5 581.0,256.7 581.5,256.6 582.0,256.6 582.5,257.5 583.0,256.8 583.5,257.1 584.0,257.3 584.5,256.2 585.0,257.6 585.5,257.1 586.0,257.2 586.5,256.2 587.0,257.2 587.5,256.9 588.0,256.4 588.5,258.0 589.0,257.0 589.5,256.6 590.0,256.8 590.5,257.2 591.0,257.3 591.5,257.0 592.0,257.4 592.5,257.5 593.0,256.1 593.5,256.5 594.0,256.2 594.5,256.8 595.0,257.5 595.5,257.1 596.0,256.2 596.5,256.6 597.0,257.3 597.5,256.5 598.0,256.7 598.5,256.9 599.0,255.8 599.5,257.2 600.0,257.0 600.5,257.1 601.0,256.2 601.5,256.3 602.0,256.4 602.5,256.9 603.0,256.8' fill='none' stroke='#1f4fb5' stroke-width='1.9' stroke-linejoin='round'/>
<polyline points='286.5,233.7 287.0,234.6 287.5,234.3 288.0,233.1 288.5,233.2 289.0,234.4 289.5,233.3 290.0,234.2 290.5,234.3 291.0,233.1 291.5,233.2 292.0,233.4 292.5,232.8 293.0,232.8 293.5,233.0 294.0,233.7 294.5,232.9 295.0,233.0 295.5,232.9 296.0,232.3 296.5,233.8 297.0,231.7 297.5,232.6 298.0,233.2 298.5,232.1 299.0,233.1 299.5,233.4 300.0,232.2 300.5,232.7 301.0,231.9 301.5,232.7 302.0,232.4 302.5,232.4 303.0,232.9 303.5,232.3 304.0,232.7 304.5,232.1 305.0,231.0 305.5,231.6 306.0,231.5 306.5,230.2 307.0,231.5 307.5,230.6 308.0,230.4 308.5,229.4 309.0,229.5 309.5,229.2 310.0,228.3 310.5,228.0 311.0,226.1 311.5,227.4 312.0,225.2 312.5,223.8 313.0,223.5 313.5,222.6 314.0,222.2 314.5,220.2 315.0,219.6 315.5,217.6 316.0,217.9 316.5,215.5 317.0,214.8 317.5,211.6 318.0,210.9 318.5,208.5 319.0,207.8 319.5,206.4 320.0,203.7 320.5,202.8 321.0,201.7 321.5,200.6 322.0,200.5 322.5,200.0 323.0,199.7 323.5,200.7 324.0,201.5 324.5,201.2 325.0,202.6 325.5,204.0 326.0,205.2 326.5,206.3 327.0,208.6 327.5,210.1 328.0,211.5 328.5,212.5 329.0,215.2 329.5,216.4 330.0,216.6 330.5,218.0 331.0,219.9 331.5,220.0 332.0,221.6 332.5,222.4 333.0,222.8 333.5,223.8 334.0,223.7 334.5,224.9 335.0,224.6 335.5,227.3 336.0,227.3 336.5,227.4 337.0,227.1 337.5,227.7 338.0,227.9 338.5,227.8 339.0,227.8 339.5,226.8 340.0,227.4 340.5,226.8 341.0,226.3 341.5,226.2 342.0,226.8 342.5,227.0 343.0,225.4 343.5,226.8 344.0,226.4 344.5,225.0 345.0,224.6 345.5,224.5 346.0,224.7 346.5,223.5 347.0,222.7 347.5,223.0 348.0,221.3 348.5,222.0 349.0,222.1 349.5,221.1 350.0,220.9 350.5,220.2 351.0,219.8 351.5,219.0 352.0,217.9 352.5,217.8 353.0,217.4 353.5,217.6 354.0,217.4 354.5,216.3 355.0,215.3 355.5,214.9 356.0,214.9 356.5,215.5 357.0,214.7 357.5,214.3 358.0,213.8 358.5,214.7 359.0,214.4 359.5,214.3 360.0,214.5 360.5,215.6 361.0,214.8 361.5,216.1 362.0,216.2 362.5,215.9 363.0,216.8 363.5,216.7 364.0,216.8 364.5,217.6 365.0,217.8 365.5,219.1 366.0,219.4 366.5,220.2 367.0,220.9 367.5,219.3 368.0,221.8 368.5,221.1 369.0,222.8 369.5,222.7 370.0,223.8 370.5,225.0 371.0,223.8 371.5,225.3 372.0,225.6 372.5,225.1 373.0,226.9 373.5,227.0 374.0,227.1 374.5,227.3 375.0,229.9 375.5,228.2 376.0,227.8 376.5,228.6 377.0,229.2 377.5,229.4 378.0,229.9 378.5,229.6 379.0,230.7 379.5,230.4 380.0,230.1 380.5,230.6 381.0,231.0 381.5,231.9 382.0,231.8 382.5,231.5 383.0,231.9 383.5,232.1 384.0,233.2 384.5,231.9 385.0,232.6 385.5,232.9 386.0,232.0 386.5,232.8 387.0,232.8 387.5,232.6 388.0,233.2 388.5,233.5 389.0,233.7 389.5,233.0 390.0,233.3 390.5,234.5 391.0,232.7 391.5,233.4 392.0,233.9 392.5,233.5 393.0,233.8 393.5,233.6 394.0,234.0 394.5,234.3 395.0,233.5 395.5,233.8 396.0,233.7 396.5,233.5 397.0,233.7 397.5,233.2 398.0,234.2 398.5,234.8 399.0,234.8 399.5,234.6 400.0,233.4 400.5,234.8 401.0,233.6 401.5,234.0 402.0,235.0 402.5,233.5 403.0,234.5 403.5,234.2 404.0,234.0 404.5,233.6 405.0,234.4 405.5,233.9 406.0,234.8 406.5,234.9 407.0,233.5 407.5,234.0 408.0,234.1 408.5,233.6 409.0,233.7 409.5,234.3 410.0,234.2 410.5,233.4 411.0,234.0 411.5,234.6 412.0,233.7 412.5,233.9 413.0,235.3 413.5,235.1 414.0,233.5 414.5,233.7 415.0,234.7 415.5,233.8 416.0,234.3 416.5,234.2 417.0,234.8 417.5,233.1 418.0,233.3 418.5,233.9 419.0,235.1 419.5,234.5 420.0,233.6 420.5,234.8 421.0,235.0 421.5,234.5 422.0,234.4 422.5,234.8 423.0,235.3 423.5,234.7 424.0,234.9 424.5,234.6 425.0,234.4 425.5,234.2 426.0,234.8 426.5,234.5 427.0,234.6 427.5,235.2 428.0,235.0 428.5,235.2 429.0,233.9 429.5,235.0 430.0,234.4 430.5,234.3 431.0,234.3 431.5,235.4 432.0,235.2 432.5,234.4 433.0,234.1 433.5,234.8 434.0,234.5 434.5,235.7 435.0,234.0 435.5,233.8 436.0,234.7 436.5,234.8 437.0,234.9 437.5,235.2 438.0,236.0 438.5,234.7 439.0,234.6 439.5,233.9 440.0,235.0 440.5,235.3 441.0,234.7 441.5,235.5 442.0,234.9 442.5,235.7 443.0,235.1 443.5,234.3 444.0,234.6 444.5,234.1 445.0,234.0 445.5,235.1 446.0,235.4 446.5,236.0 447.0,234.9 447.5,234.8 448.0,234.3 448.5,235.5 449.0,235.2 449.5,234.6 450.0,235.3 450.5,235.3 451.0,233.9 451.5,235.4 452.0,235.1 452.5,234.8 453.0,234.8 453.5,236.0 454.0,235.9 454.5,236.0 455.0,234.4 455.5,234.7 456.0,235.5 456.5,234.4 457.0,234.6 457.5,234.0 458.0,236.1 458.5,235.6 459.0,235.3 459.5,235.2 460.0,234.8 460.5,234.8 461.0,235.4 461.5,234.7 462.0,235.7 462.5,234.8 463.0,234.6 463.5,235.8 464.0,235.0 464.5,235.4 465.0,234.9 465.5,233.9 466.0,235.4 466.5,234.4 467.0,235.7 467.5,234.3 468.0,234.1 468.5,235.3 469.0,235.4 469.5,235.2 470.0,234.5 470.5,235.6 471.0,234.3 471.5,234.9 472.0,234.7 472.5,234.9 473.0,235.6 473.5,234.8 474.0,235.5 474.5,235.5 475.0,234.2 475.5,234.5 476.0,235.0 476.5,234.9 477.0,235.4 477.5,234.1 478.0,235.6 478.5,235.6 479.0,235.1 479.5,234.4 480.0,235.2 480.5,234.9 481.0,235.5 481.5,235.2 482.0,235.6 482.5,235.0 483.0,236.0 483.5,234.0 484.0,234.7 484.5,235.5 485.0,234.4 485.5,235.6 486.0,234.6 486.5,235.3 487.0,234.7 487.5,235.0 488.0,235.4 488.5,235.2 489.0,235.1 489.5,236.5 490.0,235.3 490.5,234.7 491.0,235.8 491.5,235.7 492.0,236.0 492.5,236.3 493.0,234.8 493.5,235.9 494.0,235.9 494.5,235.3 495.0,235.4 495.5,233.7 496.0,235.0 496.5,236.3 497.0,234.3 497.5,235.0 498.0,235.5 498.5,235.6 499.0,236.2 499.5,234.4 500.0,235.4 500.5,235.8 501.0,234.6 501.5,235.3 502.0,236.4 502.5,236.1 503.0,235.6 503.5,233.9 504.0,235.3 504.5,235.6 505.0,235.2 505.5,235.3 506.0,237.1 506.5,235.3 507.0,234.8 507.5,235.5 508.0,235.2 508.5,235.2 509.0,235.3 509.5,235.8 510.0,235.5 510.5,234.7 511.0,235.3 511.5,235.7 512.0,235.1 512.5,236.0 513.0,235.8 513.5,234.9 514.0,235.6 514.5,236.5 515.0,236.3 515.5,235.4 516.0,235.9 516.5,235.1 517.0,234.6 517.5,235.7 518.0,235.6 518.5,235.7 519.0,235.4 519.5,235.6 520.0,235.2 520.5,235.7 521.0,235.9 521.5,235.4 522.0,235.9 522.5,234.5 523.0,235.0 523.5,236.3 524.0,236.4 524.5,235.6 525.0,235.4 525.5,234.8 526.0,235.7 526.5,235.9 527.0,234.7 527.5,235.8 528.0,235.8 528.5,235.7 529.0,234.9 529.5,235.8 530.0,234.7 530.5,236.3 531.0,235.6 531.5,234.9 532.0,236.2 532.5,236.1 533.0,235.2 533.5,236.7 534.0,235.0 534.5,235.7 535.0,236.2 535.5,234.3 536.0,236.1 536.5,235.5 537.0,235.5 537.5,234.9 538.0,235.7 538.5,234.9 539.0,235.0 539.5,235.3 540.0,234.9 540.5,236.4 541.0,234.8 541.5,235.1 542.0,235.4 542.5,235.6 543.0,236.0 543.5,236.0 544.0,235.4 544.5,235.4 545.0,235.6 545.5,236.0 546.0,236.0 546.5,235.3 547.0,234.5 547.5,236.8 548.0,236.1 548.5,235.7 549.0,235.8 549.5,235.3 550.0,235.1 550.5,235.4 551.0,235.5 551.5,235.3 552.0,234.8 552.5,235.4 553.0,235.9 553.5,235.3 554.0,235.6 554.5,234.5 555.0,235.5 555.5,235.6 556.0,235.0 556.5,234.7 557.0,235.9 557.5,235.2 558.0,235.9 558.5,235.4 559.0,236.0 559.5,235.5 560.0,234.8 560.5,235.6 561.0,235.5 561.5,236.0 562.0,235.4 562.5,235.4 563.0,236.1 563.5,236.3 564.0,236.1 564.5,236.2 565.0,235.9 565.5,236.1 566.0,236.2 566.5,235.9 567.0,235.7 567.5,235.8 568.0,237.0 568.5,235.7 569.0,235.6 569.5,235.5 570.0,235.7 570.5,235.8 571.0,235.1 571.5,234.6 572.0,235.9 572.5,234.8 573.0,235.9 573.5,235.8 574.0,236.4 574.5,236.6 575.0,235.9 575.5,235.4 576.0,235.1 576.5,235.3 577.0,235.8 577.5,234.6 578.0,235.8 578.5,235.7 579.0,236.1 579.5,235.6 580.0,235.8 580.5,235.3 581.0,235.5 581.5,234.8 582.0,235.8 582.5,236.6 583.0,235.9 583.5,236.0 584.0,235.2 584.5,236.6 585.0,235.4 585.5,236.2 586.0,235.8 586.5,235.3 587.0,236.3 587.5,235.8 588.0,235.9 588.5,236.0 589.0,235.8 589.5,235.6 590.0,236.1 590.5,235.6 591.0,235.8 591.5,235.4 592.0,235.0 592.5,235.4 593.0,235.5 593.5,235.8 594.0,236.5 594.5,234.9 595.0,235.9 595.5,234.6 596.0,235.3 596.5,235.5 597.0,234.6 597.5,234.8 598.0,235.9 598.5,235.9 599.0,235.8 599.5,235.4 600.0,237.0 600.5,235.8 601.0,235.4 601.5,236.8 602.0,236.2 602.5,235.7 603.0,236.5' fill='none' stroke='#a258a8' stroke-width='1.9' stroke-linejoin='round'/>
<polyline points='286.5,213.7 287.0,213.9 287.5,213.7 288.0,213.0 288.5,214.1 289.0,213.6 289.5,213.0 290.0,213.1 290.5,214.0 291.0,213.3 291.5,213.5 292.0,213.8 292.5,213.5 293.0,212.6 293.5,213.8 294.0,213.9 294.5,213.9 295.0,214.3 295.5,213.6 296.0,213.8 296.5,214.2 297.0,213.2 297.5,214.3 298.0,214.2 298.5,213.7 299.0,214.2 299.5,213.7 300.0,212.7 300.5,213.8 301.0,213.3 301.5,213.3 302.0,213.1 302.5,213.8 303.0,213.3 303.5,212.5 304.0,213.1 304.5,213.2 305.0,212.3 305.5,212.4 306.0,212.4 306.5,212.2 307.0,212.6 307.5,212.8 308.0,213.2 308.5,212.7 309.0,212.4 309.5,212.3 310.0,212.2 310.5,211.0 311.0,211.3 311.5,210.8 312.0,210.3 312.5,209.7 313.0,209.3 313.5,209.0 314.0,208.0 314.5,208.4 315.0,207.6 315.5,207.1 316.0,206.6 316.5,206.1 317.0,204.7 317.5,204.3 318.0,202.8 318.5,201.7 319.0,201.2 319.5,202.4 320.0,199.9 320.5,200.5 321.0,200.5 321.5,199.0 322.0,199.8 322.5,199.6 323.0,199.0 323.5,199.8 324.0,198.9 324.5,198.4 325.0,199.5 325.5,199.4 326.0,199.4 326.5,200.1 327.0,202.7 327.5,201.7 328.0,202.7 328.5,203.0 329.0,204.1 329.5,204.6 330.0,205.1 330.5,205.2 331.0,205.7 331.5,206.6 332.0,207.6 332.5,209.0 333.0,208.9 333.5,209.6 334.0,209.2 334.5,209.1 335.0,208.7 335.5,209.6 336.0,208.6 336.5,209.7 337.0,210.8 337.5,210.2 338.0,210.6 338.5,209.8 339.0,209.2 339.5,209.6 340.0,209.6 340.5,210.4 341.0,210.7 341.5,209.1 342.0,209.1 342.5,209.1 343.0,208.7 343.5,208.0 344.0,208.6 344.5,208.5 345.0,208.2 345.5,207.1 346.0,207.4 346.5,206.3 347.0,207.4 347.5,206.1 348.0,206.2 348.5,205.8 349.0,205.4 349.5,204.8 350.0,204.1 350.5,205.8 351.0,204.7 351.5,204.4 352.0,205.2 352.5,203.7 353.0,203.9 353.5,203.4 354.0,203.9 354.5,203.4 355.0,203.2 355.5,202.8 356.0,203.1 356.5,203.6 357.0,201.9 357.5,203.1 358.0,203.1 358.5,203.3 359.0,202.6 359.5,204.3 360.0,203.7 360.5,204.3 361.0,204.5 361.5,204.2 362.0,205.2 362.5,204.7 363.0,205.5 363.5,206.2 364.0,206.7 364.5,207.1 365.0,207.3 365.5,208.9 366.0,208.3 366.5,207.7 367.0,208.3 367.5,208.6 368.0,209.1 368.5,209.1 369.0,209.3 369.5,210.9 370.0,210.2 370.5,210.3 371.0,210.5 371.5,210.7 372.0,211.8 372.5,211.5 373.0,212.0 373.5,209.9 374.0,211.9 374.5,212.5 375.0,213.1 375.5,212.1 376.0,211.3 376.5,212.7 377.0,212.1 377.5,211.6 378.0,212.3 378.5,213.3 379.0,213.5 379.5,213.3 380.0,212.4 380.5,214.4 381.0,212.4 381.5,213.1 382.0,212.4 382.5,214.0 383.0,213.5 383.5,213.8 384.0,213.4 384.5,213.4 385.0,213.5 385.5,212.4 386.0,214.0 386.5,214.0 387.0,213.3 387.5,213.6 388.0,213.8 388.5,214.5 389.0,213.9 389.5,213.7 390.0,213.4 390.5,212.9 391.0,213.4 391.5,213.8 392.0,213.6 392.5,213.8 393.0,214.2 393.5,214.1 394.0,214.0 394.5,214.2 395.0,214.0 395.5,213.9 396.0,214.2 396.5,213.0 397.0,214.6 397.5,213.2 398.0,214.4 398.5,214.0 399.0,214.6 399.5,214.0 400.0,213.5 400.5,214.6 401.0,214.1 401.5,214.1 402.0,214.1 402.5,214.6 403.0,214.5 403.5,214.2 404.0,213.2 404.5,213.9 405.0,214.2 405.5,215.1 406.0,214.3 406.5,214.1 407.0,214.8 407.5,214.1 408.0,214.1 408.5,214.3 409.0,213.3 409.5,214.7 410.0,214.4 410.5,214.0 411.0,213.6 411.5,214.3 412.0,215.0 412.5,213.9 413.0,213.6 413.5,214.5 414.0,213.4 414.5,213.0 415.0,214.0 415.5,213.9 416.0,214.1 416.5,214.0 417.0,214.5 417.5,214.2 418.0,214.0 418.5,214.0 419.0,214.6 419.5,214.8 420.0,214.8 420.5,214.7 421.0,212.5 421.5,213.8 422.0,214.2 422.5,214.4 423.0,213.4 423.5,215.1 424.0,214.5 424.5,214.0 425.0,214.4 425.5,214.2 426.0,213.9 426.5,214.7 427.0,214.1 427.5,213.6 428.0,214.0 428.5,214.3 429.0,213.8 429.5,215.1 430.0,213.8 430.5,215.4 431.0,214.9 431.5,213.9 432.0,214.5 432.5,215.1 433.0,214.3 433.5,213.8 434.0,214.5 434.5,215.5 435.0,213.6 435.5,214.8 436.0,214.5 436.5,214.4 437.0,214.2 437.5,214.3 438.0,215.0 438.5,214.8 439.0,213.9 439.5,215.3 440.0,213.8 440.5,214.8 441.0,214.6 441.5,215.2 442.0,214.7 442.5,215.1 443.0,214.5 443.5,215.0 444.0,214.7 444.5,215.7 445.0,214.1 445.5,215.2 446.0,214.8 446.5,214.6 447.0,214.2 447.5,214.8 448.0,213.7 448.5,213.8 449.0,214.9 449.5,213.7 450.0,215.3 450.5,214.4 451.0,214.7 451.5,214.6 452.0,214.8 452.5,214.4 453.0,214.4 453.5,214.5 454.0,215.1 454.5,215.2 455.0,215.3 455.5,214.8 456.0,214.5 456.5,213.7 457.0,214.9 457.5,215.1 458.0,214.4 458.5,215.0 459.0,215.3 459.5,214.7 460.0,215.2 460.5,214.8 461.0,213.7 461.5,214.4 462.0,214.4 462.5,214.9 463.0,214.1 463.5,214.4 464.0,214.1 464.5,214.6 465.0,214.7 465.5,215.2 466.0,215.1 466.5,214.7 467.0,214.8 467.5,214.7 468.0,214.7 468.5,215.5 469.0,213.3 469.5,214.6 470.0,214.8 470.5,215.3 471.0,214.1 471.5,214.9 472.0,215.1 472.5,214.4 473.0,213.6 473.5,214.5 474.0,214.0 474.5,215.0 475.0,214.2 475.5,215.7 476.0,214.8 476.5,214.2 477.0,214.4 477.5,214.1 478.0,214.9 478.5,215.5 479.0,214.6 479.5,215.2 480.0,214.2 480.5,214.9 481.0,216.0 481.5,213.9 482.0,215.4 482.5,215.4 483.0,213.7 483.5,213.9 484.0,214.2 484.5,215.3 485.0,214.5 485.5,214.6 486.0,215.1 486.5,214.8 487.0,214.9 487.5,214.6 488.0,215.4 488.5,214.3 489.0,215.7 489.5,214.6 490.0,214.3 490.5,215.1 491.0,215.0 491.5,213.7 492.0,214.9 492.5,214.0 493.0,214.3 493.5,215.2 494.0,214.3 494.5,215.0 495.0,214.6 495.5,215.8 496.0,214.7 496.5,214.1 497.0,214.2 497.5,214.3 498.0,214.9 498.5,214.8 499.0,215.3 499.5,214.9 500.0,214.9 500.5,215.0 501.0,214.7 501.5,215.0 502.0,215.2 502.5,215.2 503.0,214.5 503.5,213.8 504.0,214.4 504.5,215.0 505.0,213.4 505.5,214.6 506.0,215.1 506.5,214.5 507.0,214.2 507.5,215.8 508.0,215.6 508.5,214.7 509.0,215.6 509.5,215.5 510.0,214.2 510.5,216.3 511.0,214.3 511.5,214.7 512.0,214.2 512.5,214.9 513.0,214.1 513.5,214.8 514.0,215.4 514.5,215.0 515.0,214.7 515.5,215.7 516.0,214.4 516.5,215.4 517.0,214.7 517.5,215.0 518.0,214.9 518.5,214.9 519.0,214.8 519.5,214.4 520.0,214.6 520.5,215.1 521.0,214.8 521.5,214.2 522.0,214.5 522.5,214.5 523.0,214.9 523.5,215.0 524.0,214.9 524.5,214.5 525.0,214.9 525.5,214.1 526.0,213.3 526.5,214.9 527.0,214.0 527.5,214.4 528.0,214.2 528.5,215.2 529.0,214.2 529.5,215.1 530.0,214.6 530.5,214.2 531.0,214.0 531.5,215.2 532.0,215.1 532.5,215.3 533.0,215.9 533.5,215.1 534.0,215.1 534.5,214.9 535.0,215.0 535.5,214.7 536.0,214.4 536.5,216.0 537.0,213.9 537.5,215.1 538.0,215.2 538.5,215.0 539.0,214.4 539.5,214.8 540.0,214.7 540.5,214.3 541.0,214.9 541.5,214.7 542.0,214.6 542.5,215.3 543.0,214.4 543.5,215.2 544.0,214.6 544.5,215.2 545.0,215.0 545.5,215.1 546.0,214.4 546.5,214.5 547.0,214.5 547.5,215.1 548.0,215.4 548.5,215.6 549.0,214.7 549.5,215.0 550.0,214.1 550.5,213.8 551.0,214.5 551.5,214.6 552.0,214.1 552.5,214.0 553.0,215.3 553.5,214.5 554.0,214.1 554.5,216.3 555.0,215.1 555.5,214.8 556.0,215.4 556.5,214.6 557.0,215.9 557.5,214.1 558.0,214.3 558.5,214.9 559.0,214.6 559.5,215.8 560.0,214.1 560.5,214.6 561.0,215.1 561.5,215.3 562.0,215.6 562.5,215.2 563.0,216.2 563.5,214.7 564.0,215.1 564.5,215.5 565.0,214.8 565.5,214.9 566.0,214.8 566.5,214.7 567.0,214.4 567.5,214.7 568.0,214.2 568.5,215.2 569.0,214.2 569.5,216.2 570.0,216.0 570.5,215.6 571.0,214.9 571.5,214.7 572.0,215.7 572.5,215.1 573.0,215.3 573.5,214.6 574.0,215.6 574.5,214.6 575.0,215.1 575.5,214.1 576.0,214.7 576.5,215.3 577.0,214.8 577.5,214.8 578.0,215.5 578.5,215.0 579.0,215.7 579.5,213.7 580.0,215.4 580.5,215.3 581.0,214.2 581.5,214.4 582.0,215.6 582.5,214.5 583.0,214.7 583.5,215.4 584.0,214.9 584.5,215.3 585.0,214.6 585.5,215.2 586.0,215.7 586.5,215.3 587.0,213.9 587.5,215.4 588.0,215.1 588.5,214.6 589.0,215.9 589.5,214.1 590.0,216.1 590.5,214.8 591.0,216.0 591.5,215.1 592.0,214.4 592.5,215.2 593.0,215.3 593.5,215.4 594.0,215.7 594.5,214.6 595.0,215.4 595.5,215.5 596.0,215.0 596.5,214.6 597.0,214.6 597.5,215.5 598.0,215.6 598.5,214.7 599.0,214.4 599.5,215.8 600.0,214.3 600.5,215.2 601.0,214.7 601.5,214.2 602.0,215.2 602.5,215.0 603.0,215.9' fill='none' stroke='#1b8a3e' stroke-width='1.9' stroke-linejoin='round'/>
<line x1='354.3' y1='126' x2='367.6' y2='37' stroke='#8a8a8a' stroke-width='1.7' stroke-dasharray='5 2.5 1.5 2.5'/>
<path d='M364.4,40.8 L368.5,33.4 L370.6,40.8 Z' fill='none' stroke='#8a8a8a' stroke-width='1.5' stroke-linejoin='round'/>
<polyline points='354.2,286 366.3,240 358.5,198' fill='none' stroke='#8a8a8a' stroke-width='1.7' stroke-dasharray='5 2.5'/>
<path d='M357.3,194 L362.5,201.7 L356,203.6 Z' fill='none' stroke='#8a8a8a' stroke-width='1.5' stroke-linejoin='round'/>
<text x='311.4' y='17.8' font-family='Liberation Serif' font-size='9.3' fill='#000' font-weight='bold' text-anchor='start' letter-spacing='2.6'>Cu</text>
<text x='354.0' y='29.7' font-family='Liberation Serif' font-size='9.7' fill='#000' font-weight='bold' text-anchor='start' letter-spacing='2.4'>FeGa</text>
<text x='413.8' y='60.6' font-family='Liberation Serif' font-size='11' fill='#1b8a3e' font-weight='bold' text-anchor='start' letter-spacing='1.1'>+1.01 %</text>
<text x='413.8' y='77.6' font-family='Liberation Serif' font-size='11' fill='#a258a8' font-weight='bold' text-anchor='start' letter-spacing='1.1'>+0.84 %</text>
<text x='415.3' y='94.6' font-family='Liberation Serif' font-size='11' fill='#1f4fb5' font-weight='bold' text-anchor='start' letter-spacing='1.1'>+0.72 %</text>
<text x='420.0' y='111.6' font-family='Liberation Serif' font-size='11' fill='#e8202a' font-weight='bold' text-anchor='start' letter-spacing='1.1'>+0.42 %</text>
<text x='427.0' y='128.9' font-family='Liberation Serif' font-size='11' fill='#111111' font-weight='bold' text-anchor='start' letter-spacing='1.1'>0 %</text>
<text x='322.0' y='195.8' font-family='Liberation Serif' font-size='12.5' fill='#000' font-weight='bold' text-anchor='middle' >Cu</text>
<text x='358.3' y='189.2' font-family='Liberation Serif' font-size='12.5' fill='#000' font-weight='bold' text-anchor='middle' >FeGa</text>
<text x='413.8' y='209.8' font-family='Liberation Serif' font-size='13' fill='#1b8a3e' font-weight='bold' text-anchor='start' >-1.01 %</text>
<text x='413.8' y='230.3' font-family='Liberation Serif' font-size='13' fill='#a258a8' font-weight='bold' text-anchor='start' >-0.84 %</text>
<text x='414.7' y='251.8' font-family='Liberation Serif' font-size='13' fill='#1f4fb5' font-weight='bold' text-anchor='start' >-0.72 %</text>
<text x='416.9' y='272.0' font-family='Liberation Serif' font-size='13' fill='#e8202a' font-weight='bold' text-anchor='start' >-0.42 %</text>
<text x='427.5' y='294.7' font-family='Liberation Serif' font-size='13' fill='#111111' font-weight='bold' text-anchor='start' >0 %</text>
<rect x='463.8' y='9.7' width='136.49999999999994' height='35.2' fill='#fff' stroke='#333' stroke-width='0.9'/>
<line x1='463.8' y1='15.3' x2='466.3' y2='15.3' stroke='#333' stroke-width='0.8'/>
<text x='462.6' y='17.9' font-family='Liberation Serif' font-size='7.4' fill='#000' font-weight='bold' text-anchor='end' >0.292</text>
<line x1='463.8' y1='38.9' x2='466.3' y2='38.9' stroke='#333' stroke-width='0.8'/>
<text x='462.6' y='41.5' font-family='Liberation Serif' font-size='7.4' fill='#000' font-weight='bold' text-anchor='end' >0.288</text>
<line x1='469.4' y1='44.9' x2='469.4' y2='42.4' stroke='#333' stroke-width='0.8'/>
<text x='469.4' y='51.4' font-family='Liberation Serif' font-size='6.3' fill='#000' font-weight='bold' text-anchor='middle' >0.0</text>
<line x1='494.4' y1='44.9' x2='494.4' y2='42.4' stroke='#333' stroke-width='0.8'/>
<text x='494.4' y='51.4' font-family='Liberation Serif' font-size='6.3' fill='#000' font-weight='bold' text-anchor='middle' >0.2</text>
<line x1='519.3' y1='44.9' x2='519.3' y2='42.4' stroke='#333' stroke-width='0.8'/>
<text x='519.3' y='51.4' font-family='Liberation Serif' font-size='6.3' fill='#000' font-weight='bold' text-anchor='middle' >0.4</text>
<line x1='544.3' y1='44.9' x2='544.3' y2='42.4' stroke='#333' stroke-width='0.8'/>
<text x='544.3' y='51.4' font-family='Liberation Serif' font-size='6.3' fill='#000' font-weight='bold' text-anchor='middle' >0.6</text>
<line x1='569.2' y1='44.9' x2='569.2' y2='42.4' stroke='#333' stroke-width='0.8'/>
<text x='569.2' y='51.4' font-family='Liberation Serif' font-size='6.3' fill='#000' font-weight='bold' text-anchor='middle' >0.8</text>
<line x1='594.2' y1='44.9' x2='594.2' y2='42.4' stroke='#333' stroke-width='0.8'/>
<text x='594.2' y='51.4' font-family='Liberation Serif' font-size='6.3' fill='#000' font-weight='bold' text-anchor='middle' >1.0</text>
<line x1='475.6' y1='44.9' x2='475.6' y2='43.4' stroke='#333' stroke-width='0.6'/>
<line x1='481.9' y1='44.9' x2='481.9' y2='43.4' stroke='#333' stroke-width='0.6'/>
<line x1='488.1' y1='44.9' x2='488.1' y2='43.4' stroke='#333' stroke-width='0.6'/>
<line x1='494.4' y1='44.9' x2='494.4' y2='43.4' stroke='#333' stroke-width='0.6'/>
<line x1='500.6' y1='44.9' x2='500.6' y2='43.4' stroke='#333' stroke-width='0.6'/>
<line x1='506.8' y1='44.9' x2='506.8' y2='43.4' stroke='#333' stroke-width='0.6'/>
<line x1='513.1' y1='44.9' x2='513.1' y2='43.4' stroke='#333' stroke-width='0.6'/>
<line x1='519.3' y1='44.9' x2='519.3' y2='43.4' stroke='#333' stroke-width='0.6'/>
<line x1='525.6' y1='44.9' x2='525.6' y2='43.4' stroke='#333' stroke-width='0.6'/>
<line x1='531.8' y1='44.9' x2='531.8' y2='43.4' stroke='#333' stroke-width='0.6'/>
<line x1='538.0' y1='44.9' x2='538.0' y2='43.4' stroke='#333' stroke-width='0.6'/>
<text x='532.2' y='58.8' font-family='Liberation Serif' font-size='10.8' fill='#000' font-weight='bold' text-anchor='middle' >Tensile strain (%)</text>
<text transform='translate(441,28.3) rotate(-90)' font-family='Liberation Serif' font-size='9.6' font-weight='bold' text-anchor='middle'><tspan font-style='italic'>a</tspan> (nm)</text>
<polyline points='469.4,24.7 521.8,27.7 559.3,28.9 574.2,30.6 594.2,35.4' fill='none' stroke='#222' stroke-width='0.8' stroke-dasharray='3 1.5 1 1.5'/>
<rect x='467.2' y='22.5' width='4.4' height='4.4' fill='#111'/>
<rect x='519.6' y='25.5' width='4.4' height='4.4' fill='#111'/>
<rect x='557.1' y='26.7' width='4.4' height='4.4' fill='#111'/>
<rect x='572.0' y='28.4' width='4.4' height='4.4' fill='#111'/>
<rect x='592.0' y='33.2' width='4.4' height='4.4' fill='#111'/>
<rect x='472' y='153.7' width='128.79999999999995' height='39.30000000000001' fill='#fff' stroke='#333' stroke-width='0.9'/>
<line x1='472' y1='160.0' x2='474.5' y2='160.0' stroke='#333' stroke-width='0.8'/>
<text x='470.8' y='162.6' font-family='Liberation Serif' font-size='7.4' fill='#000' font-weight='bold' text-anchor='end' >0.292</text>
<line x1='472' y1='173.7' x2='474.5' y2='173.7' stroke='#333' stroke-width='0.8'/>
<text x='470.8' y='176.3' font-family='Liberation Serif' font-size='7.4' fill='#000' font-weight='bold' text-anchor='end' >0.290</text>
<line x1='472' y1='187.4' x2='474.5' y2='187.4' stroke='#333' stroke-width='0.8'/>
<text x='470.8' y='190.0' font-family='Liberation Serif' font-size='7.4' fill='#000' font-weight='bold' text-anchor='end' >0.288</text>
<line x1='479.0' y1='193' x2='479.0' y2='190.5' stroke='#333' stroke-width='0.8'/>
<text x='479.0' y='199.5' font-family='Liberation Serif' font-size='6.3' fill='#000' font-weight='bold' text-anchor='middle' >0.0</text>
<line x1='502.3' y1='193' x2='502.3' y2='190.5' stroke='#333' stroke-width='0.8'/>
<text x='502.3' y='199.5' font-family='Liberation Serif' font-size='6.3' fill='#000' font-weight='bold' text-anchor='middle' >-0.2</text>
<line x1='525.6' y1='193' x2='525.6' y2='190.5' stroke='#333' stroke-width='0.8'/>
<text x='525.6' y='199.5' font-family='Liberation Serif' font-size='6.3' fill='#000' font-weight='bold' text-anchor='middle' >-0.4</text>
<line x1='549.0' y1='193' x2='549.0' y2='190.5' stroke='#333' stroke-width='0.8'/>
<text x='549.0' y='199.5' font-family='Liberation Serif' font-size='6.3' fill='#000' font-weight='bold' text-anchor='middle' >-0.6</text>
<line x1='572.3' y1='193' x2='572.3' y2='190.5' stroke='#333' stroke-width='0.8'/>
<text x='572.3' y='199.5' font-family='Liberation Serif' font-size='6.3' fill='#000' font-weight='bold' text-anchor='middle' >-0.8</text>
<line x1='595.6' y1='193' x2='595.6' y2='190.5' stroke='#333' stroke-width='0.8'/>
<text x='595.6' y='199.5' font-family='Liberation Serif' font-size='6.3' fill='#000' font-weight='bold' text-anchor='middle' >-1.0</text>
<line x1='484.8' y1='193' x2='484.8' y2='191.5' stroke='#333' stroke-width='0.6'/>
<line x1='490.7' y1='193' x2='490.7' y2='191.5' stroke='#333' stroke-width='0.6'/>
<line x1='496.5' y1='193' x2='496.5' y2='191.5' stroke='#333' stroke-width='0.6'/>
<line x1='502.3' y1='193' x2='502.3' y2='191.5' stroke='#333' stroke-width='0.6'/>
<line x1='508.1' y1='193' x2='508.1' y2='191.5' stroke='#333' stroke-width='0.6'/>
<line x1='514.0' y1='193' x2='514.0' y2='191.5' stroke='#333' stroke-width='0.6'/>
<line x1='519.8' y1='193' x2='519.8' y2='191.5' stroke='#333' stroke-width='0.6'/>
<line x1='525.6' y1='193' x2='525.6' y2='191.5' stroke='#333' stroke-width='0.6'/>
<line x1='531.5' y1='193' x2='531.5' y2='191.5' stroke='#333' stroke-width='0.6'/>
<line x1='537.3' y1='193' x2='537.3' y2='191.5' stroke='#333' stroke-width='0.6'/>
<line x1='543.1' y1='193' x2='543.1' y2='191.5' stroke='#333' stroke-width='0.6'/>
<text x='537.7' y='209.5' font-family='Liberation Serif' font-size='10' fill='#000' font-weight='bold' text-anchor='middle' >Compressive strain(%)</text>
<text transform='translate(451.2,174.3) rotate(-90)' font-family='Liberation Serif' font-size='9.6' font-weight='bold' text-anchor='middle'><tspan font-style='italic'>a</tspan> (nm)</text>
<polyline points='479.0,171.0 528.0,177.1 563.0,181.2 576.9,175.1 596.8,173.0' fill='none' stroke='#222' stroke-width='0.8' stroke-dasharray='3 1.5 1 1.5'/>
<rect x='476.8' y='168.8' width='4.4' height='4.4' fill='#111'/>
<rect x='525.8' y='174.9' width='4.4' height='4.4' fill='#111'/>
<rect x='560.8' y='179.0' width='4.4' height='4.4' fill='#111'/>
<rect x='574.7' y='172.9' width='4.4' height='4.4' fill='#111'/>
<rect x='594.6' y='170.8' width='4.4' height='4.4' fill='#111'/>
<text x='158.0' y='23.6' font-family='Liberation Serif' font-size='19' fill='#e2213d' text-anchor='middle' >tensile</text>
<line x1='157' y1='26.5' x2='101.5' y2='98' stroke='#8c8c8c' stroke-width='3.6' stroke-dasharray='3.6 2.5'/>
<line x1='157' y1='26.5' x2='212.5' y2='98' stroke='#8c8c8c' stroke-width='3.6' stroke-dasharray='3.6 2.5'/>
<path d='M146.5,39.5 A17,17 0 0 0 167.5,39.5' fill='none' stroke='#8c8c8c' stroke-width='2.6'/>
<text x='155.3' y='60.4' font-family='Liberation Serif' font-size='14' fill='#000' font-weight='bold' text-anchor='middle' >+<tspan font-style='italic'>φ</tspan></text>
<text x='115.4' y='64.1' font-family='Liberation Serif' font-size='14' fill='#000' font-weight='bold' font-style='italic' text-anchor='middle' >r</text>
<clipPath id='clT1'><rect x='0' y='101' width='330' height='60'/></clipPath>
<clipPath id='clT2'><rect x='0' y='98.3' width='330' height='60'/></clipPath>
<g clip-path='url(#clT1)'><path d='M86.8,91.6 A76.3,76.3 0 0 0 226.2,91.6 L220.6,89.2 A70.2,70.2 0 0 1 92.4,89.2 Z' fill='#8a8658'/></g>
<g clip-path='url(#clT2)'><path d='M92.1,89.3 A70.5,70.5 0 0 0 220.9,89.3 L215.0,86.6 A64.0,64.0 0 0 1 98.0,86.6 Z' fill='#050505'/></g>
<path d='M97.5,105.5 Q106,117 120,124' fill='none' stroke='#4a78b8' stroke-width='1.2'/>
<path d='M115.5,124.5 L121.5,124.5 L117.5,120.5' fill='none' stroke='#4a78b8' stroke-width='1.2'/>
<path d='M214.5,105.5 Q206,117 193,124' fill='none' stroke='#4a78b8' stroke-width='1.2'/>
<path d='M197.5,124.5 L191.5,124.5 L195.5,120.5' fill='none' stroke='#4a78b8' stroke-width='1.2'/>
<text x='155.7' y='121.4' font-family='Liberation Serif' font-size='12.3' fill='#000' font-weight='bold' text-anchor='middle' >FeGa</text>
<text x='153.6' y='149.5' font-family='Liberation Serif' font-size='12.3' fill='#000' font-weight='bold' text-anchor='middle' >Cu</text>
<text x='163.0' y='187.6' font-family='Liberation Serif' font-size='19.5' fill='#e2213d' text-anchor='middle' >compressive</text>
<line x1='162' y1='193' x2='104.5' y2='309' stroke='#8c8c8c' stroke-width='3.6' stroke-dasharray='3.6 2.5'/>
<line x1='162' y1='193' x2='221.5' y2='309' stroke='#8c8c8c' stroke-width='3.6' stroke-dasharray='3.6 2.5'/>
<path d='M150.5,213.5 A17,17 0 0 0 172.5,213.5' fill='none' stroke='#8c8c8c' stroke-width='2.6'/>
<text x='162.2' y='229.6' font-family='Liberation Serif' font-size='14' fill='#000' font-weight='bold' text-anchor='middle' >-<tspan font-style='italic'>φ</tspan></text>
<text x='121.8' y='243.0' font-family='Liberation Serif' font-size='14' fill='#000' font-weight='bold' font-style='italic' text-anchor='middle' >r</text>
<clipPath id='clC1'><rect x='0' y='250' width='330' height='61.5'/></clipPath>
<clipPath id='clC2'><rect x='0' y='250' width='330' height='65.3'/></clipPath>
<g clip-path='url(#clC1)'><path d='M97.7,320.4 A73.5,73.5 0 0 1 231.9,320.4 L226.9,322.6 A68.0,68.0 0 0 0 102.7,322.6 Z' fill='#050505'/></g>
<g clip-path='url(#clC2)'><path d='M102.6,322.6 A68.1,68.1 0 0 1 227.0,322.6 L221.7,325.0 A62.3,62.3 0 0 0 107.9,325.0 Z' fill='#8a8658'/></g>
<path d='M114.4,306 Q126,296 140,290.7' fill='none' stroke='#4a78b8' stroke-width='1.2'/>
<path d='M135.5,289 L140.5,290.6 L137,294' fill='none' stroke='#4a78b8' stroke-width='1.2'/>
<path d='M214.6,306 Q203,296 189,290.7' fill='none' stroke='#4a78b8' stroke-width='1.2'/>
<path d='M193.5,289 L188.5,290.6 L192,294' fill='none' stroke='#4a78b8' stroke-width='1.2'/>
<text x='164.2' y='274.6' font-family='Liberation Serif' font-size='12.3' fill='#000' font-weight='bold' text-anchor='middle' >FeGa</text>
<text x='162.2' y='301.4' font-family='Liberation Serif' font-size='12.3' fill='#000' font-weight='bold' text-anchor='middle' >Cu</text>
<path d='M84.4,396.6 C92,386 110,375 135,371 L228,383 C245,384 258,389 267.6,395 L263.9,407.4 C255,401 245,399 238.4,402.3 C225,410 212,420 201.9,433 L198.2,421.3 Z' fill='#c38575'/>
<path d='M238.4,402.3 C248,397.5 258,400 263.9,407.4 C255,404 246,402.5 238.4,402.3 Z' fill='#0a0505'/>
<path d='M84.4,396.6 L198.2,421.3 L201.9,433 L89.5,406.8 Z' fill='#3e2521'/>
<path d='M126.7,378.4 L140,370.6 L227.7,376.2 L228.6,377.5 L193.6,384.5 L165.9,380.1 L161.2,382.8 Z' fill='#a9494b'/>
<path d='M126.7,378.4 L161.2,382.8 L161.2,388.9 L127.5,383.6 Z' fill='#762f32'/>
<path d='M161.2,382.8 L165.9,380.1 L165.9,386.3 L161.2,388.9 Z' fill='#b25456'/>
<path d='M165.9,380.1 L193.6,384.5 L193.6,389.8 L165.9,386.3 Z' fill='#762f32'/>
<path d='M193.6,384.5 L228.6,377.5 L228.6,381.9 L193.6,389.8 Z' fill='#8e3a3d'/>
<text x='160.3' y='379.5' font-family='Liberation Serif' font-size='13.6' fill='#f2d36a' font-weight='bold' text-anchor='middle' >CFO</text>
<text x='113.5' y='398.2' font-family='Liberation Serif' font-size='12.5' fill='#f2d36a' font-weight='bold' text-anchor='middle' >PI</text>
<circle cx='181' cy='384.5' r='8.5' fill='none' stroke='#e5252a' stroke-width='1.3' stroke-dasharray='3 2'/>
<path d='M175.5,391 C170,408 160,440 140.5,480.5' fill='none' stroke='#e5252a' stroke-width='1.4' stroke-dasharray='4 2.5'/>
<path d='M136.5,475 L140.2,481.5 L145.5,476.5' fill='none' stroke='#e5252a' stroke-width='1.3'/>
<path d='M123.0,559.5 L123.0,540.5 L126.0,540.5 L120.5,531.5 L115.0,540.5 L118.0,540.5 L118.0,559.5 Z' fill='#5d3b8d' opacity='1'/>
<path d='M77.7,490.1 L96.2,497.5 L95.1,500.3 L105.5,498.5 L99.2,490.1 L98.1,492.9 L79.5,485.5 Z' fill='#5d3b8d' opacity='1'/>
<path d='M137.8,498.6 L155.3,487.5 L156.9,490.0 L161.5,480.5 L151.0,480.7 L152.6,483.2 L135.2,494.4 Z' fill='#5d3b8d' opacity='1'/>
<g opacity='0.86'>
<path d='M86.8,496 L117.4,480.7 L157.3,489.9 L125.6,507.2 Z' fill='#dc9ea0'/>
<path d='M86.8,496 L125.6,507.2 L127.7,544 L89.9,530.7 Z' fill='#c4696d'/>
<path d='M125.6,507.2 L157.3,489.9 L157.3,525.6 L127.7,544 Z' fill='#d28488'/>
</g>
<path d='M124,507 L128,507.5 L130,544 L126.5,543 Z' fill='#ecc8c8' opacity='0.8'/>
<path d='M86.8,496 L125.6,507.2 L157.3,489.9' fill='none' stroke='#e8bcbc' stroke-width='1.2'/>
<path d='M89.9,530.7 L127.7,544 L157.3,525.6' fill='none' stroke='#b85a60' stroke-width='1.4'/>
<path d='M118.0,468.0 L118.0,487.5 L115.0,487.5 L120.5,496.5 L126.0,487.5 L123.0,487.5 L123.0,468.0 Z' fill='#5d3b8d' opacity='1'/>
<path d='M169.7,526.3 L152.1,517.1 L153.5,514.5 L143.0,515.2 L148.4,524.2 L149.8,521.6 L167.3,530.7 Z' fill='#5d3b8d' opacity='1'/>
<path d='M99.5,515.5 L84.3,526.5 L82.6,524.1 L78.5,533.8 L89.0,533.0 L87.3,530.5 L102.5,519.5 Z' fill='#5d3b8d' opacity='1'/>
<text x='122' y='465.5' font-family='Liberation Serif' font-style='italic' font-weight='bold' font-size='19' fill='#111'>ε<tspan font-size='13.7' dy='3'>z</tspan></text>
<text x='161' y='479' font-family='Liberation Serif' font-style='italic' font-weight='bold' font-size='19' fill='#111'>ε<tspan font-size='13.7' dy='3'>y</tspan></text>
<text x='60' y='494.5' font-family='Liberation Serif' font-style='italic' font-weight='bold' font-size='19' fill='#111'>ε<tspan font-size='13.7' dy='3'>x</tspan></text>
<text x='59' y='543.5' font-family='Liberation Serif' font-style='italic' font-weight='bold' font-size='19' fill='#111'>ε<tspan font-size='13.7' dy='3'>y</tspan></text>
<text x='158' y='543' font-family='Liberation Serif' font-style='italic' font-weight='bold' font-size='19' fill='#111'>ε<tspan font-size='13.7' dy='3'>x</tspan></text>
<text x='115.5' y='577.5' font-family='Liberation Serif' font-style='italic' font-weight='bold' font-size='19' fill='#111'>ε<tspan font-size='13.7' dy='3'>z</tspan></text>
<path d='M223.1,536.6 L223.1,507 M223.1,536.6 L257,541.8 M223.1,536.6 L199,552.5' stroke='#111' stroke-width='1.6' fill='none'/>
<path d='M220.3,508.5 L223.1,503.5 L225.9,508.5 Z M256,538.8 L261.5,542.5 L255.2,544.3 Z M198.5,549.2 L195.5,555 L201.5,554 Z' fill='#111'/>
<text x='224.6' y='498.8' font-family='Liberation Serif' font-size='13.5' fill='#000' font-weight='bold' text-anchor='middle' >(001)</text>
<text x='196.6' y='569.2' font-family='Liberation Serif' font-size='13.5' fill='#000' font-weight='bold' text-anchor='middle' >(100)</text>
<text x='260.6' y='567.3' font-family='Liberation Serif' font-size='13.5' fill='#000' font-weight='bold' text-anchor='middle' >(010)</text>
<defs>
<radialGradient id='sg_g' cx='0.5' cy='0.5' r='0.55'><stop offset='0' stop-color='#9ccfa8'/><stop offset='0.3' stop-color='#45a653'/><stop offset='0.8' stop-color='#45a653'/><stop offset='1' stop-color='#2a8a3a'/></radialGradient>
<radialGradient id='sg_y' cx='0.5' cy='0.5' r='0.55'><stop offset='0' stop-color='#f6f6b0'/><stop offset='0.3' stop-color='#d2d23a'/><stop offset='0.8' stop-color='#d2d23a'/><stop offset='1' stop-color='#a0a020'/></radialGradient>
<radialGradient id='sg_p' cx='0.5' cy='0.5' r='0.55'><stop offset='0' stop-color='#c27ac8'/><stop offset='0.3' stop-color='#7a2282'/><stop offset='0.8' stop-color='#7a2282'/><stop offset='1' stop-color='#50105a'/></radialGradient>
<radialGradient id='sg_o' cx='0.5' cy='0.5' r='0.55'><stop offset='0' stop-color='#fbe08a'/><stop offset='0.3' stop-color='#db8d1e'/><stop offset='0.8' stop-color='#db8d1e'/><stop offset='1' stop-color='#a86010'/></radialGradient>
<radialGradient id='sg_n' cx='0.5' cy='0.5' r='0.55'><stop offset='0' stop-color='#ffffff'/><stop offset='0.3' stop-color='#a8aed0'/><stop offset='0.8' stop-color='#a8aed0'/><stop offset='1' stop-color='#7a80b0'/></radialGradient>
</defs>
<text x='448.6' y='366.6' font-family='Liberation Sans' font-size='8.1' fill='#d8232e' text-anchor='middle' >Bending Strain</text>
<text x='577.9' y='366.9' font-family='Liberation Sans' font-size='8.1' fill='#3ab2c4' text-anchor='middle' >Stretching Strain</text>
<path d='M459.7,419.8 A28.2,28.2 0 0 1 515.1,419.8 L511.4,420.5 A24.4,24.4 0 0 0 463.4,420.5 Z' fill='#1b9bd8'/>
<path d='M464.1,401.9 A32.9,32.9 0 0 1 510.7,401.9 L507.2,405.4 A28.0,28.0 0 0 0 467.6,405.4 Z' fill='#6db24d'/>
<path d='M464.2,395.5 A37.7,37.7 0 0 1 510.6,395.5 L507.5,399.4 A32.7,32.7 0 0 0 467.3,399.4 Z' fill='#d9507f'/>
<path d='M464,400.5 Q466,396 471,394.5' fill='none' stroke='#3050b0' stroke-width='1.2'/>
<path d='M511,400.5 Q509,396 504,394.5' fill='none' stroke='#3050b0' stroke-width='1.2'/>
<text x='446.5' y='399.1' font-family='Liberation Sans' font-size='7.8' fill='#d9507f' text-anchor='middle' >Fe<tspan font-size='5' dy='1.5'>4</tspan><tspan dy='-1.5'>N</tspan></text>
<text x='446.0' y='407.9' font-family='Liberation Sans' font-size='7.8' fill='#6db24d' text-anchor='middle' >Mica</text>
<text x='445.3' y='418.1' font-family='Liberation Sans' font-size='7.8' fill='#1b9bd8' text-anchor='middle' >Model</text>
<polyline points='462.5,420 486.2,445.2 512.3,420' fill='none' stroke='#5a8fd0' stroke-width='0.8'/>
<text x='487.3' y='435.2' font-family='Liberation Sans' font-size='9' fill='#111' font-weight='bold' text-anchor='middle' >α</text>
<path d='M481.5,440.5 Q486.5,435.5 491.5,440.5' fill='none' stroke='#111' stroke-width='1.8'/>
<text transform='translate(479.5,438.5) rotate(38)' font-family='Liberation Sans' font-size='6' fill='#222' text-anchor='middle'>ROC</text>
<line x1='487.4' y1='371.6' x2='487.4' y2='410.5' stroke='#e0262e' stroke-width='1.3'/><path d='M484.9,409.5 L489.9,409.5 L487.4,417.5 Z' fill='#e0262e'/>
<text x='487.4' y='425.2' font-family='Liberation Sans' font-size='7.4' fill='#e0262e' font-weight='bold' text-anchor='middle' >H</text>
<ellipse cx='487.4' cy='389.9' rx='6.7' ry='5.6' fill='none' stroke='#111' stroke-width='1' stroke-dasharray='2.5 1.6'/>
<line x1='480.6' y1='392.5' x2='463.4' y2='468.4' stroke='#111' stroke-width='1.1' stroke-dasharray='3 2'/>
<line x1='494.0' y1='392.5' x2='511.4' y2='468.4' stroke='#111' stroke-width='1.1' stroke-dasharray='3 2'/>
<path d='M467.8,457.5 L507.2,457.5 M471,454.5 L467.8,457.5 L471,460.5 M504,454.5 L507.2,457.5 L504,460.5 M467.8,457.5 L477,453 L497,453 L507.2,457.5 M467.8,457.5 L477,462 L497,462 L507.2,457.5' fill='none' stroke='#e05555' stroke-width='0.8' stroke-dasharray='1.8 1.2'/>
<text x='487.0' y='455.8' font-family='Liberation Sans' font-size='7.2' fill='#d03030' font-weight='bold' text-anchor='middle' >+ε</text>
<polygon points='448.5,480.0 462.6,469.8 520.4,472.4 516.0,513.6 500.5,522.0 460.0,518.8' fill='none' stroke='#e06060' stroke-width='0.8'/>
<line x1='462.6' y1='469.8' x2='462.6' y2='469.8' stroke='#e06060' stroke-width='0.9'/>
<line x1='448.5' y1='480.0' x2='503.0' y2='484.0' stroke='#e06060' stroke-width='0.8'/>
<line x1='503.0' y1='484.0' x2='520.4' y2='472.4' stroke='#e06060' stroke-width='0.8'/>
<line x1='503.0' y1='484.0' x2='500.5' y2='522.0' stroke='#e06060' stroke-width='0.8'/>
<line x1='470.0' y1='478.0' x2='473.0' y2='512.0' stroke='#e06060' stroke-width='0.7' stroke-dasharray='2 1.5'/>
<line x1='473.0' y1='512.0' x2='516.0' y2='513.6' stroke='#e06060' stroke-width='0.7' stroke-dasharray='2 1.5'/>
<line x1='473.0' y1='512.0' x2='460.0' y2='518.8' stroke='#e06060' stroke-width='0.7' stroke-dasharray='2 1.5'/>
<polygon points='459.9,479.4 500.2,481.2 500.2,520.6 460.8,518.8' fill='none' stroke='#222' stroke-width='0.9'/>
<line x1='470.4' y1='469.8' x2='510.7' y2='471.9' stroke='#222' stroke-width='0.9'/>
<line x1='510.7' y1='471.9' x2='511.6' y2='511.0' stroke='#222' stroke-width='0.9'/>
<line x1='459.9' y1='479.4' x2='470.4' y2='469.8' stroke='#222' stroke-width='0.9'/>
<line x1='500.2' y1='481.2' x2='510.7' y2='471.9' stroke='#222' stroke-width='0.9'/>
<line x1='500.2' y1='520.6' x2='511.6' y2='511.0' stroke='#222' stroke-width='0.9'/>
<line x1='470.4' y1='469.8' x2='471.0' y2='509.0' stroke='#333' stroke-width='0.8' stroke-dasharray='2.2 1.6'/>
<line x1='471.0' y1='509.0' x2='511.6' y2='511.0' stroke='#333' stroke-width='0.8' stroke-dasharray='2.2 1.6'/>
<line x1='460.8' y1='518.8' x2='471.0' y2='509.0' stroke='#333' stroke-width='0.8' stroke-dasharray='2.2 1.6'/>
<line x1='485.3' y1='461.0' x2='485.3' y2='526.0' stroke='#e0262e' stroke-width='1' stroke-dasharray='2.5 1.5'/>
<line x1='485.3' y1='526' x2='485.3' y2='529.5' stroke='#e0262e' stroke-width='1.2'/><path d='M483.3,528.5 L487.3,528.5 L485.3,535.5 Z' fill='#e0262e'/>
<text x='491.8' y='536.8' font-family='Liberation Sans' font-size='8.2' fill='#e0262e' text-anchor='middle' >H</text>
<circle cx='484.5' cy='491' r='3.4' fill='#2a4aa8'/>
<circle cx='484.5' cy='499' r='3.4' fill='#d8c83a'/>
<circle cx='484.5' cy='495.8' r='3.4' fill='#e0262e'/>
<line x1='484.5' y1='488' x2='484.5' y2='503' stroke='#222' stroke-width='0.8'/>
<text x='489.5' y='492.6' font-family='Liberation Sans' font-size='6.6' fill='#2a4aa8' text-anchor='start' >N3</text>
<text x='489.5' y='498.0' font-family='Liberation Sans' font-size='6.6' fill='#e0262e' text-anchor='start' >N5</text>
<text x='489.5' y='503.6' font-family='Liberation Sans' font-size='6.6' fill='#111' text-anchor='start' >N0</text>
<text x='472.0' y='500.4' font-family='Liberation Sans' font-size='6.6' fill='#c8b830' text-anchor='start' >N2</text>
<text x='421.5' y='475.6' font-family='Liberation Sans' font-size='7.4' fill='#d03030' text-anchor='middle' >[100]</text>
<text x='417.0' y='480.6' font-family='Liberation Sans' font-size='7.4' fill='#d03030' text-anchor='middle' >a</text>
<circle cx='416.8' cy='483.7' r='1.4' fill='#d03030'/>
<line x1='414.2' y1='485.7' x2='422.1' y2='485.7' stroke='#40a040' stroke-width='1.3'/><path d='M422.1,487.3 L425.1,485.7 L422.1,484.1 Z' fill='#40a040'/>
<text x='428.5' y='488.2' font-family='Liberation Sans' font-size='7.4' fill='#40a040' text-anchor='middle' >b</text>
<text x='431.6' y='488.4' font-family='Liberation Sans' font-size='7.4' fill='#40a040' text-anchor='start' >[010]</text>
<line x1='414.2' y1='485.7' x2='414.2' y2='492.9' stroke='#2a4aa8' stroke-width='1.3'/><path d='M412.6,492.9 L414.2,495.9 L415.8,492.9 Z' fill='#2a4aa8'/>
<text x='415.0' y='502.0' font-family='Liberation Sans' font-size='7.4' fill='#2a4aa8' text-anchor='middle' >c</text>
<text transform='translate(417.7,511.5) rotate(-90)' font-family='Liberation Sans' font-size='6.8' fill='#2a4aa8' text-anchor='middle'>[001]</text>
<circle cx='418.4' cy='546.2' r='3.6' fill='url(#sg_n)'/>
<text x='424.7' y='548.8' font-family='Liberation Sans' font-size='7.8' fill='#333' text-anchor='start' >N</text>
<circle cx='418.4' cy='557.0' r='4.6' fill='url(#sg_g)'/>
<text x='424.7' y='559.6' font-family='Liberation Sans' font-size='7.8' fill='#333' text-anchor='start' >Fe<tspan font-size="4.5" dy="2">I-C</tspan></text>
<circle cx='418.4' cy='567.4' r='4.6' fill='url(#sg_y)'/>
<text x='424.7' y='570.0' font-family='Liberation Sans' font-size='7.8' fill='#333' text-anchor='start' >Fe<tspan font-size="4.5" dy="2">I-F</tspan></text>
<circle cx='418.4' cy='577.9' r='4.6' fill='url(#sg_p)'/>
<text x='424.7' y='580.5' font-family='Liberation Sans' font-size='7.8' fill='#333' text-anchor='start' >Fe<tspan font-size="4.5" dy="2">II-F</tspan></text>
<circle cx='418.4' cy='588.3' r='4.6' fill='url(#sg_o)'/>
<text x='424.7' y='590.9' font-family='Liberation Sans' font-size='7.8' fill='#333' text-anchor='start' >Fe<tspan font-size="4.5" dy="2">II-F</tspan></text>
<line x1='459.2' y1='542.8' x2='509.7' y2='544.3' stroke='#333' stroke-width='0.8'/>
<line x1='509.7' y1='544.3' x2='507.2' y2='585.5' stroke='#333' stroke-width='0.8'/>
<line x1='507.2' y1='585.5' x2='462.3' y2='583.6' stroke='#333' stroke-width='0.8'/>
<line x1='462.3' y1='583.6' x2='459.2' y2='542.8' stroke='#333' stroke-width='0.8'/>
<line x1='451.6' y1='558.0' x2='500.2' y2='558.9' stroke='#333' stroke-width='0.8'/>
<line x1='500.2' y1='558.9' x2='498.7' y2='595.9' stroke='#333' stroke-width='0.8'/>
<line x1='498.7' y1='595.9' x2='456.0' y2='595.0' stroke='#333' stroke-width='0.8'/>
<line x1='456.0' y1='595.0' x2='451.6' y2='558.0' stroke='#333' stroke-width='0.8'/>
<line x1='459.2' y1='542.8' x2='451.6' y2='558.0' stroke='#333' stroke-width='0.8'/>
<line x1='509.7' y1='544.3' x2='500.2' y2='558.9' stroke='#333' stroke-width='0.8'/>
<line x1='462.3' y1='583.6' x2='456.0' y2='595.0' stroke='#333' stroke-width='0.8'/>
<line x1='507.2' y1='585.5' x2='498.7' y2='595.9' stroke='#333' stroke-width='0.8'/>
<line x1='480.7' y1='571.6' x2='469.9' y2='557.2' stroke='#8d93c2' stroke-width='3.2'/><line x1='469.9' y1='557.2' x2='459.2' y2='542.8' stroke='#43a351' stroke-width='3.2'/>
<line x1='480.7' y1='571.6' x2='495.2' y2='558.0' stroke='#8d93c2' stroke-width='3.2'/><line x1='495.2' y1='558.0' x2='509.7' y2='544.3' stroke='#43a351' stroke-width='3.2'/>
<line x1='480.7' y1='571.6' x2='471.5' y2='577.6' stroke='#8d93c2' stroke-width='3.2'/><line x1='471.5' y1='577.6' x2='462.3' y2='583.6' stroke='#43a351' stroke-width='3.2'/>
<line x1='480.7' y1='571.6' x2='493.9' y2='578.5' stroke='#8d93c2' stroke-width='3.2'/><line x1='493.9' y1='578.5' x2='507.2' y2='585.5' stroke='#43a351' stroke-width='3.2'/>
<circle cx='483.5' cy='565.2' r='5.6' fill='url(#sg_p)'/>
<circle cx='480.1' cy='551.3' r='6.2' fill='url(#sg_y)'/>
<line x1='480.1' y1='556.3' x2='480.7' y2='571.6' stroke='#cfd040' stroke-width='2.2'/>
<line x1='456.6' y1='571.2' x2='480.7' y2='571.6' stroke='#d88d22' stroke-width='2.2'/>
<line x1='504.0' y1='573.1' x2='480.7' y2='571.6' stroke='#d88d22' stroke-width='2.2'/>
<circle cx='459.2' cy='542.8' r='6.3' fill='url(#sg_g)'/>
<circle cx='509.7' cy='544.3' r='6.3' fill='url(#sg_g)'/>
<circle cx='462.3' cy='583.6' r='6.3' fill='url(#sg_g)'/>
<circle cx='507.2' cy='585.5' r='6.3' fill='url(#sg_g)'/>
<circle cx='456.6' cy='571.2' r='6.2' fill='url(#sg_o)'/>
<circle cx='504.0' cy='573.1' r='6.2' fill='url(#sg_o)'/>
<line x1='480.7' y1='571.6' x2='466.1' y2='564.8' stroke='#8d93c2' stroke-width='3.4'/><line x1='466.1' y1='564.8' x2='451.6' y2='558.0' stroke='#43a351' stroke-width='3.4'/>
<line x1='480.7' y1='571.6' x2='490.4' y2='565.2' stroke='#8d93c2' stroke-width='3.4'/><line x1='490.4' y1='565.2' x2='500.2' y2='558.9' stroke='#43a351' stroke-width='3.4'/>
<line x1='480.7' y1='571.6' x2='468.4' y2='583.3' stroke='#8d93c2' stroke-width='3.4'/><line x1='468.4' y1='583.3' x2='456.0' y2='595.0' stroke='#43a351' stroke-width='3.4'/>
<line x1='480.7' y1='571.6' x2='489.7' y2='583.8' stroke='#8d93c2' stroke-width='3.4'/><line x1='489.7' y1='583.8' x2='498.7' y2='595.9' stroke='#43a351' stroke-width='3.4'/>
<line x1='481.2' y1='585.2' x2='480.7' y2='571.6' stroke='#cfd040' stroke-width='2.2'/>
<circle cx='481.2' cy='590.2' r='6.2' fill='url(#sg_y)'/>
<circle cx='476.9' cy='578.8' r='6.4' fill='url(#sg_p)'/>
<circle cx='480.7' cy='571.6' r='2.2' fill='url(#sg_n)'/>
<circle cx='451.6' cy='558.0' r='6.5' fill='url(#sg_g)'/>
<circle cx='500.2' cy='558.9' r='6.5' fill='url(#sg_g)'/>
<circle cx='456.0' cy='595.0' r='6.5' fill='url(#sg_g)'/>
<circle cx='498.7' cy='595.9' r='6.5' fill='url(#sg_g)'/>
<polygon points='546.1,396.9 596.2,383.2 621.7,410.2 569.6,423.5' fill='#dc5086' stroke='#dc5086' stroke-width='0.6'/>
<polygon points='546.1,396.9 569.6,423.5 570.7,433 546.1,405.5' fill='#b5396a' stroke='#b5396a' stroke-width='0.6'/>
<polygon points='569.6,423.5 621.7,410.2 621.7,419.6 570.7,433' fill='#c64276' stroke='#c64276' stroke-width='0.6'/>
<line x1='568.6' y1='395.9' x2='556.7' y2='398.6' stroke='#45b8d2' stroke-width='1.7'/><path d='M556.2,396.4 L552.3,399.6 L557.2,400.8 Z' fill='#45b8d2'/>
<line x1='573.7' y1='401.6' x2='561.8' y2='404.6' stroke='#45b8d2' stroke-width='1.7'/><path d='M561.2,402.4 L557.4,405.7 L562.3,406.8 Z' fill='#45b8d2'/>
<line x1='577.8' y1='406.5' x2='565.9' y2='409.5' stroke='#45b8d2' stroke-width='1.7'/><path d='M565.3,407.3 L561.5,410.6 L566.4,411.7 Z' fill='#45b8d2'/>
<line x1='582.9' y1='412.2' x2='571.0' y2='415.2' stroke='#45b8d2' stroke-width='1.7'/><path d='M570.4,413.0 L566.6,416.3 L571.5,417.4 Z' fill='#45b8d2'/>
<line x1='584.0' y1='391.8' x2='595.9' y2='388.8' stroke='#45b8d2' stroke-width='1.7'/><path d='M596.5,391.0 L600.3,387.7 L595.4,386.6 Z' fill='#45b8d2'/>
<line x1='589.0' y1='397.5' x2='601.0' y2='394.5' stroke='#45b8d2' stroke-width='1.7'/><path d='M601.6,396.7 L605.4,393.4 L600.5,392.3 Z' fill='#45b8d2'/>
<line x1='593.5' y1='403.0' x2='605.1' y2='400.0' stroke='#45b8d2' stroke-width='1.7'/><path d='M605.7,402.2 L609.5,398.9 L604.6,397.8 Z' fill='#45b8d2'/>
<line x1='598.2' y1='408.5' x2='610.2' y2='405.6' stroke='#45b8d2' stroke-width='1.7'/><path d='M610.8,407.8 L614.6,404.5 L609.7,403.4 Z' fill='#45b8d2'/>
<text x='575.5' y='393.5' font-family='Liberation Sans' font-size='5.5' fill='#45b8d2' text-anchor='middle' >+ε</text>
<line x1='582.5' y1='375.4' x2='582.5' y2='397' stroke='#111' stroke-width='1.1'/><path d='M580.5,396 L584.5,396 L582.5,403 Z' fill='#111'/>
<text x='588.0' y='408.3' font-family='Liberation Sans' font-size='7' fill='#111' text-anchor='middle' >H</text>
<ellipse cx='594.2' cy='421.4' rx='7' ry='5.3' fill='none' stroke='#111' stroke-width='1' stroke-dasharray='2.5 1.6'/>
<line x1='589.0' y1='426.0' x2='574.5' y2='470.0' stroke='#111' stroke-width='1' stroke-dasharray='3 2'/>
<line x1='600.0' y1='426.0' x2='614.0' y2='471.0' stroke='#111' stroke-width='1' stroke-dasharray='3 2'/>
<polygon points='559.9,479.0 606.5,481.0 606.5,518.5 559.9,516.8' fill='none' stroke='#e05050' stroke-width='0.8' stroke-dasharray='2 1.3'/>
<polygon points='568.0,472.5 616.5,474.5 617.0,512.5 568.5,511.0' fill='none' stroke='#e05050' stroke-width='0.8' stroke-dasharray='2 1.3'/>
<line x1='559.9' y1='479.0' x2='568.0' y2='472.5' stroke='#e05050' stroke-width='0.8' stroke-dasharray='2 1.3'/>
<line x1='606.5' y1='481.0' x2='616.5' y2='474.5' stroke='#e05050' stroke-width='0.8' stroke-dasharray='2 1.3'/>
<line x1='606.5' y1='518.5' x2='617.0' y2='512.5' stroke='#e05050' stroke-width='0.8' stroke-dasharray='2 1.3'/>
<line x1='559.9' y1='516.8' x2='568.5' y2='511.0' stroke='#e05050' stroke-width='0.8' stroke-dasharray='2 1.3'/>
<polygon points='562.3,480.1 602.0,481.3 603.1,521.6 563.4,519.8' fill='none' stroke='#333' stroke-width='0.9'/>
<polygon points='574.5,470.2 613.7,472.5 614.8,511.6 575.1,509.9' fill='none' stroke='#333' stroke-width='0.9'/>
<line x1='562.3' y1='480.1' x2='574.5' y2='470.2' stroke='#333' stroke-width='0.9'/>
<line x1='602.0' y1='481.3' x2='613.7' y2='472.5' stroke='#333' stroke-width='0.9'/>
<line x1='603.1' y1='521.6' x2='614.8' y2='511.6' stroke='#333' stroke-width='0.9'/>
<line x1='563.4' y1='519.8' x2='575.1' y2='509.9' stroke='#333' stroke-width='0.9'/>
<line x1='588.5' y1='464.9' x2='588.5' y2='476.6' stroke='#e0262e' stroke-width='1'/>
<line x1='588.5' y1='512.2' x2='588.5' y2='516.9' stroke='#e0262e' stroke-width='1'/>
<text x='588.6' y='493.5' font-family='Liberation Sans' font-size='6.8' fill='#e0262e' text-anchor='middle' >N5</text>
<circle cx='588.5' cy='497.6' r='3.3' fill='#e0262e'/>
<text x='588.6' y='507.6' font-family='Liberation Sans' font-size='6.8' fill='#111' text-anchor='middle' >N0</text>
<path d='M586.6,523.9 L590.4,523.9 L588.5,534.4 Z' fill='#e0262e'/>
<text x='595.3' y='534.6' font-family='Liberation Sans' font-size='8.2' fill='#e0262e' text-anchor='middle' >H</text>
<line x1='564.8' y1='542.0' x2='612.3' y2='544.0' stroke='#333' stroke-width='0.8'/>
<line x1='612.3' y1='544.0' x2='612.6' y2='583.8' stroke='#333' stroke-width='0.8'/>
<line x1='612.6' y1='583.8' x2='564.2' y2='581.0' stroke='#333' stroke-width='0.8'/>
<line x1='564.2' y1='581.0' x2='564.8' y2='542.0' stroke='#333' stroke-width='0.8'/>
<line x1='556.6' y1='555.3' x2='604.1' y2='557.2' stroke='#333' stroke-width='0.8'/>
<line x1='604.1' y1='557.2' x2='604.1' y2='597.1' stroke='#333' stroke-width='0.8'/>
<line x1='604.1' y1='597.1' x2='557.2' y2='595.2' stroke='#333' stroke-width='0.8'/>
<line x1='557.2' y1='595.2' x2='556.6' y2='555.3' stroke='#333' stroke-width='0.8'/>
<line x1='564.8' y1='542.0' x2='556.6' y2='555.3' stroke='#333' stroke-width='0.8'/>
<line x1='612.3' y1='544.0' x2='604.1' y2='557.2' stroke='#333' stroke-width='0.8'/>
<line x1='564.2' y1='581.0' x2='557.2' y2='595.2' stroke='#333' stroke-width='0.8'/>
<line x1='612.6' y1='583.8' x2='604.1' y2='597.1' stroke='#333' stroke-width='0.8'/>
<line x1='585.1' y1='569.6' x2='575.0' y2='555.8' stroke='#8d93c2' stroke-width='3.2'/><line x1='575.0' y1='555.8' x2='564.8' y2='542.0' stroke='#43a351' stroke-width='3.2'/>
<line x1='585.1' y1='569.6' x2='598.7' y2='556.8' stroke='#8d93c2' stroke-width='3.2'/><line x1='598.7' y1='556.8' x2='612.3' y2='544.0' stroke='#43a351' stroke-width='3.2'/>
<line x1='585.1' y1='569.6' x2='574.7' y2='575.3' stroke='#8d93c2' stroke-width='3.2'/><line x1='574.7' y1='575.3' x2='564.2' y2='581.0' stroke='#43a351' stroke-width='3.2'/>
<line x1='585.1' y1='569.6' x2='598.9' y2='576.7' stroke='#8d93c2' stroke-width='3.2'/><line x1='598.9' y1='576.7' x2='612.6' y2='583.8' stroke='#43a351' stroke-width='3.2'/>
<circle cx='588.9' cy='562.0' r='5.6' fill='url(#sg_p)'/>
<circle cx='584.2' cy='549.6' r='6.2' fill='url(#sg_y)'/>
<line x1='584.2' y1='554.6' x2='585.1' y2='569.6' stroke='#cfd040' stroke-width='2.2'/>
<line x1='560.4' y1='569.2' x2='585.1' y2='569.6' stroke='#d88d22' stroke-width='2.2'/>
<line x1='608.8' y1='570.5' x2='585.1' y2='569.6' stroke='#d88d22' stroke-width='2.2'/>
<circle cx='564.8' cy='542.0' r='6.3' fill='url(#sg_g)'/>
<circle cx='612.3' cy='544.0' r='6.3' fill='url(#sg_g)'/>
<circle cx='564.2' cy='581.0' r='6.3' fill='url(#sg_g)'/>
<circle cx='612.6' cy='583.8' r='6.3' fill='url(#sg_g)'/>
<circle cx='560.4' cy='569.2' r='6.2' fill='url(#sg_o)'/>
<circle cx='608.8' cy='570.5' r='6.2' fill='url(#sg_o)'/>
<line x1='585.1' y1='569.6' x2='570.9' y2='562.5' stroke='#8d93c2' stroke-width='3.4'/><line x1='570.9' y1='562.5' x2='556.6' y2='555.3' stroke='#43a351' stroke-width='3.4'/>
<line x1='585.1' y1='569.6' x2='594.6' y2='563.4' stroke='#8d93c2' stroke-width='3.4'/><line x1='594.6' y1='563.4' x2='604.1' y2='557.2' stroke='#43a351' stroke-width='3.4'/>
<line x1='585.1' y1='569.6' x2='571.2' y2='582.4' stroke='#8d93c2' stroke-width='3.4'/><line x1='571.2' y1='582.4' x2='557.2' y2='595.2' stroke='#43a351' stroke-width='3.4'/>
<line x1='585.1' y1='569.6' x2='594.6' y2='583.4' stroke='#8d93c2' stroke-width='3.4'/><line x1='594.6' y1='583.4' x2='604.1' y2='597.1' stroke='#43a351' stroke-width='3.4'/>
<line x1='584.5' y1='584.5' x2='585.1' y2='569.6' stroke='#cfd040' stroke-width='2.2'/>
<circle cx='584.5' cy='589.5' r='6.2' fill='url(#sg_y)'/>
<circle cx='580.0' cy='576.2' r='6.4' fill='url(#sg_p)'/>
<circle cx='585.1' cy='569.6' r='2.2' fill='url(#sg_n)'/>
<circle cx='556.6' cy='555.3' r='6.5' fill='url(#sg_g)'/>
<circle cx='604.1' cy='557.2' r='6.5' fill='url(#sg_g)'/>
<circle cx='557.2' cy='595.2' r='6.5' fill='url(#sg_g)'/>
<circle cx='604.1' cy='597.1' r='6.5' fill='url(#sg_g)'/>
<defs>
<radialGradient id='dg_fe' cx='0.5' cy='0.5' r='0.55'><stop offset='0' stop-color='#fff4b0'/><stop offset='0.18' stop-color='#f0b42c'/><stop offset='0.5' stop-color='#b47416'/><stop offset='0.85' stop-color='#8a5810'/><stop offset='1' stop-color='#6e4610'/></radialGradient>
<radialGradient id='dg_te' cx='0.5' cy='0.5' r='0.55'><stop offset='0' stop-color='#ffffff'/><stop offset='0.18' stop-color='#eeeeb8'/><stop offset='0.5' stop-color='#9c9862'/><stop offset='1' stop-color='#6c6a40'/></radialGradient>
<radialGradient id='dg_ge' cx='0.5' cy='0.5' r='0.55'><stop offset='0' stop-color='#ffffff'/><stop offset='0.18' stop-color='#b4b4e0'/><stop offset='0.5' stop-color='#6c6ca2'/><stop offset='1' stop-color='#46467a'/></radialGradient>
</defs>
<rect x='35.6' y='683.4' width='70.3' height='106.2' fill='none' stroke='#222' stroke-width='1.6' stroke-dasharray='3.4 1.6'/>
<line x1='46.9' y1='685' x2='46.9' y2='788' stroke='#bbb' stroke-width='0.9'/>
<line x1='93.7' y1='685' x2='93.7' y2='788' stroke='#bbb' stroke-width='0.9'/>
<circle cx='78.2' cy='691.7' r='7.3' fill='url(#dg_te)'/>
<circle cx='62.9' cy='707.7' r='6.5' fill='url(#dg_fe)'/>
<circle cx='46.9' cy='716.2' r='6.5' fill='url(#dg_fe)'/>
<circle cx='93.7' cy='716.2' r='6.5' fill='url(#dg_fe)'/>
<circle cx='78.2' cy='728.5' r='6.5' fill='url(#dg_fe)'/>
<circle cx='62.9' cy='740.6' r='6.3' fill='url(#dg_ge)'/>
<circle cx='46.9' cy='747.7' r='6.5' fill='url(#dg_fe)'/>
<circle cx='93.7' cy='747.7' r='6.5' fill='url(#dg_fe)'/>
<circle cx='78.2' cy='761.9' r='6.5' fill='url(#dg_fe)'/>
<circle cx='46.9' cy='781.1' r='7.3' fill='url(#dg_te)'/>
<circle cx='93.7' cy='781.1' r='7.3' fill='url(#dg_te)'/>
<text x='94.2' y='694.5' font-family='Liberation Serif' font-size='8.4' fill='#76743e' font-weight='bold' text-anchor='middle' >Te1</text>
<text x='63.3' y='701.3' font-family='Liberation Serif' font-size='8.4' fill='#80561c' font-weight='bold' text-anchor='middle' >Fe5</text>
<text x='47.1' y='708.7' font-family='Liberation Serif' font-size='8.4' fill='#80561c' font-weight='bold' text-anchor='middle' >Fe4</text>
<text x='94.2' y='708.7' font-family='Liberation Serif' font-size='8.4' fill='#80561c' font-weight='bold' text-anchor='middle' >Fe4</text>
<text x='79.9' y='720.9' font-family='Liberation Serif' font-size='8.4' fill='#80561c' font-weight='bold' text-anchor='middle' >Fe2</text>
<text x='63.1' y='733.6' font-family='Liberation Serif' font-size='8.4' fill='#5c5c9c' font-weight='bold' text-anchor='middle' >Ge1</text>
<text x='47.1' y='740.6' font-family='Liberation Serif' font-size='8.4' fill='#80561c' font-weight='bold' text-anchor='middle' >Fe3</text>
<text x='94.2' y='740.6' font-family='Liberation Serif' font-size='8.4' fill='#80561c' font-weight='bold' text-anchor='middle' >Fe3</text>
<text x='79.0' y='754.5' font-family='Liberation Serif' font-size='8.4' fill='#80561c' font-weight='bold' text-anchor='middle' >Fe1</text>
<text x='47.4' y='772.6' font-family='Liberation Serif' font-size='8.4' fill='#76743e' font-weight='bold' text-anchor='middle' >Te2</text>
<text x='94.8' y='772.6' font-family='Liberation Serif' font-size='8.4' fill='#76743e' font-weight='bold' text-anchor='middle' >Te2</text>
<rect x='35.6' y='796' width='69.5' height='63.8' fill='none' stroke='#222' stroke-width='1.6' stroke-dasharray='3.4 1.6'/>
<g clip-path='url(#tvclip)'>
<clipPath id='tvclip'><rect x='36.5' y='797' width='67.7' height='62'/></clipPath>
<line x1='39.3' y1='796' x2='39.3' y2='860' stroke='#a8732a' stroke-width='0.85'/>
<line x1='49.3' y1='796' x2='49.3' y2='860' stroke='#a8732a' stroke-width='0.85'/>
<line x1='59.2' y1='796' x2='59.2' y2='860' stroke='#a8732a' stroke-width='0.85'/>
<line x1='69.4' y1='796' x2='69.4' y2='860' stroke='#a8732a' stroke-width='0.85'/>
<line x1='79.3' y1='796' x2='79.3' y2='860' stroke='#a8732a' stroke-width='0.85'/>
<line x1='89.3' y1='796' x2='89.3' y2='860' stroke='#a8732a' stroke-width='0.85'/>
<line x1='99.5' y1='796' x2='99.5' y2='860' stroke='#a8732a' stroke-width='0.85'/>
<line x1='30' y1='657.3' x2='110' y2='703.5' stroke='#8c8440' stroke-width='0.85'/>
<line x1='30' y1='657.3' x2='110' y2='611.0' stroke='#a8732a' stroke-width='0.85'/>
<line x1='30' y1='668.8' x2='110' y2='715.1' stroke='#8c8440' stroke-width='0.85'/>
<line x1='30' y1='668.8' x2='110' y2='622.6' stroke='#a8732a' stroke-width='0.85'/>
<line x1='30' y1='680.4' x2='110' y2='726.6' stroke='#8c8440' stroke-width='0.85'/>
<line x1='30' y1='680.4' x2='110' y2='634.2' stroke='#a8732a' stroke-width='0.85'/>
<line x1='30' y1='692.0' x2='110' y2='738.2' stroke='#8c8440' stroke-width='0.85'/>
<line x1='30' y1='692.0' x2='110' y2='645.7' stroke='#a8732a' stroke-width='0.85'/>
<line x1='30' y1='703.5' x2='110' y2='749.8' stroke='#8c8440' stroke-width='0.85'/>
<line x1='30' y1='703.5' x2='110' y2='657.3' stroke='#a8732a' stroke-width='0.85'/>
<line x1='30' y1='715.1' x2='110' y2='761.3' stroke='#8c8440' stroke-width='0.85'/>
<line x1='30' y1='715.1' x2='110' y2='668.8' stroke='#a8732a' stroke-width='0.85'/>
<line x1='30' y1='726.6' x2='110' y2='772.9' stroke='#8c8440' stroke-width='0.85'/>
<line x1='30' y1='726.6' x2='110' y2='680.4' stroke='#a8732a' stroke-width='0.85'/>
<line x1='30' y1='738.2' x2='110' y2='784.4' stroke='#8c8440' stroke-width='0.85'/>
<line x1='30' y1='738.2' x2='110' y2='692.0' stroke='#a8732a' stroke-width='0.85'/>
<line x1='30' y1='749.8' x2='110' y2='796.0' stroke='#8c8440' stroke-width='0.85'/>
<line x1='30' y1='749.8' x2='110' y2='703.5' stroke='#a8732a' stroke-width='0.85'/>
<line x1='30' y1='761.3' x2='110' y2='807.6' stroke='#8c8440' stroke-width='0.85'/>
<line x1='30' y1='761.3' x2='110' y2='715.1' stroke='#a8732a' stroke-width='0.85'/>
<line x1='30' y1='772.9' x2='110' y2='819.1' stroke='#8c8440' stroke-width='0.85'/>
<line x1='30' y1='772.9' x2='110' y2='726.6' stroke='#a8732a' stroke-width='0.85'/>
<line x1='30' y1='784.4' x2='110' y2='830.7' stroke='#8c8440' stroke-width='0.85'/>
<line x1='30' y1='784.4' x2='110' y2='738.2' stroke='#a8732a' stroke-width='0.85'/>
<line x1='30' y1='796.0' x2='110' y2='842.2' stroke='#8c8440' stroke-width='0.85'/>
<line x1='30' y1='796.0' x2='110' y2='749.8' stroke='#a8732a' stroke-width='0.85'/>
<line x1='30' y1='807.6' x2='110' y2='853.8' stroke='#8c8440' stroke-width='0.85'/>
<line x1='30' y1='807.6' x2='110' y2='761.3' stroke='#a8732a' stroke-width='0.85'/>
<line x1='30' y1='819.1' x2='110' y2='865.4' stroke='#8c8440' stroke-width='0.85'/>
<line x1='30' y1='819.1' x2='110' y2='772.9' stroke='#a8732a' stroke-width='0.85'/>
<line x1='30' y1='830.7' x2='110' y2='876.9' stroke='#8c8440' stroke-width='0.85'/>
<line x1='30' y1='830.7' x2='110' y2='784.4' stroke='#a8732a' stroke-width='0.85'/>
<line x1='30' y1='842.2' x2='110' y2='888.5' stroke='#8c8440' stroke-width='0.85'/>
<line x1='30' y1='842.2' x2='110' y2='796.0' stroke='#a8732a' stroke-width='0.85'/>
<line x1='30' y1='853.8' x2='110' y2='900.0' stroke='#8c8440' stroke-width='0.85'/>
<line x1='30' y1='853.8' x2='110' y2='807.6' stroke='#a8732a' stroke-width='0.85'/>
<line x1='30' y1='865.4' x2='110' y2='911.6' stroke='#8c8440' stroke-width='0.85'/>
<line x1='30' y1='865.4' x2='110' y2='819.1' stroke='#a8732a' stroke-width='0.85'/>
<line x1='30' y1='876.9' x2='110' y2='923.2' stroke='#8c8440' stroke-width='0.85'/>
<line x1='30' y1='876.9' x2='110' y2='830.7' stroke='#a8732a' stroke-width='0.85'/>
<line x1='30' y1='888.5' x2='110' y2='934.7' stroke='#8c8440' stroke-width='0.85'/>
<line x1='30' y1='888.5' x2='110' y2='842.2' stroke='#a8732a' stroke-width='0.85'/>
<line x1='30' y1='900.0' x2='110' y2='946.3' stroke='#8c8440' stroke-width='0.85'/>
<line x1='30' y1='900.0' x2='110' y2='853.8' stroke='#a8732a' stroke-width='0.85'/>
<line x1='30' y1='911.6' x2='110' y2='957.8' stroke='#8c8440' stroke-width='0.85'/>
<line x1='30' y1='911.6' x2='110' y2='865.4' stroke='#a8732a' stroke-width='0.85'/>
<line x1='30' y1='923.2' x2='110' y2='969.4' stroke='#8c8440' stroke-width='0.85'/>
<line x1='30' y1='923.2' x2='110' y2='876.9' stroke='#a8732a' stroke-width='0.85'/>
<line x1='30' y1='934.7' x2='110' y2='981.0' stroke='#8c8440' stroke-width='0.85'/>
<line x1='30' y1='934.7' x2='110' y2='888.5' stroke='#a8732a' stroke-width='0.85'/>
<line x1='30' y1='946.3' x2='110' y2='992.5' stroke='#8c8440' stroke-width='0.85'/>
<line x1='30' y1='946.3' x2='110' y2='900.0' stroke='#a8732a' stroke-width='0.85'/>
</g>
<circle cx='39.3' cy='798.8' r='2.8' fill='url(#dg_fe)'/>
<circle cx='59.2' cy='798.8' r='2.8' fill='url(#dg_fe)'/>
<circle cx='79.3' cy='798.8' r='2.8' fill='url(#dg_fe)'/>
<circle cx='99.5' cy='798.8' r='2.8' fill='url(#dg_fe)'/>
<circle cx='49.3' cy='804.6' r='2.8' fill='url(#dg_te)'/>
<circle cx='69.4' cy='804.6' r='2.8' fill='url(#dg_te)'/>
<circle cx='89.3' cy='804.6' r='2.8' fill='url(#dg_te)'/>
<circle cx='39.3' cy='810.4' r='2.8' fill='url(#dg_fe)'/>
<circle cx='59.2' cy='810.4' r='2.8' fill='url(#dg_fe)'/>
<circle cx='79.3' cy='810.4' r='2.8' fill='url(#dg_fe)'/>
<circle cx='99.5' cy='810.4' r='2.8' fill='url(#dg_fe)'/>
<circle cx='49.3' cy='816.1' r='2.8' fill='url(#dg_fe)'/>
<circle cx='69.4' cy='816.1' r='2.8' fill='url(#dg_fe)'/>
<circle cx='89.3' cy='816.1' r='2.8' fill='url(#dg_fe)'/>
<circle cx='39.3' cy='821.9' r='2.8' fill='url(#dg_te)'/>
<circle cx='59.2' cy='821.9' r='2.8' fill='url(#dg_te)'/>
<circle cx='79.3' cy='821.9' r='2.8' fill='url(#dg_te)'/>
<circle cx='99.5' cy='821.9' r='2.8' fill='url(#dg_te)'/>
<circle cx='49.3' cy='827.7' r='2.8' fill='url(#dg_fe)'/>
<circle cx='69.4' cy='827.7' r='2.8' fill='url(#dg_fe)'/>
<circle cx='89.3' cy='827.7' r='2.8' fill='url(#dg_fe)'/>
<circle cx='39.3' cy='833.5' r='2.8' fill='url(#dg_fe)'/>
<circle cx='59.2' cy='833.5' r='2.8' fill='url(#dg_fe)'/>
<circle cx='79.3' cy='833.5' r='2.8' fill='url(#dg_fe)'/>
<circle cx='99.5' cy='833.5' r='2.8' fill='url(#dg_fe)'/>
<circle cx='49.3' cy='839.3' r='2.8' fill='url(#dg_te)'/>
<circle cx='69.4' cy='839.3' r='2.8' fill='url(#dg_te)'/>
<circle cx='89.3' cy='839.3' r='2.8' fill='url(#dg_te)'/>
<circle cx='39.3' cy='845.0' r='2.8' fill='url(#dg_fe)'/>
<circle cx='59.2' cy='845.0' r='2.8' fill='url(#dg_fe)'/>
<circle cx='79.3' cy='845.0' r='2.8' fill='url(#dg_fe)'/>
<circle cx='99.5' cy='845.0' r='2.8' fill='url(#dg_fe)'/>
<circle cx='49.3' cy='850.8' r='2.8' fill='url(#dg_fe)'/>
<circle cx='69.4' cy='850.8' r='2.8' fill='url(#dg_fe)'/>
<circle cx='89.3' cy='850.8' r='2.8' fill='url(#dg_fe)'/>
<circle cx='39.3' cy='856.6' r='2.8' fill='url(#dg_te)'/>
<circle cx='59.2' cy='856.6' r='2.8' fill='url(#dg_te)'/>
<circle cx='79.3' cy='856.6' r='2.8' fill='url(#dg_te)'/>
<circle cx='99.5' cy='856.6' r='2.8' fill='url(#dg_te)'/>
<text x='68.1' y='872.4' font-family='Liberation Serif' font-size='9.3' fill='#000' font-weight='bold' text-anchor='middle' >Top View</text>
<rect x='146.6' y='628.5' width='171.3' height='126.0' fill='none' stroke='#333' stroke-width='1.1'/>
<line x1='149.5' y1='754.5' x2='149.5' y2='757.5' stroke='#333' stroke-width='0.8'/>
<text x='149.5' y='762.9' font-family='Liberation Sans' font-size='5.8' fill='#222' text-anchor='middle' >-12%</text>
<line x1='177.1' y1='754.5' x2='177.1' y2='757.5' stroke='#333' stroke-width='0.8'/>
<text x='177.1' y='762.9' font-family='Liberation Sans' font-size='5.8' fill='#222' text-anchor='middle' >-8%</text>
<line x1='204.7' y1='754.5' x2='204.7' y2='757.5' stroke='#333' stroke-width='0.8'/>
<text x='204.7' y='762.9' font-family='Liberation Sans' font-size='5.8' fill='#222' text-anchor='middle' >-4%</text>
<line x1='232.3' y1='754.5' x2='232.3' y2='757.5' stroke='#333' stroke-width='0.8'/>
<text x='232.3' y='762.9' font-family='Liberation Sans' font-size='5.8' fill='#222' text-anchor='middle' >0%</text>
<line x1='259.9' y1='754.5' x2='259.9' y2='757.5' stroke='#333' stroke-width='0.8'/>
<text x='259.9' y='762.9' font-family='Liberation Sans' font-size='5.8' fill='#222' text-anchor='middle' >4%</text>
<line x1='287.5' y1='754.5' x2='287.5' y2='757.5' stroke='#333' stroke-width='0.8'/>
<text x='287.5' y='762.9' font-family='Liberation Sans' font-size='5.8' fill='#222' text-anchor='middle' >8%</text>
<line x1='315.1' y1='754.5' x2='315.1' y2='757.5' stroke='#333' stroke-width='0.8'/>
<text x='315.1' y='762.9' font-family='Liberation Sans' font-size='5.8' fill='#222' text-anchor='middle' >12%</text>
<line x1='146.6' y1='754.5' x2='143.6' y2='754.5' stroke='#333' stroke-width='0.8'/>
<text x='142.0' y='756.6' font-family='Liberation Sans' font-size='5.8' fill='#222' text-anchor='end' >2.1</text>
<line x1='146.6' y1='740.5' x2='143.6' y2='740.5' stroke='#333' stroke-width='0.8'/>
<text x='142.0' y='742.6' font-family='Liberation Sans' font-size='5.8' fill='#222' text-anchor='end' >2.2</text>
<line x1='146.6' y1='726.5' x2='143.6' y2='726.5' stroke='#333' stroke-width='0.8'/>
<text x='142.0' y='728.6' font-family='Liberation Sans' font-size='5.8' fill='#222' text-anchor='end' >2.3</text>
<line x1='146.6' y1='712.5' x2='143.6' y2='712.5' stroke='#333' stroke-width='0.8'/>
<text x='142.0' y='714.6' font-family='Liberation Sans' font-size='5.8' fill='#222' text-anchor='end' >2.4</text>
<line x1='146.6' y1='698.5' x2='143.6' y2='698.5' stroke='#333' stroke-width='0.8'/>
<text x='142.0' y='700.6' font-family='Liberation Sans' font-size='5.8' fill='#222' text-anchor='end' >2.5</text>
<line x1='146.6' y1='684.5' x2='143.6' y2='684.5' stroke='#333' stroke-width='0.8'/>
<text x='142.0' y='686.6' font-family='Liberation Sans' font-size='5.8' fill='#222' text-anchor='end' >2.6</text>
<line x1='146.6' y1='670.5' x2='143.6' y2='670.5' stroke='#333' stroke-width='0.8'/>
<text x='142.0' y='672.6' font-family='Liberation Sans' font-size='5.8' fill='#222' text-anchor='end' >2.7</text>
<line x1='146.6' y1='656.5' x2='143.6' y2='656.5' stroke='#333' stroke-width='0.8'/>
<text x='142.0' y='658.6' font-family='Liberation Sans' font-size='5.8' fill='#222' text-anchor='end' >2.8</text>
<line x1='146.6' y1='642.5' x2='143.6' y2='642.5' stroke='#333' stroke-width='0.8'/>
<text x='142.0' y='644.6' font-family='Liberation Sans' font-size='5.8' fill='#222' text-anchor='end' >2.9</text>
<line x1='146.6' y1='628.5' x2='143.6' y2='628.5' stroke='#333' stroke-width='0.8'/>
<text x='142.0' y='630.6' font-family='Liberation Sans' font-size='5.8' fill='#222' text-anchor='end' >3.0</text>
<line x1='163.3' y1='754.5' x2='163.3' y2='756.3' stroke='#333' stroke-width='0.7'/>
<line x1='190.9' y1='754.5' x2='190.9' y2='756.3' stroke='#333' stroke-width='0.7'/>
<line x1='218.5' y1='754.5' x2='218.5' y2='756.3' stroke='#333' stroke-width='0.7'/>
<line x1='246.1' y1='754.5' x2='246.1' y2='756.3' stroke='#333' stroke-width='0.7'/>
<line x1='273.7' y1='754.5' x2='273.7' y2='756.3' stroke='#333' stroke-width='0.7'/>
<line x1='301.3' y1='754.5' x2='301.3' y2='756.3' stroke='#333' stroke-width='0.7'/>
<line x1='146.6' y1='747.5' x2='144.79999999999998' y2='747.5' stroke='#333' stroke-width='0.7'/>
<line x1='146.6' y1='733.5' x2='144.79999999999998' y2='733.5' stroke='#333' stroke-width='0.7'/>
<line x1='146.6' y1='719.5' x2='144.79999999999998' y2='719.5' stroke='#333' stroke-width='0.7'/>
<line x1='146.6' y1='705.5' x2='144.79999999999998' y2='705.5' stroke='#333' stroke-width='0.7'/>
<line x1='146.6' y1='691.5' x2='144.79999999999998' y2='691.5' stroke='#333' stroke-width='0.7'/>
<line x1='146.6' y1='677.5' x2='144.79999999999998' y2='677.5' stroke='#333' stroke-width='0.7'/>
<line x1='146.6' y1='663.5' x2='144.79999999999998' y2='663.5' stroke='#333' stroke-width='0.7'/>
<line x1='146.6' y1='649.5' x2='144.79999999999998' y2='649.5' stroke='#333' stroke-width='0.7'/>
<line x1='146.6' y1='635.5' x2='144.79999999999998' y2='635.5' stroke='#333' stroke-width='0.7'/>
<polyline points='163.3,704.1 177.1,699.9 190.9,695.7 204.7,692.2 218.5,688.7 232.3,686.6 246.1,683.1 259.9,682.4 273.7,677.5 287.5,673.3 301.3,667.0' fill='none' stroke='#111' stroke-width='0.9'/>
<rect x='161.2' y='702.0' width='4.2' height='4.2' fill='#111'/>
<rect x='175.0' y='697.8' width='4.2' height='4.2' fill='#111'/>
<rect x='188.8' y='693.6' width='4.2' height='4.2' fill='#111'/>
<rect x='202.6' y='690.1' width='4.2' height='4.2' fill='#111'/>
<rect x='216.4' y='686.6' width='4.2' height='4.2' fill='#111'/>
<rect x='230.2' y='684.5' width='4.2' height='4.2' fill='#111'/>
<rect x='244.0' y='681.0' width='4.2' height='4.2' fill='#111'/>
<rect x='257.8' y='680.3' width='4.2' height='4.2' fill='#111'/>
<rect x='271.6' y='675.4' width='4.2' height='4.2' fill='#111'/>
<rect x='285.4' y='671.2' width='4.2' height='4.2' fill='#111'/>
<rect x='299.2' y='664.9' width='4.2' height='4.2' fill='#111'/>
<polyline points='163.3,688.0 177.1,692.2 190.9,695.7 204.7,698.5 218.5,702.0 232.3,706.9 246.1,709.0 259.9,706.2 273.7,706.9 287.5,709.7 301.3,712.5' fill='none' stroke='#e02828' stroke-width='0.9'/>
<circle cx='163.3' cy='688.0' r='2.2' fill='#e02828'/>
<circle cx='177.1' cy='692.2' r='2.2' fill='#e02828'/>
<circle cx='190.9' cy='695.7' r='2.2' fill='#e02828'/>
<circle cx='204.7' cy='698.5' r='2.2' fill='#e02828'/>
<circle cx='218.5' cy='702.0' r='2.2' fill='#e02828'/>
<circle cx='232.3' cy='706.9' r='2.2' fill='#e02828'/>
<circle cx='246.1' cy='709.0' r='2.2' fill='#e02828'/>
<circle cx='259.9' cy='706.2' r='2.2' fill='#e02828'/>
<circle cx='273.7' cy='706.9' r='2.2' fill='#e02828'/>
<circle cx='287.5' cy='709.7' r='2.2' fill='#e02828'/>
<circle cx='301.3' cy='712.5' r='2.2' fill='#e02828'/>
<polyline points='163.3,744.7 177.1,739.1 190.9,734.2 204.7,728.6 218.5,723.0 232.3,717.4 246.1,711.8 259.9,706.2 273.7,701.3 287.5,696.4 301.3,692.2' fill='none' stroke='#2040c8' stroke-width='0.9'/>
<path d='M163.3,742.0 L165.9,746.7 L160.7,746.7 Z' fill='#2040c8'/>
<path d='M177.1,736.4 L179.7,741.1 L174.5,741.1 Z' fill='#2040c8'/>
<path d='M190.9,731.5 L193.5,736.2 L188.3,736.2 Z' fill='#2040c8'/>
<path d='M204.7,725.9 L207.3,730.6 L202.1,730.6 Z' fill='#2040c8'/>
<path d='M218.5,720.2 L221.1,725.0 L215.9,725.0 Z' fill='#2040c8'/>
<path d='M232.3,714.6 L234.9,719.4 L229.7,719.4 Z' fill='#2040c8'/>
<path d='M246.1,709.1 L248.7,713.8 L243.5,713.8 Z' fill='#2040c8'/>
<path d='M259.9,703.5 L262.5,708.2 L257.3,708.2 Z' fill='#2040c8'/>
<path d='M273.7,698.5 L276.3,703.3 L271.1,703.3 Z' fill='#2040c8'/>
<path d='M287.5,693.6 L290.1,698.4 L284.9,698.4 Z' fill='#2040c8'/>
<path d='M301.3,689.5 L303.9,694.2 L298.7,694.2 Z' fill='#2040c8'/>
<polyline points='163.3,683.1 177.1,681.0 190.9,678.9 204.7,676.1 218.5,671.9 232.3,664.9 246.1,660.0 259.9,650.9 273.7,643.9 287.5,638.3 301.3,634.1' fill='none' stroke='#c040c8' stroke-width='0.9'/>
<path d='M163.3,685.9 L165.9,681.1 L160.7,681.1 Z' fill='#c040c8'/>
<path d='M177.1,683.8 L179.7,679.0 L174.5,679.0 Z' fill='#c040c8'/>
<path d='M190.9,681.6 L193.5,676.9 L188.3,676.9 Z' fill='#c040c8'/>
<path d='M204.7,678.9 L207.3,674.1 L202.1,674.1 Z' fill='#c040c8'/>
<path d='M218.5,674.6 L221.1,669.9 L215.9,669.9 Z' fill='#c040c8'/>
<path d='M232.3,667.6 L234.9,662.9 L229.7,662.9 Z' fill='#c040c8'/>
<path d='M246.1,662.8 L248.7,658.0 L243.5,658.0 Z' fill='#c040c8'/>
<path d='M259.9,653.7 L262.5,648.9 L257.3,648.9 Z' fill='#c040c8'/>
<path d='M273.7,646.6 L276.3,641.9 L271.1,641.9 Z' fill='#c040c8'/>
<path d='M287.5,641.0 L290.1,636.3 L284.9,636.3 Z' fill='#c040c8'/>
<path d='M301.3,636.9 L303.9,632.1 L298.7,632.1 Z' fill='#c040c8'/>
<ellipse cx='259.5' cy='705.3' rx='21.5' ry='6.8' fill='none' stroke='#e04050' stroke-width='0.9'/>
<text x='189.3' y='646.8' font-family='Liberation Serif' font-size='11.4' fill='#111' text-anchor='middle' >In-plane Strain</text>
<rect x='246.4' y='717.5' width='48.3' height='33.9' fill='#fff' stroke='#444' stroke-width='0.8'/>
<line x1='250.5' y1='722.8' x2='265.0' y2='722.8' stroke='#111' stroke-width='0.7'/><rect x='256.1' y='721.1' width='3.4' height='3.4' fill='#111'/><text x='267.5' y='725.2' font-family='Liberation Sans' font-size='6.8' fill='#222' text-anchor='start' >Fe5,Te1</text>
<line x1='250.5' y1='731.2' x2='265.0' y2='731.2' stroke='#e02828' stroke-width='0.7'/><circle cx='257.8' cy='731.2' r='1.9' fill='#e02828'/><text x='267.5' y='733.6' font-family='Liberation Sans' font-size='6.8' fill='#222' text-anchor='start' >Fe5,Ge</text>
<line x1='250.5' y1='739.6' x2='265.0' y2='739.6' stroke='#2040c8' stroke-width='0.7'/><path d='M257.8,737.5 L259.8,741.1 L255.7,741.1 Z' fill='#2040c8'/><text x='267.5' y='742.0' font-family='Liberation Sans' font-size='6.8' fill='#222' text-anchor='start' >Fe5,Fe4</text>
<line x1='250.5' y1='747.9' x2='265.0' y2='747.9' stroke='#c040c8' stroke-width='0.7'/><path d='M257.8,750.0 L259.8,746.4 L255.7,746.4 Z' fill='#c040c8'/><text x='267.5' y='750.3' font-family='Liberation Sans' font-size='6.8' fill='#222' text-anchor='start' >Fe5,Fe2</text>
<text x='232.3' y='774.4' font-family='Liberation Sans' font-size='6.8' fill='#222' text-anchor='middle' >Strain (ε)</text>
<text transform='translate(129.2,695.5) rotate(-90)' font-family='Liberation Sans' font-size='6.8' fill='#222' text-anchor='middle'>Dond length (Å)</text>
<rect x='146.5' y='783.4' width='171.1' height='124.7' fill='none' stroke='#333' stroke-width='1.1'/>
<line x1='149.1' y1='908.1' x2='149.1' y2='911.1' stroke='#333' stroke-width='0.8'/>
<text x='149.1' y='917.0' font-family='Liberation Sans' font-size='5.8' fill='#222' text-anchor='middle' >-12%</text>
<line x1='176.7' y1='908.1' x2='176.7' y2='911.1' stroke='#333' stroke-width='0.8'/>
<text x='176.7' y='917.0' font-family='Liberation Sans' font-size='5.8' fill='#222' text-anchor='middle' >-8%</text>
<line x1='204.3' y1='908.1' x2='204.3' y2='911.1' stroke='#333' stroke-width='0.8'/>
<text x='204.3' y='917.0' font-family='Liberation Sans' font-size='5.8' fill='#222' text-anchor='middle' >-4%</text>
<line x1='231.9' y1='908.1' x2='231.9' y2='911.1' stroke='#333' stroke-width='0.8'/>
<text x='231.9' y='917.0' font-family='Liberation Sans' font-size='5.8' fill='#222' text-anchor='middle' >0%</text>
<line x1='259.5' y1='908.1' x2='259.5' y2='911.1' stroke='#333' stroke-width='0.8'/>
<text x='259.5' y='917.0' font-family='Liberation Sans' font-size='5.8' fill='#222' text-anchor='middle' >4%</text>
<line x1='287.1' y1='908.1' x2='287.1' y2='911.1' stroke='#333' stroke-width='0.8'/>
<text x='287.1' y='917.0' font-family='Liberation Sans' font-size='5.8' fill='#222' text-anchor='middle' >8%</text>
<line x1='314.7' y1='908.1' x2='314.7' y2='911.1' stroke='#333' stroke-width='0.8'/>
<text x='314.7' y='917.0' font-family='Liberation Sans' font-size='5.8' fill='#222' text-anchor='middle' >12%</text>
<line x1='146.5' y1='908.0' x2='143.5' y2='908.0' stroke='#333' stroke-width='0.8'/>
<text x='141.9' y='910.1' font-family='Liberation Sans' font-size='5.8' fill='#222' text-anchor='end' >50</text>
<line x1='146.5' y1='891.3' x2='143.5' y2='891.3' stroke='#333' stroke-width='0.8'/>
<text x='141.9' y='893.3' font-family='Liberation Sans' font-size='5.8' fill='#222' text-anchor='end' >60</text>
<line x1='146.5' y1='874.5' x2='143.5' y2='874.5' stroke='#333' stroke-width='0.8'/>
<text x='141.9' y='876.6' font-family='Liberation Sans' font-size='5.8' fill='#222' text-anchor='end' >70</text>
<line x1='146.5' y1='857.8' x2='143.5' y2='857.8' stroke='#333' stroke-width='0.8'/>
<text x='141.9' y='859.9' font-family='Liberation Sans' font-size='5.8' fill='#222' text-anchor='end' >80</text>
<line x1='146.5' y1='841.0' x2='143.5' y2='841.0' stroke='#333' stroke-width='0.8'/>
<text x='141.9' y='843.1' font-family='Liberation Sans' font-size='5.8' fill='#222' text-anchor='end' >90</text>
<line x1='146.5' y1='824.3' x2='143.5' y2='824.3' stroke='#333' stroke-width='0.8'/>
<text x='141.9' y='826.4' font-family='Liberation Sans' font-size='5.8' fill='#222' text-anchor='end' >100</text>
<line x1='146.5' y1='807.6' x2='143.5' y2='807.6' stroke='#333' stroke-width='0.8'/>
<text x='141.9' y='809.6' font-family='Liberation Sans' font-size='5.8' fill='#222' text-anchor='end' >110</text>
<line x1='146.5' y1='790.8' x2='143.5' y2='790.8' stroke='#333' stroke-width='0.8'/>
<text x='141.9' y='792.9' font-family='Liberation Sans' font-size='5.8' fill='#222' text-anchor='end' >120</text>
<line x1='162.9' y1='908.1' x2='162.9' y2='909.9' stroke='#333' stroke-width='0.7'/>
<line x1='190.5' y1='908.1' x2='190.5' y2='909.9' stroke='#333' stroke-width='0.7'/>
<line x1='218.1' y1='908.1' x2='218.1' y2='909.9' stroke='#333' stroke-width='0.7'/>
<line x1='245.7' y1='908.1' x2='245.7' y2='909.9' stroke='#333' stroke-width='0.7'/>
<line x1='273.3' y1='908.1' x2='273.3' y2='909.9' stroke='#333' stroke-width='0.7'/>
<line x1='300.9' y1='908.1' x2='300.9' y2='909.9' stroke='#333' stroke-width='0.7'/>
<line x1='146.5' y1='899.6' x2='144.7' y2='899.6' stroke='#333' stroke-width='0.7'/>
<line x1='146.5' y1='882.9' x2='144.7' y2='882.9' stroke='#333' stroke-width='0.7'/>
<line x1='146.5' y1='866.1' x2='144.7' y2='866.1' stroke='#333' stroke-width='0.7'/>
<line x1='146.5' y1='849.4' x2='144.7' y2='849.4' stroke='#333' stroke-width='0.7'/>
<line x1='146.5' y1='832.7' x2='144.7' y2='832.7' stroke='#333' stroke-width='0.7'/>
<line x1='146.5' y1='815.9' x2='144.7' y2='815.9' stroke='#333' stroke-width='0.7'/>
<line x1='146.5' y1='799.2' x2='144.7' y2='799.2' stroke='#333' stroke-width='0.7'/>
<line x1='146.5' y1='782.5' x2='144.7' y2='782.5' stroke='#333' stroke-width='0.7'/>
<polyline points='162.9,785.8 176.7,787.0 190.5,789.1 204.3,790.5 218.1,792.2 231.9,795.0 245.7,796.2 259.5,800.0 273.3,801.5 287.1,803.0 300.9,803.4' fill='none' stroke='#111' stroke-width='0.9'/>
<rect x='160.8' y='783.7' width='4.2' height='4.2' fill='#111'/>
<rect x='174.6' y='784.9' width='4.2' height='4.2' fill='#111'/>
<rect x='188.4' y='787.0' width='4.2' height='4.2' fill='#111'/>
<rect x='202.2' y='788.4' width='4.2' height='4.2' fill='#111'/>
<rect x='216.0' y='790.1' width='4.2' height='4.2' fill='#111'/>
<rect x='229.8' y='792.9' width='4.2' height='4.2' fill='#111'/>
<rect x='243.6' y='794.1' width='4.2' height='4.2' fill='#111'/>
<rect x='257.4' y='797.9' width='4.2' height='4.2' fill='#111'/>
<rect x='271.2' y='799.4' width='4.2' height='4.2' fill='#111'/>
<rect x='285.0' y='800.9' width='4.2' height='4.2' fill='#111'/>
<rect x='298.8' y='801.3' width='4.2' height='4.2' fill='#111'/>
<polyline points='162.9,862.8 176.7,864.5 190.5,866.5 204.3,868.0 218.1,869.7 231.9,871.5 245.7,873.2 259.5,875.2 273.3,876.7 287.1,878.7 300.9,880.4' fill='none' stroke='#e02828' stroke-width='0.9'/>
<circle cx='162.9' cy='862.8' r='2.2' fill='#e02828'/>
<circle cx='176.7' cy='864.5' r='2.2' fill='#e02828'/>
<circle cx='190.5' cy='866.5' r='2.2' fill='#e02828'/>
<circle cx='204.3' cy='868.0' r='2.2' fill='#e02828'/>
<circle cx='218.1' cy='869.7' r='2.2' fill='#e02828'/>
<circle cx='231.9' cy='871.5' r='2.2' fill='#e02828'/>
<circle cx='245.7' cy='873.2' r='2.2' fill='#e02828'/>
<circle cx='259.5' cy='875.2' r='2.2' fill='#e02828'/>
<circle cx='273.3' cy='876.7' r='2.2' fill='#e02828'/>
<circle cx='287.1' cy='878.7' r='2.2' fill='#e02828'/>
<circle cx='300.9' cy='880.4' r='2.2' fill='#e02828'/>
<polyline points='162.9,872.8 176.7,876.2 190.5,880.0 204.3,883.7 218.1,886.9 231.9,889.6 245.7,892.3 259.5,895.4 273.3,896.3 287.1,899.5 300.9,901.0' fill='none' stroke='#2040c8' stroke-width='0.9'/>
<path d='M162.9,870.1 L165.5,874.8 L160.3,874.8 Z' fill='#2040c8'/>
<path d='M176.7,873.4 L179.3,878.2 L174.1,878.2 Z' fill='#2040c8'/>
<path d='M190.5,877.3 L193.1,882.0 L187.9,882.0 Z' fill='#2040c8'/>
<path d='M204.3,881.0 L206.9,885.7 L201.7,885.7 Z' fill='#2040c8'/>
<path d='M218.1,884.2 L220.7,888.9 L215.5,888.9 Z' fill='#2040c8'/>
<path d='M231.9,886.8 L234.5,891.6 L229.3,891.6 Z' fill='#2040c8'/>
<path d='M245.7,889.5 L248.3,894.2 L243.1,894.2 Z' fill='#2040c8'/>
<path d='M259.5,892.7 L262.1,897.4 L256.9,897.4 Z' fill='#2040c8'/>
<path d='M273.3,893.5 L275.9,898.3 L270.7,898.3 Z' fill='#2040c8'/>
<path d='M287.1,896.7 L289.7,901.4 L284.5,901.4 Z' fill='#2040c8'/>
<path d='M300.9,898.2 L303.5,902.9 L298.3,902.9 Z' fill='#2040c8'/>
<polyline points='162.9,872.0 176.7,870.8 190.5,868.7 204.3,868.0 218.1,866.7 231.9,865.6 245.7,864.0 259.5,863.1 273.3,861.5 287.1,859.0 300.9,855.9' fill='none' stroke='#c040c8' stroke-width='0.9'/>
<path d='M162.9,874.8 L165.5,870.0 L160.3,870.0 Z' fill='#c040c8'/>
<path d='M176.7,873.6 L179.3,868.9 L174.1,868.9 Z' fill='#c040c8'/>
<path d='M190.5,871.4 L193.1,866.7 L187.9,866.7 Z' fill='#c040c8'/>
<path d='M204.3,870.7 L206.9,866.0 L201.7,866.0 Z' fill='#c040c8'/>
<path d='M218.1,869.4 L220.7,864.7 L215.5,864.7 Z' fill='#c040c8'/>
<path d='M231.9,868.4 L234.5,863.7 L229.3,863.7 Z' fill='#c040c8'/>
<path d='M245.7,866.7 L248.3,862.0 L243.1,862.0 Z' fill='#c040c8'/>
<path d='M259.5,865.9 L262.1,861.2 L256.9,861.2 Z' fill='#c040c8'/>
<path d='M273.3,864.2 L275.9,859.5 L270.7,859.5 Z' fill='#c040c8'/>
<path d='M287.1,861.7 L289.7,857.0 L284.5,857.0 Z' fill='#c040c8'/>
<path d='M300.9,858.7 L303.5,854.0 L298.3,854.0 Z' fill='#c040c8'/>
<polyline points='162.9,904.7 176.7,902.6 190.5,900.1 204.3,898.6 218.1,897.1 231.9,896.8 245.7,895.9 259.5,895.9 273.3,896.8 287.1,895.6 300.9,894.3' fill='none' stroke='#10903a' stroke-width='0.9'/>
<path d='M162.9,901.8 L165.1,904.7 L162.9,907.5 L160.7,904.7 Z' fill='#10903a'/>
<path d='M176.7,899.8 L178.9,902.6 L176.7,905.5 L174.5,902.6 Z' fill='#10903a'/>
<path d='M190.5,897.3 L192.7,900.1 L190.5,903.0 L188.3,900.1 Z' fill='#10903a'/>
<path d='M204.3,895.8 L206.5,898.6 L204.3,901.5 L202.1,898.6 Z' fill='#10903a'/>
<path d='M218.1,894.3 L220.3,897.1 L218.1,900.0 L215.9,897.1 Z' fill='#10903a'/>
<path d='M231.9,893.9 L234.1,896.8 L231.9,899.6 L229.7,896.8 Z' fill='#10903a'/>
<path d='M245.7,893.1 L247.9,895.9 L245.7,898.8 L243.5,895.9 Z' fill='#10903a'/>
<path d='M259.5,893.1 L261.7,895.9 L259.5,898.8 L257.3,895.9 Z' fill='#10903a'/>
<path d='M273.3,893.9 L275.5,896.8 L273.3,899.6 L271.1,896.8 Z' fill='#10903a'/>
<path d='M287.1,892.8 L289.3,895.6 L287.1,898.5 L284.9,895.6 Z' fill='#10903a'/>
<path d='M300.9,891.4 L303.1,894.3 L300.9,897.1 L298.7,894.3 Z' fill='#10903a'/>
<polyline points='162.9,899.3 176.7,898.5 190.5,898.0 204.3,897.1 218.1,897.0 231.9,896.4 245.7,895.9 259.5,895.3 273.3,894.1 287.1,892.9 300.9,891.9' fill='none' stroke='#203080' stroke-width='0.9'/>
<path d='M160.2,899.3 L164.9,896.7 L164.9,901.9 Z' fill='#203080'/>
<path d='M174.0,898.5 L178.7,895.8 L178.7,901.1 Z' fill='#203080'/>
<path d='M187.8,898.0 L192.5,895.3 L192.5,900.6 Z' fill='#203080'/>
<path d='M201.6,897.1 L206.3,894.5 L206.3,899.8 Z' fill='#203080'/>
<path d='M215.3,897.0 L220.1,894.3 L220.1,899.6 Z' fill='#203080'/>
<path d='M229.2,896.4 L233.9,893.8 L233.9,899.1 Z' fill='#203080'/>
<path d='M243.0,895.9 L247.7,893.3 L247.7,898.6 Z' fill='#203080'/>
<path d='M256.8,895.3 L261.5,892.6 L261.5,897.9 Z' fill='#203080'/>
<path d='M270.6,894.1 L275.3,891.5 L275.3,896.7 Z' fill='#203080'/>
<path d='M284.4,892.9 L289.1,890.3 L289.1,895.6 Z' fill='#203080'/>
<path d='M298.2,891.9 L302.9,889.3 L302.9,894.6 Z' fill='#203080'/>
<rect x='170.8' y='803' width='69' height='50.8' fill='#fff' stroke='#333' stroke-width='0.8'/>
<line x1='174.5' y1='809.2' x2='189.5' y2='809.2' stroke='#111' stroke-width='0.7'/><rect x='180.3' y='807.5' width='3.4' height='3.4' fill='#111'/><text x='192.0' y='811.6' font-family='Liberation Sans' font-size='6.8' fill='#222' text-anchor='start' >∠Te1-Fe5-Ge</text>
<line x1='174.5' y1='817.4' x2='189.5' y2='817.4' stroke='#e02828' stroke-width='0.7'/><circle cx='182.0' cy='817.4' r='1.9' fill='#e02828'/><text x='192.0' y='819.8' font-family='Liberation Sans' font-size='6.8' fill='#222' text-anchor='start' >∠Te1-Fe5-Fe4</text>
<line x1='174.5' y1='825.5' x2='189.5' y2='825.5' stroke='#2040c8' stroke-width='0.7'/><path d='M182.0,823.4 L184.0,827.0 L180.0,827.0 Z' fill='#2040c8'/><text x='192.0' y='827.9' font-family='Liberation Sans' font-size='6.8' fill='#222' text-anchor='start' >∠Te1-Fe5-Fe2</text>
<line x1='174.5' y1='833.7' x2='189.5' y2='833.7' stroke='#c040c8' stroke-width='0.7'/><path d='M182.0,835.8 L184.0,832.1 L180.0,832.1 Z' fill='#c040c8'/><text x='192.0' y='836.1' font-family='Liberation Sans' font-size='6.8' fill='#222' text-anchor='start' >∠Ge-Fe5-Fe4</text>
<line x1='174.5' y1='841.8' x2='189.5' y2='841.8' stroke='#10903a' stroke-width='0.7'/><path d='M182.0,839.6 L183.7,841.8 L182.0,844.0 L180.3,841.8 Z' fill='#10903a'/><text x='192.0' y='844.2' font-family='Liberation Sans' font-size='6.8' fill='#222' text-anchor='start' >∠Ge-Fe5-Fe2</text>
<line x1='174.5' y1='850.0' x2='189.5' y2='850.0' stroke='#203080' stroke-width='0.7'/><path d='M179.9,850.0 L183.5,847.9 L183.5,852.0 Z' fill='#203080'/><text x='192.0' y='852.4' font-family='Liberation Sans' font-size='6.8' fill='#222' text-anchor='start' >∠Fe4-Fe5-Fe2</text>
<text x='277.5' y='828.8' font-family='Liberation Serif' font-size='11.5' fill='#111' text-anchor='middle' >In-plane Strain</text>
<text x='231.5' y='929.0' font-family='Liberation Sans' font-size='6.8' fill='#222' text-anchor='middle' >Strain (ε)</text>
<text transform='translate(128.2,850.7) rotate(-90)' font-family='Liberation Sans' font-size='6.8' fill='#222' text-anchor='middle'>Angle (θ)</text>
<defs>
<radialGradient id='eg_b' cx='0.5' cy='0.5' r='0.55'><stop offset='0' stop-color='#e8e8ff'/><stop offset='0.2' stop-color='#8c8cc8'/><stop offset='0.75' stop-color='#6a6aae'/><stop offset='1' stop-color='#50508a'/></radialGradient>
<radialGradient id='eg_o' cx='0.45' cy='0.45' r='0.6'><stop offset='0' stop-color='#f8c860'/><stop offset='0.6' stop-color='#d88a1e'/><stop offset='1' stop-color='#b06a10'/></radialGradient>
<radialGradient id='eg_g' cx='0.45' cy='0.45' r='0.6'><stop offset='0' stop-color='#90d090'/><stop offset='0.6' stop-color='#3e9a52'/><stop offset='1' stop-color='#2a7a3a'/></radialGradient>
</defs>
<line x1='388.4' y1='738.8' x2='388.4' y2='755.0' stroke='#d08a22' stroke-width='2.6'/><line x1='388.4' y1='755.0' x2='388.4' y2='771.2' stroke='#7a7ab8' stroke-width='2.6'/>
<line x1='388.4' y1='771.2' x2='388.4' y2='786.5' stroke='#7a7ab8' stroke-width='2.6'/><line x1='388.4' y1='786.5' x2='388.4' y2='801.8' stroke='#d08a22' stroke-width='2.6'/>
<line x1='431.4' y1='738.8' x2='431.5' y2='755.0' stroke='#d08a22' stroke-width='2.6'/><line x1='431.5' y1='755.0' x2='431.7' y2='771.2' stroke='#7a7ab8' stroke-width='2.6'/>
<line x1='431.7' y1='771.2' x2='431.5' y2='786.5' stroke='#7a7ab8' stroke-width='2.6'/><line x1='431.5' y1='786.5' x2='431.4' y2='801.8' stroke='#d08a22' stroke-width='2.6'/>
<line x1='359.9' y1='786.1' x2='374.1' y2='794.0' stroke='#7a7ab8' stroke-width='2.6'/><line x1='374.1' y1='794.0' x2='388.4' y2='801.8' stroke='#d08a22' stroke-width='2.6'/>
<line x1='402.8' y1='786.1' x2='395.6' y2='794.0' stroke='#7a7ab8' stroke-width='2.6'/><line x1='395.6' y1='794.0' x2='388.4' y2='801.8' stroke='#d08a22' stroke-width='2.6'/>
<line x1='402.8' y1='786.1' x2='417.1' y2='794.0' stroke='#7a7ab8' stroke-width='2.6'/><line x1='417.1' y1='794.0' x2='431.4' y2='801.8' stroke='#d08a22' stroke-width='2.6'/>
<line x1='445.7' y1='786.1' x2='438.5' y2='794.0' stroke='#7a7ab8' stroke-width='2.6'/><line x1='438.5' y1='794.0' x2='431.4' y2='801.8' stroke='#d08a22' stroke-width='2.6'/>
<line x1='445.7' y1='755.4' x2='438.5' y2='747.1' stroke='#7a7ab8' stroke-width='2.6'/><line x1='438.5' y1='747.1' x2='431.4' y2='738.8' stroke='#d08a22' stroke-width='2.6'/>
<line x1='445.7' y1='755.4' x2='438.7' y2='763.3' stroke='#7a7ab8' stroke-width='2.6'/><line x1='438.7' y1='763.3' x2='431.7' y2='771.2' stroke='#7a7ab8' stroke-width='2.6'/>
<line x1='388.4' y1='771.2' x2='395.6' y2='763.3' stroke='#7a7ab8' stroke-width='2.6'/><line x1='395.6' y1='763.3' x2='402.8' y2='755.4' stroke='#7a7ab8' stroke-width='2.6'/>
<line x1='388.4' y1='771.2' x2='395.6' y2='778.7' stroke='#7a7ab8' stroke-width='2.6'/><line x1='395.6' y1='778.7' x2='402.8' y2='786.1' stroke='#7a7ab8' stroke-width='2.6'/>
<line x1='431.7' y1='771.2' x2='438.7' y2='778.7' stroke='#7a7ab8' stroke-width='2.6'/><line x1='438.7' y1='778.7' x2='445.7' y2='786.1' stroke='#7a7ab8' stroke-width='2.6'/>
<line x1='359.9' y1='755.4' x2='367.8' y2='763.3' stroke='#7a7ab8' stroke-width='2.6'/><line x1='367.8' y1='763.3' x2='375.7' y2='771.2' stroke='#3f9c55' stroke-width='2.6'/>
<line x1='359.9' y1='786.1' x2='367.8' y2='778.7' stroke='#7a7ab8' stroke-width='2.6'/><line x1='367.8' y1='778.7' x2='375.7' y2='771.2' stroke='#3f9c55' stroke-width='2.6'/>
<line x1='359.9' y1='755.4' x2='374.1' y2='747.1' stroke='#7a7ab8' stroke-width='2.6'/><line x1='374.1' y1='747.1' x2='388.4' y2='738.8' stroke='#d08a22' stroke-width='2.6'/>
<line x1='402.8' y1='755.4' x2='395.6' y2='747.1' stroke='#7a7ab8' stroke-width='2.6'/><line x1='395.6' y1='747.1' x2='388.4' y2='738.8' stroke='#d08a22' stroke-width='2.6'/>
<line x1='402.8' y1='755.4' x2='417.1' y2='747.1' stroke='#7a7ab8' stroke-width='2.6'/><line x1='417.1' y1='747.1' x2='431.4' y2='738.8' stroke='#d08a22' stroke-width='2.6'/>
<line x1='375.7' y1='771.2' x2='382.0' y2='771.2' stroke='#3f9c55' stroke-width='2.6'/><line x1='382.0' y1='771.2' x2='388.4' y2='771.2' stroke='#7a7ab8' stroke-width='2.6'/>
<line x1='388.4' y1='771.2' x2='402.6' y2='771.2' stroke='#7a7ab8' stroke-width='2.6'/><line x1='402.6' y1='771.2' x2='416.8' y2='771.2' stroke='#3f9c55' stroke-width='2.6'/>
<line x1='416.8' y1='771.2' x2='424.2' y2='771.2' stroke='#3f9c55' stroke-width='2.6'/><line x1='424.2' y1='771.2' x2='431.7' y2='771.2' stroke='#7a7ab8' stroke-width='2.6'/>
<line x1='375.7' y1='771.2' x2='389.2' y2='763.3' stroke='#3f9c55' stroke-width='2.6'/><line x1='389.2' y1='763.3' x2='402.8' y2='755.4' stroke='#7a7ab8' stroke-width='2.6'/>
<line x1='375.7' y1='771.2' x2='389.2' y2='778.7' stroke='#3f9c55' stroke-width='2.6'/><line x1='389.2' y1='778.7' x2='402.8' y2='786.1' stroke='#7a7ab8' stroke-width='2.6'/>
<line x1='416.8' y1='771.2' x2='409.8' y2='763.3' stroke='#3f9c55' stroke-width='2.6'/><line x1='409.8' y1='763.3' x2='402.8' y2='755.4' stroke='#7a7ab8' stroke-width='2.6'/>
<line x1='416.8' y1='771.2' x2='409.8' y2='778.7' stroke='#3f9c55' stroke-width='2.6'/><line x1='409.8' y1='778.7' x2='402.8' y2='786.1' stroke='#7a7ab8' stroke-width='2.6'/>
<line x1='416.8' y1='771.2' x2='431.2' y2='763.3' stroke='#3f9c55' stroke-width='2.6'/><line x1='431.2' y1='763.3' x2='445.7' y2='755.4' stroke='#7a7ab8' stroke-width='2.6'/>
<circle cx='388.4' cy='738.8' r='4.2' fill='url(#eg_o)'/>
<circle cx='431.4' cy='738.8' r='4.2' fill='url(#eg_o)'/>
<circle cx='388.4' cy='801.8' r='4.2' fill='url(#eg_o)'/>
<circle cx='431.4' cy='801.8' r='4.2' fill='url(#eg_o)'/>
<circle cx='375.7' cy='771.2' r='4.3' fill='url(#eg_g)'/>
<circle cx='416.8' cy='771.2' r='4.3' fill='url(#eg_g)'/>
<circle cx='359.9' cy='755.4' r='5.6' fill='url(#eg_b)'/>
<circle cx='402.8' cy='755.4' r='5.6' fill='url(#eg_b)'/>
<circle cx='445.7' cy='755.4' r='5.6' fill='url(#eg_b)'/>
<circle cx='388.4' cy='771.2' r='5.6' fill='url(#eg_b)'/>
<circle cx='431.7' cy='771.2' r='5.6' fill='url(#eg_b)'/>
<circle cx='359.9' cy='786.1' r='5.6' fill='url(#eg_b)'/>
<circle cx='402.8' cy='786.1' r='5.6' fill='url(#eg_b)'/>
<circle cx='445.7' cy='786.1' r='5.6' fill='url(#eg_b)'/>
<line x1='359.9' y1='755.4' x2='388.4' y2='738.8' stroke='#d42a3a' stroke-width='1.6'/><path d='M386.0,742.5 L388.4,738.8 L383.9,739.1 Z' fill='#d42a3a'/>
<line x1='388.4' y1='738.8' x2='402.8' y2='755.4' stroke='#d42a3a' stroke-width='1.6'/><path d='M398.7,753.7 L402.8,755.4 L401.7,751.1 Z' fill='#d42a3a'/>
<line x1='362.0' y1='755.4' x2='400.5' y2='755.4' stroke='#d42a3a' stroke-width='1.4'/><path d='M396.5,757.4 L400.5,755.4 L396.5,753.4 Z' fill='#d42a3a'/><path d='M366.0,757.4 L362.0,755.4 L366.0,753.4 Z' fill='#d42a3a'/>
<line x1='402.8' y1='755.4' x2='431.4' y2='738.8' stroke='#2450b0' stroke-width='1.6'/><path d='M428.9,742.5 L431.4,738.8 L426.9,739.1 Z' fill='#2450b0'/>
<line x1='431.4' y1='738.8' x2='431.6' y2='768.5' stroke='#2450b0' stroke-width='1.6'/><path d='M429.6,764.5 L431.6,768.5 L433.6,764.5 Z' fill='#2450b0'/>
<line x1='405.0' y1='758.0' x2='429.5' y2='769.5' stroke='#2450b0' stroke-width='1.4'/><path d='M425.0,769.6 L429.5,769.5 L426.7,766.0 Z' fill='#2450b0'/><path d='M407.8,761.5 L405.0,758.0 L409.5,757.9 Z' fill='#2450b0'/>
<line x1='359.9' y1='758.0' x2='359.9' y2='783.5' stroke='#f0c020' stroke-width='1.6'/><path d='M357.9,779.5 L359.9,783.5 L361.9,779.5 Z' fill='#f0c020'/><path d='M357.9,762.0 L359.9,758.0 L361.9,762.0 Z' fill='#f0c020'/>
<line x1='359.9' y1='755.4' x2='373.5' y2='770.0' stroke='#f0c020' stroke-width='1.5'/><path d='M369.3,768.4 L373.5,770.0 L372.2,765.7 Z' fill='#f0c020'/>
<line x1='373.5' y1='772.4' x2='362.0' y2='785.0' stroke='#f0c020' stroke-width='1.5'/><path d='M363.2,780.7 L362.0,785.0 L366.2,783.4 Z' fill='#f0c020'/>
<text x='360.3' y='749.3' font-family='Liberation Serif' font-size='7.6' fill='#333' text-anchor='middle' >Fe1</text>
<text x='389.3' y='749.3' font-family='Liberation Serif' font-size='7.6' fill='#333' text-anchor='middle' >θ1</text>
<text x='405.0' y='749.3' font-family='Liberation Serif' font-size='7.6' fill='#333' text-anchor='middle' >Fe1</text>
<text x='426.9' y='750.7' font-family='Liberation Serif' font-size='7.6' fill='#333' text-anchor='middle' >θ2</text>
<text x='382.2' y='758.0' font-family='Liberation Serif' font-size='7.6' fill='#333' text-anchor='middle' >d1</text>
<text x='420.3' y='762.4' font-family='Liberation Serif' font-size='7.6' fill='#333' text-anchor='middle' >d2</text>
<text x='355.0' y='773.8' font-family='Liberation Serif' font-size='7.6' fill='#333' text-anchor='middle' >d3</text>
<text x='366.9' y='773.8' font-family='Liberation Serif' font-size='7.6' fill='#333' text-anchor='middle' >θ3</text>
<text x='443.5' y='773.8' font-family='Liberation Serif' font-size='7.6' fill='#333' text-anchor='middle' >Fe3</text>
<text x='360.3' y='799.2' font-family='Liberation Serif' font-size='7.6' fill='#333' text-anchor='middle' >Fe2</text>
<rect x='498.5' y='631.2' width='170.9' height='124.3' fill='none' stroke='#333' stroke-width='0.9'/>
<line x1='498.6' y1='755.5' x2='498.6' y2='752.5' stroke='#333' stroke-width='0.8'/>
<line x1='498.6' y1='631.2' x2='498.6' y2='634.2' stroke='#333' stroke-width='0.8'/>
<text x='498.6' y='767.6' font-family='Liberation Serif' font-size='9.5' fill='#222' text-anchor='middle' >-6</text>
<line x1='527.0' y1='755.5' x2='527.0' y2='752.5' stroke='#333' stroke-width='0.8'/>
<line x1='527.0' y1='631.2' x2='527.0' y2='634.2' stroke='#333' stroke-width='0.8'/>
<text x='527.0' y='767.6' font-family='Liberation Serif' font-size='9.5' fill='#222' text-anchor='middle' >-4</text>
<line x1='555.5' y1='755.5' x2='555.5' y2='752.5' stroke='#333' stroke-width='0.8'/>
<line x1='555.5' y1='631.2' x2='555.5' y2='634.2' stroke='#333' stroke-width='0.8'/>
<text x='555.5' y='767.6' font-family='Liberation Serif' font-size='9.5' fill='#222' text-anchor='middle' >-2</text>
<line x1='584.0' y1='755.5' x2='584.0' y2='752.5' stroke='#333' stroke-width='0.8'/>
<line x1='584.0' y1='631.2' x2='584.0' y2='634.2' stroke='#333' stroke-width='0.8'/>
<text x='584.0' y='767.6' font-family='Liberation Serif' font-size='9.5' fill='#222' text-anchor='middle' >0</text>
<line x1='612.5' y1='755.5' x2='612.5' y2='752.5' stroke='#333' stroke-width='0.8'/>
<line x1='612.5' y1='631.2' x2='612.5' y2='634.2' stroke='#333' stroke-width='0.8'/>
<text x='612.5' y='767.6' font-family='Liberation Serif' font-size='9.5' fill='#222' text-anchor='middle' >2</text>
<line x1='641.0' y1='755.5' x2='641.0' y2='752.5' stroke='#333' stroke-width='0.8'/>
<line x1='641.0' y1='631.2' x2='641.0' y2='634.2' stroke='#333' stroke-width='0.8'/>
<text x='641.0' y='767.6' font-family='Liberation Serif' font-size='9.5' fill='#222' text-anchor='middle' >4</text>
<line x1='669.4' y1='755.5' x2='669.4' y2='752.5' stroke='#333' stroke-width='0.8'/>
<line x1='669.4' y1='631.2' x2='669.4' y2='634.2' stroke='#333' stroke-width='0.8'/>
<text x='669.4' y='767.6' font-family='Liberation Serif' font-size='9.5' fill='#222' text-anchor='middle' >6</text>
<line x1='498.5' y1='743.6' x2='501.5' y2='743.6' stroke='#333' stroke-width='0.8'/>
<line x1='669.4' y1='743.6' x2='666.4' y2='743.6' stroke='#333' stroke-width='0.8'/>
<text x='495.5' y='747.0' font-family='Liberation Serif' font-size='9.5' fill='#222' text-anchor='end' >2.4</text>
<line x1='498.5' y1='718.5' x2='501.5' y2='718.5' stroke='#333' stroke-width='0.8'/>
<line x1='669.4' y1='718.5' x2='666.4' y2='718.5' stroke='#333' stroke-width='0.8'/>
<text x='495.5' y='721.9' font-family='Liberation Serif' font-size='9.5' fill='#222' text-anchor='end' >2.8</text>
<line x1='498.5' y1='693.4' x2='501.5' y2='693.4' stroke='#333' stroke-width='0.8'/>
<line x1='669.4' y1='693.4' x2='666.4' y2='693.4' stroke='#333' stroke-width='0.8'/>
<text x='495.5' y='696.8' font-family='Liberation Serif' font-size='9.5' fill='#222' text-anchor='end' >3.2</text>
<line x1='498.5' y1='668.3' x2='501.5' y2='668.3' stroke='#333' stroke-width='0.8'/>
<line x1='669.4' y1='668.3' x2='666.4' y2='668.3' stroke='#333' stroke-width='0.8'/>
<text x='495.5' y='671.7' font-family='Liberation Serif' font-size='9.5' fill='#222' text-anchor='end' >3.6</text>
<line x1='498.5' y1='643.2' x2='501.5' y2='643.2' stroke='#333' stroke-width='0.8'/>
<line x1='669.4' y1='643.2' x2='666.4' y2='643.2' stroke='#333' stroke-width='0.8'/>
<text x='495.5' y='646.6' font-family='Liberation Serif' font-size='9.5' fill='#222' text-anchor='end' >4.0</text>
<line x1='512.8' y1='755.5' x2='512.8' y2='753.7' stroke='#333' stroke-width='0.7'/>
<line x1='512.8' y1='631.2' x2='512.8' y2='633.0' stroke='#333' stroke-width='0.7'/>
<line x1='541.3' y1='755.5' x2='541.3' y2='753.7' stroke='#333' stroke-width='0.7'/>
<line x1='541.3' y1='631.2' x2='541.3' y2='633.0' stroke='#333' stroke-width='0.7'/>
<line x1='569.8' y1='755.5' x2='569.8' y2='753.7' stroke='#333' stroke-width='0.7'/>
<line x1='569.8' y1='631.2' x2='569.8' y2='633.0' stroke='#333' stroke-width='0.7'/>
<line x1='598.2' y1='755.5' x2='598.2' y2='753.7' stroke='#333' stroke-width='0.7'/>
<line x1='598.2' y1='631.2' x2='598.2' y2='633.0' stroke='#333' stroke-width='0.7'/>
<line x1='626.7' y1='755.5' x2='626.7' y2='753.7' stroke='#333' stroke-width='0.7'/>
<line x1='626.7' y1='631.2' x2='626.7' y2='633.0' stroke='#333' stroke-width='0.7'/>
<line x1='655.2' y1='755.5' x2='655.2' y2='753.7' stroke='#333' stroke-width='0.7'/>
<line x1='655.2' y1='631.2' x2='655.2' y2='633.0' stroke='#333' stroke-width='0.7'/>
<line x1='498.5' y1='756.1' x2='500.3' y2='756.1' stroke='#333' stroke-width='0.7'/>
<line x1='669.4' y1='756.1' x2='667.6' y2='756.1' stroke='#333' stroke-width='0.7'/>
<line x1='498.5' y1='731.0' x2='500.3' y2='731.0' stroke='#333' stroke-width='0.7'/>
<line x1='669.4' y1='731.0' x2='667.6' y2='731.0' stroke='#333' stroke-width='0.7'/>
<line x1='498.5' y1='706.0' x2='500.3' y2='706.0' stroke='#333' stroke-width='0.7'/>
<line x1='669.4' y1='706.0' x2='667.6' y2='706.0' stroke='#333' stroke-width='0.7'/>
<line x1='498.5' y1='680.9' x2='500.3' y2='680.9' stroke='#333' stroke-width='0.7'/>
<line x1='669.4' y1='680.9' x2='667.6' y2='680.9' stroke='#333' stroke-width='0.7'/>
<line x1='498.5' y1='655.8' x2='500.3' y2='655.8' stroke='#333' stroke-width='0.7'/>
<line x1='669.4' y1='655.8' x2='667.6' y2='655.8' stroke='#333' stroke-width='0.7'/>
<polyline points='512.8,660.8 527.0,658.6 541.3,655.8 555.5,653.2 569.8,651.0 584.0,648.5 598.2,646.3 612.5,643.8 626.7,641.3 641.0,638.8 655.2,636.3' fill='none' stroke='#111' stroke-width='0.9'/>
<rect x='510.7' y='658.7' width='4.2' height='4.2' fill='#111'/>
<rect x='524.9' y='656.5' width='4.2' height='4.2' fill='#111'/>
<rect x='539.2' y='653.6' width='4.2' height='4.2' fill='#111'/>
<rect x='553.4' y='651.1' width='4.2' height='4.2' fill='#111'/>
<rect x='567.7' y='648.9' width='4.2' height='4.2' fill='#111'/>
<rect x='581.9' y='646.4' width='4.2' height='4.2' fill='#111'/>
<rect x='596.1' y='644.2' width='4.2' height='4.2' fill='#111'/>
<rect x='610.4' y='641.7' width='4.2' height='4.2' fill='#111'/>
<rect x='624.6' y='639.2' width='4.2' height='4.2' fill='#111'/>
<rect x='638.9' y='636.7' width='4.2' height='4.2' fill='#111'/>
<rect x='653.1' y='634.2' width='4.2' height='4.2' fill='#111'/>
<polyline points='512.8,737.3 527.0,736.7 541.3,735.8 555.5,734.8 569.8,733.9 584.0,733.2 598.2,732.3 612.5,731.4 626.7,730.1 641.0,728.9 655.2,727.6' fill='none' stroke='#e02828' stroke-width='0.9'/>
<circle cx='512.8' cy='737.3' r='2.2' fill='#e02828'/>
<circle cx='527.0' cy='736.7' r='2.2' fill='#e02828'/>
<circle cx='541.3' cy='735.8' r='2.2' fill='#e02828'/>
<circle cx='555.5' cy='734.8' r='2.2' fill='#e02828'/>
<circle cx='569.8' cy='733.9' r='2.2' fill='#e02828'/>
<circle cx='584.0' cy='733.2' r='2.2' fill='#e02828'/>
<circle cx='598.2' cy='732.3' r='2.2' fill='#e02828'/>
<circle cx='612.5' cy='731.4' r='2.2' fill='#e02828'/>
<circle cx='626.7' cy='730.1' r='2.2' fill='#e02828'/>
<circle cx='641.0' cy='728.9' r='2.2' fill='#e02828'/>
<circle cx='655.2' cy='727.6' r='2.2' fill='#e02828'/>
<polyline points='512.8,733.9 527.0,735.1 541.3,736.4 555.5,737.6 569.8,738.9 584.0,739.5 598.2,742.0 612.5,742.7 626.7,743.3 641.0,743.6 655.2,744.2' fill='none' stroke='#2040c0' stroke-width='0.9'/>
<path d='M512.8,731.1 L515.4,735.9 L510.2,735.9 Z' fill='#2040c0'/>
<path d='M527.0,732.4 L529.7,737.1 L524.4,737.1 Z' fill='#2040c0'/>
<path d='M541.3,733.6 L543.9,738.4 L538.6,738.4 Z' fill='#2040c0'/>
<path d='M555.5,734.9 L558.2,739.6 L552.9,739.6 Z' fill='#2040c0'/>
<path d='M569.8,736.1 L572.4,740.9 L567.1,740.9 Z' fill='#2040c0'/>
<path d='M584.0,736.8 L586.6,741.5 L581.4,741.5 Z' fill='#2040c0'/>
<path d='M598.2,739.3 L600.9,744.0 L595.6,744.0 Z' fill='#2040c0'/>
<path d='M612.5,739.9 L615.1,744.6 L609.8,744.6 Z' fill='#2040c0'/>
<path d='M626.7,740.5 L629.4,745.3 L624.1,745.3 Z' fill='#2040c0'/>
<path d='M641.0,740.9 L643.6,745.6 L638.3,745.6 Z' fill='#2040c0'/>
<path d='M655.2,741.5 L657.8,746.2 L652.6,746.2 Z' fill='#2040c0'/>
<rect x='511.4' y='674.6' width='67.4' height='35.4' fill='#fff' stroke='#bbb' stroke-width='0.6'/>
<line x1='512.4' y1='682.5' x2='528.4' y2='682.5' stroke='#111' stroke-width='0.9'/><rect x='518.6' y='680.7' width='3.6' height='3.6' fill='#111'/><text x='530.9' y='685.7' font-family='Liberation Serif' font-size='9' fill='#222' text-anchor='start' >d1(Fe1-Fe1)</text>
<line x1='512.4' y1='694.0' x2='528.4' y2='694.0' stroke='#e02828' stroke-width='0.9'/><circle cx='520.4' cy='694.0' r='2.0' fill='#e02828'/><text x='530.9' y='697.2' font-family='Liberation Serif' font-size='9' fill='#222' text-anchor='start' >d2(Fe1-Fe3)</text>
<line x1='512.4' y1='705.5' x2='528.4' y2='705.5' stroke='#2040c0' stroke-width='0.9'/><path d='M520.4,703.2 L522.6,707.1 L518.2,707.1 Z' fill='#2040c0'/><text x='530.9' y='708.7' font-family='Liberation Serif' font-size='9' fill='#222' text-anchor='start' >d3(Fe1-Fe2)</text>
<text x='583.6' y='774.6' font-family='Liberation Serif' font-size='10.5' fill='#222' text-anchor='middle' >strain (%)</text>
<text transform='translate(478.8,692.4) rotate(-90)' font-family='Liberation Serif' font-size='10.5' fill='#222' text-anchor='middle'>Distance (Å)</text>
<rect x='498.5' y='786.4' width='170.9' height='125.3' fill='none' stroke='#333' stroke-width='0.9'/>
<line x1='498.6' y1='911.7' x2='498.6' y2='908.7' stroke='#333' stroke-width='0.8'/>
<line x1='498.6' y1='786.4' x2='498.6' y2='789.4' stroke='#333' stroke-width='0.8'/>
<text x='498.6' y='923.8' font-family='Liberation Serif' font-size='9.5' fill='#222' text-anchor='middle' >-6</text>
<line x1='527.0' y1='911.7' x2='527.0' y2='908.7' stroke='#333' stroke-width='0.8'/>
<line x1='527.0' y1='786.4' x2='527.0' y2='789.4' stroke='#333' stroke-width='0.8'/>
<text x='527.0' y='923.8' font-family='Liberation Serif' font-size='9.5' fill='#222' text-anchor='middle' >-4</text>
<line x1='555.5' y1='911.7' x2='555.5' y2='908.7' stroke='#333' stroke-width='0.8'/>
<line x1='555.5' y1='786.4' x2='555.5' y2='789.4' stroke='#333' stroke-width='0.8'/>
<text x='555.5' y='923.8' font-family='Liberation Serif' font-size='9.5' fill='#222' text-anchor='middle' >-2</text>
<line x1='584.0' y1='911.7' x2='584.0' y2='908.7' stroke='#333' stroke-width='0.8'/>
<line x1='584.0' y1='786.4' x2='584.0' y2='789.4' stroke='#333' stroke-width='0.8'/>
<text x='584.0' y='923.8' font-family='Liberation Serif' font-size='9.5' fill='#222' text-anchor='middle' >0</text>
<line x1='612.5' y1='911.7' x2='612.5' y2='908.7' stroke='#333' stroke-width='0.8'/>
<line x1='612.5' y1='786.4' x2='612.5' y2='789.4' stroke='#333' stroke-width='0.8'/>
<text x='612.5' y='923.8' font-family='Liberation Serif' font-size='9.5' fill='#222' text-anchor='middle' >2</text>
<line x1='641.0' y1='911.7' x2='641.0' y2='908.7' stroke='#333' stroke-width='0.8'/>
<line x1='641.0' y1='786.4' x2='641.0' y2='789.4' stroke='#333' stroke-width='0.8'/>
<text x='641.0' y='923.8' font-family='Liberation Serif' font-size='9.5' fill='#222' text-anchor='middle' >4</text>
<line x1='669.4' y1='911.7' x2='669.4' y2='908.7' stroke='#333' stroke-width='0.8'/>
<line x1='669.4' y1='786.4' x2='669.4' y2='789.4' stroke='#333' stroke-width='0.8'/>
<text x='669.4' y='923.8' font-family='Liberation Serif' font-size='9.5' fill='#222' text-anchor='middle' >6</text>
<line x1='498.5' y1='911.7' x2='501.5' y2='911.7' stroke='#333' stroke-width='0.8'/>
<line x1='669.4' y1='911.7' x2='666.4' y2='911.7' stroke='#333' stroke-width='0.8'/>
<text x='495.5' y='915.1' font-family='Liberation Serif' font-size='9.5' fill='#222' text-anchor='end' >50</text>
<line x1='498.5' y1='889.0' x2='501.5' y2='889.0' stroke='#333' stroke-width='0.8'/>
<line x1='669.4' y1='889.0' x2='666.4' y2='889.0' stroke='#333' stroke-width='0.8'/>
<text x='495.5' y='892.4' font-family='Liberation Serif' font-size='9.5' fill='#222' text-anchor='end' >60</text>
<line x1='498.5' y1='866.3' x2='501.5' y2='866.3' stroke='#333' stroke-width='0.8'/>
<line x1='669.4' y1='866.3' x2='666.4' y2='866.3' stroke='#333' stroke-width='0.8'/>
<text x='495.5' y='869.8' font-family='Liberation Serif' font-size='9.5' fill='#222' text-anchor='end' >70</text>
<line x1='498.5' y1='843.7' x2='501.5' y2='843.7' stroke='#333' stroke-width='0.8'/>
<line x1='669.4' y1='843.7' x2='666.4' y2='843.7' stroke='#333' stroke-width='0.8'/>
<text x='495.5' y='847.1' font-family='Liberation Serif' font-size='9.5' fill='#222' text-anchor='end' >80</text>
<line x1='498.5' y1='821.0' x2='501.5' y2='821.0' stroke='#333' stroke-width='0.8'/>
<line x1='669.4' y1='821.0' x2='666.4' y2='821.0' stroke='#333' stroke-width='0.8'/>
<text x='495.5' y='824.4' font-family='Liberation Serif' font-size='9.5' fill='#222' text-anchor='end' >90</text>
<line x1='498.5' y1='798.3' x2='501.5' y2='798.3' stroke='#333' stroke-width='0.8'/>
<line x1='669.4' y1='798.3' x2='666.4' y2='798.3' stroke='#333' stroke-width='0.8'/>
<text x='495.5' y='801.7' font-family='Liberation Serif' font-size='9.5' fill='#222' text-anchor='end' >100</text>
<line x1='512.8' y1='911.7' x2='512.8' y2='909.9000000000001' stroke='#333' stroke-width='0.7'/>
<line x1='512.8' y1='786.4' x2='512.8' y2='788.1999999999999' stroke='#333' stroke-width='0.7'/>
<line x1='541.3' y1='911.7' x2='541.3' y2='909.9000000000001' stroke='#333' stroke-width='0.7'/>
<line x1='541.3' y1='786.4' x2='541.3' y2='788.1999999999999' stroke='#333' stroke-width='0.7'/>
<line x1='569.8' y1='911.7' x2='569.8' y2='909.9000000000001' stroke='#333' stroke-width='0.7'/>
<line x1='569.8' y1='786.4' x2='569.8' y2='788.1999999999999' stroke='#333' stroke-width='0.7'/>
<line x1='598.2' y1='911.7' x2='598.2' y2='909.9000000000001' stroke='#333' stroke-width='0.7'/>
<line x1='598.2' y1='786.4' x2='598.2' y2='788.1999999999999' stroke='#333' stroke-width='0.7'/>
<line x1='626.7' y1='911.7' x2='626.7' y2='909.9000000000001' stroke='#333' stroke-width='0.7'/>
<line x1='626.7' y1='786.4' x2='626.7' y2='788.1999999999999' stroke='#333' stroke-width='0.7'/>
<line x1='655.2' y1='911.7' x2='655.2' y2='909.9000000000001' stroke='#333' stroke-width='0.7'/>
<line x1='655.2' y1='786.4' x2='655.2' y2='788.1999999999999' stroke='#333' stroke-width='0.7'/>
<line x1='498.5' y1='900.4' x2='500.3' y2='900.4' stroke='#333' stroke-width='0.7'/>
<line x1='669.4' y1='900.4' x2='667.6' y2='900.4' stroke='#333' stroke-width='0.7'/>
<line x1='498.5' y1='877.7' x2='500.3' y2='877.7' stroke='#333' stroke-width='0.7'/>
<line x1='669.4' y1='877.7' x2='667.6' y2='877.7' stroke='#333' stroke-width='0.7'/>
<line x1='498.5' y1='855.0' x2='500.3' y2='855.0' stroke='#333' stroke-width='0.7'/>
<line x1='669.4' y1='855.0' x2='667.6' y2='855.0' stroke='#333' stroke-width='0.7'/>
<line x1='498.5' y1='832.3' x2='500.3' y2='832.3' stroke='#333' stroke-width='0.7'/>
<line x1='669.4' y1='832.3' x2='667.6' y2='832.3' stroke='#333' stroke-width='0.7'/>
<line x1='498.5' y1='809.6' x2='500.3' y2='809.6' stroke='#333' stroke-width='0.7'/>
<line x1='669.4' y1='809.6' x2='667.6' y2='809.6' stroke='#333' stroke-width='0.7'/>
<polyline points='512.8,811.7 527.0,808.7 541.3,806.9 555.5,805.1 569.8,803.7 584.0,802.8 598.2,802.2 612.5,801.0 626.7,800.1 641.0,799.4 655.2,798.5' fill='none' stroke='#111' stroke-width='0.9'/>
<rect x='510.7' y='809.6' width='4.2' height='4.2' fill='#111'/>
<rect x='524.9' y='806.6' width='4.2' height='4.2' fill='#111'/>
<rect x='539.2' y='804.8' width='4.2' height='4.2' fill='#111'/>
<rect x='553.4' y='803.0' width='4.2' height='4.2' fill='#111'/>
<rect x='567.7' y='801.6' width='4.2' height='4.2' fill='#111'/>
<rect x='581.9' y='800.7' width='4.2' height='4.2' fill='#111'/>
<rect x='596.1' y='800.1' width='4.2' height='4.2' fill='#111'/>
<rect x='610.4' y='798.9' width='4.2' height='4.2' fill='#111'/>
<rect x='624.6' y='798.0' width='4.2' height='4.2' fill='#111'/>
<rect x='638.9' y='797.3' width='4.2' height='4.2' fill='#111'/>
<rect x='653.1' y='796.4' width='4.2' height='4.2' fill='#111'/>
<polyline points='512.8,894.2 527.0,892.2 541.3,890.6 555.5,889.5 569.8,888.6 584.0,887.7 598.2,887.0 612.5,886.3 626.7,885.6 641.0,884.9 655.2,884.3' fill='none' stroke='#e02828' stroke-width='0.9'/>
<circle cx='512.8' cy='894.2' r='2.2' fill='#e02828'/>
<circle cx='527.0' cy='892.2' r='2.2' fill='#e02828'/>
<circle cx='541.3' cy='890.6' r='2.2' fill='#e02828'/>
<circle cx='555.5' cy='889.5' r='2.2' fill='#e02828'/>
<circle cx='569.8' cy='888.6' r='2.2' fill='#e02828'/>
<circle cx='584.0' cy='887.7' r='2.2' fill='#e02828'/>
<circle cx='598.2' cy='887.0' r='2.2' fill='#e02828'/>
<circle cx='612.5' cy='886.3' r='2.2' fill='#e02828'/>
<circle cx='626.7' cy='885.6' r='2.2' fill='#e02828'/>
<circle cx='641.0' cy='884.9' r='2.2' fill='#e02828'/>
<circle cx='655.2' cy='884.3' r='2.2' fill='#e02828'/>
<polyline points='512.8,885.4 527.0,887.9 541.3,889.7 555.5,891.5 569.8,893.8 584.0,896.3 598.2,898.3 612.5,899.9 626.7,901.5 641.0,902.6 655.2,904.0' fill='none' stroke='#2040c0' stroke-width='0.9'/>
<path d='M512.8,882.6 L515.4,887.4 L510.2,887.4 Z' fill='#2040c0'/>
<path d='M527.0,885.1 L529.7,889.9 L524.4,889.9 Z' fill='#2040c0'/>
<path d='M541.3,887.0 L543.9,891.7 L538.6,891.7 Z' fill='#2040c0'/>
<path d='M555.5,888.8 L558.2,893.5 L552.9,893.5 Z' fill='#2040c0'/>
<path d='M569.8,891.0 L572.4,895.8 L567.1,895.8 Z' fill='#2040c0'/>
<path d='M584.0,893.5 L586.6,898.3 L581.4,898.3 Z' fill='#2040c0'/>
<path d='M598.2,895.6 L600.9,900.3 L595.6,900.3 Z' fill='#2040c0'/>
<path d='M612.5,897.2 L615.1,901.9 L609.8,901.9 Z' fill='#2040c0'/>
<path d='M626.7,898.7 L629.4,903.5 L624.1,903.5 Z' fill='#2040c0'/>
<path d='M641.0,899.9 L643.6,904.6 L638.3,904.6 Z' fill='#2040c0'/>
<path d='M655.2,901.2 L657.8,906.0 L652.6,906.0 Z' fill='#2040c0'/>
<rect x='509.8' y='825.6' width='82.5' height='39.5' fill='#fff' stroke='#bbb' stroke-width='0.6'/>
<line x1='511.7' y1='832.9' x2='527.7' y2='832.9' stroke='#111' stroke-width='0.9'/><rect x='517.9' y='831.1' width='3.6' height='3.6' fill='#111'/><text x='530.2' y='836.3' font-family='Liberation Serif' font-size='9.5' fill='#222' text-anchor='start' >θ1(Fe1-Te-Fe1)</text>
<line x1='511.7' y1='846.2' x2='527.7' y2='846.2' stroke='#e02828' stroke-width='0.9'/><circle cx='519.7' cy='846.2' r='2.0' fill='#e02828'/><text x='530.2' y='849.6' font-family='Liberation Serif' font-size='9.5' fill='#222' text-anchor='start' >θ2(Fe1-Te-Fe3)</text>
<line x1='511.7' y1='859.5' x2='527.7' y2='859.5' stroke='#2040c0' stroke-width='0.9'/><path d='M519.7,857.2 L521.9,861.1 L517.5,861.1 Z' fill='#2040c0'/><text x='530.2' y='862.9' font-family='Liberation Serif' font-size='9.5' fill='#222' text-anchor='start' >θ3(Fe1-Ge-Fe2)</text>
<text x='583.6' y='931.4' font-family='Liberation Serif' font-size='10.5' fill='#222' text-anchor='middle' >strain (%)</text>
<text transform='translate(481.6,851.4) rotate(-90)' font-family='Liberation Serif' font-size='10.5' fill='#222' text-anchor='middle'>θ (°)</text>
<text x='4.7' y='16.6' font-family='Liberation Serif' font-size='20.5' fill='#000' text-anchor='start' >a</text>
<text x='3.2' y='371.0' font-family='Liberation Serif' font-size='19' fill='#000' text-anchor='start' >b</text>
<text x='339.5' y='368.6' font-family='Liberation Serif' font-size='19' fill='#000' text-anchor='start' >c</text>
<text x='3.5' y='622.0' font-family='Liberation Serif' font-size='19' fill='#000' text-anchor='start' >d</text>
<text x='339.5' y='622.6' font-family='Liberation Serif' font-size='19' fill='#000' text-anchor='start' >e</text>
</svg>
</body></html>
